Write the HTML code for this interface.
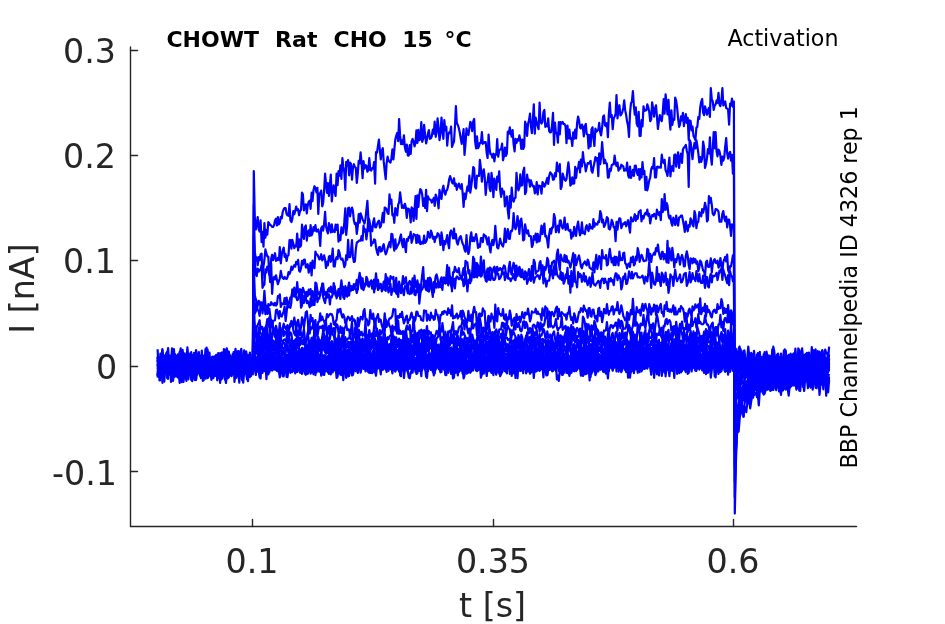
<!DOCTYPE html>
<html><head><meta charset="utf-8"><title>Activation</title>
<style>
html,body{margin:0;padding:0;background:#fff;}
svg{display:block;}
text{font-family:"DejaVu Sans","Liberation Sans",sans-serif;}
.tick{font-size:33.3px;fill:#262626;}
.lab{font-size:33.3px;fill:#262626;}
</style></head>
<body>
<svg width="945" height="624" viewBox="0 0 945 624">
<rect width="945" height="624" fill="#fff"/>
<g fill="none" stroke="#0000ff" stroke-width="2.2" stroke-linejoin="round" stroke-linecap="butt">
<path d="M157.6 360.2L158.5 365.0L159.5 362.6L160.4 366.4L161.4 369.7L162.4 352.4L163.3 363.2L164.3 366.5L165.3 362.5L166.2 356.6L167.2 361.9L168.1 365.7L169.1 365.0L170.1 359.1L171.0 358.4L172.0 362.5L173.0 359.3L173.9 364.6L174.9 368.4L175.8 366.4L176.8 358.7L177.8 368.4L178.7 361.8L179.7 363.0L180.7 369.1L181.6 364.7L182.6 363.8L183.5 363.9L184.5 363.5L185.5 365.6L186.4 370.4L187.4 358.3L188.3 353.1L189.3 364.4L190.3 361.6L191.2 363.8L192.2 368.1L193.2 364.8L194.1 360.8L195.1 363.6L196.0 350.0L197.0 354.2L198.0 368.7L198.9 366.6L199.9 372.4L200.9 364.0L201.8 361.4L202.8 360.0L203.7 363.5L204.7 360.9L205.7 363.9L206.6 355.8L207.6 359.5L208.5 361.5L209.5 363.8L210.5 368.6L211.4 361.6L212.4 364.3L213.4 372.7L214.3 365.5L215.3 368.3L216.2 365.2L217.2 367.2L218.2 369.1L219.1 367.7L220.1 369.7L221.1 359.6L222.0 366.6L223.0 355.3L223.9 357.3L224.9 349.5L225.9 363.3L226.8 357.8L227.8 356.8L228.8 363.8L229.7 360.9L230.7 366.3L231.6 367.2L232.6 369.8L233.6 357.5L234.5 365.1L235.5 371.5L236.4 360.1L237.4 361.4L238.4 366.4L239.3 371.7L240.3 366.2L241.3 368.8L242.2 368.5L243.2 358.4L244.1 359.5L245.1 361.6L246.1 351.6L247.0 364.2L248.0 363.9L249.0 364.2L249.9 362.8L250.9 367.3L251.8 363.4L252.8 370.6L253.8 171.0L254.8 218.2L255.8 229.5L256.7 224.3L257.7 217.0L258.7 229.4L259.6 231.6L260.6 220.3L261.6 242.1L262.5 231.8L263.5 246.6L264.4 223.2L265.4 237.7L266.4 230.1L267.3 234.6L268.3 222.1L269.3 223.5L270.2 225.1L271.2 225.5L272.1 226.9L273.1 227.0L274.1 225.2L275.0 220.5L276.0 218.7L277.0 225.5L277.9 217.1L278.9 224.3L279.8 222.8L280.8 216.9L281.8 218.4L282.7 212.0L283.7 209.2L284.6 208.0L285.6 208.0L286.6 214.1L287.5 215.3L288.5 215.8L289.5 204.1L290.4 220.2L291.4 222.1L292.3 219.2L293.3 211.2L294.3 214.2L295.2 211.1L296.2 206.5L297.2 210.2L298.1 209.2L299.1 215.2L300.0 211.1L301.0 210.0L302.0 192.6L302.9 194.4L303.9 210.3L304.8 205.1L305.8 204.3L306.8 213.5L307.7 205.6L308.7 201.8L309.7 200.6L310.6 208.8L311.6 192.7L312.5 201.1L313.5 190.0L314.5 186.2L315.4 188.0L316.4 192.3L317.4 187.8L318.3 214.0L319.3 193.5L320.2 193.3L321.2 190.6L322.2 206.3L323.1 203.5L324.1 191.0L325.1 173.5L326.0 183.3L327.0 193.0L327.9 183.1L328.9 195.9L329.9 185.0L330.8 174.5L331.8 201.4L332.7 191.5L333.7 185.3L334.7 192.2L335.6 195.9L336.6 173.5L337.6 185.1L338.5 171.2L339.5 175.6L340.4 165.3L341.4 178.9L342.4 158.0L343.3 166.7L344.3 172.0L345.3 190.0L346.2 161.9L347.2 165.8L348.1 160.0L349.1 175.3L350.1 162.7L351.0 163.9L352.0 179.7L352.9 168.1L353.9 164.2L354.9 167.3L355.8 167.8L356.8 183.0L357.8 173.3L358.7 160.8L359.7 163.4L360.6 152.3L361.6 163.5L362.6 178.2L363.5 161.2L364.5 168.7L365.5 165.2L366.4 165.9L367.4 171.7L368.3 170.0L369.3 158.0L370.3 170.2L371.2 170.5L372.2 168.2L373.2 168.5L374.1 162.1L375.1 183.7L376.0 152.0L377.0 152.6L378.0 145.6L378.9 139.6L379.9 150.5L380.8 159.3L381.8 150.7L382.8 148.2L383.7 161.2L384.7 170.8L385.7 179.2L386.6 163.5L387.6 156.7L388.5 160.5L389.5 161.7L390.5 162.6L391.4 158.4L392.4 149.4L393.4 159.4L394.3 150.1L395.3 139.4L396.2 135.9L397.2 133.0L398.2 141.1L399.1 119.0L400.1 135.9L401.0 144.1L402.0 140.4L403.0 144.2L403.9 135.4L404.9 147.4L405.9 151.7L406.8 144.5L407.8 155.4L408.7 155.6L409.7 145.2L410.7 154.0L411.6 141.5L412.6 139.0L413.6 141.4L414.5 146.3L415.5 143.1L416.4 130.4L417.4 143.0L418.4 129.8L419.3 140.1L420.3 139.1L421.3 122.1L422.2 141.8L423.2 138.6L424.1 124.9L425.1 134.9L426.1 143.4L427.0 139.3L428.0 133.4L428.9 130.1L429.9 138.8L430.9 138.3L431.8 136.3L432.8 129.6L433.8 133.7L434.7 121.7L435.7 136.8L436.6 132.4L437.6 118.4L438.6 128.8L439.5 140.2L440.5 133.3L441.5 117.5L442.4 129.6L443.4 138.8L444.3 120.1L445.3 130.3L446.3 126.7L447.2 145.6L448.2 134.7L449.1 132.5L450.1 133.0L451.1 126.5L452.0 147.0L453.0 144.0L454.0 141.6L454.9 127.5L455.9 106.0L456.8 123.2L457.8 124.8L458.8 128.1L459.7 132.3L460.7 138.0L461.7 143.8L462.6 137.1L463.6 129.2L464.5 155.0L465.5 143.7L466.5 128.4L467.4 132.8L468.4 135.0L469.4 128.3L470.3 121.8L471.3 123.4L472.2 131.1L473.2 121.4L474.2 119.0L475.1 141.1L476.1 148.4L477.0 136.4L478.0 148.2L479.0 146.2L479.9 142.8L480.9 142.8L481.9 132.0L482.8 143.8L483.8 142.9L484.7 142.2L485.7 142.1L486.7 153.1L487.6 158.0L488.6 134.5L489.6 149.2L490.5 154.2L491.5 154.4L492.4 157.6L493.4 153.7L494.4 161.3L495.3 154.4L496.3 154.6L497.2 139.0L498.2 156.7L499.2 150.7L500.1 149.5L501.1 149.3L502.1 143.7L503.0 160.3L504.0 155.9L504.9 147.5L505.9 155.8L506.9 153.4L507.8 131.6L508.8 133.9L509.8 127.4L510.7 132.9L511.7 136.6L512.6 130.1L513.6 144.1L514.6 151.4L515.5 138.9L516.5 142.9L517.5 139.2L518.4 140.5L519.4 135.4L520.3 139.5L521.3 148.8L522.3 139.5L523.2 149.0L524.2 146.4L525.1 121.7L526.1 124.8L527.1 135.8L528.0 124.0L529.0 120.3L530.0 113.6L530.9 126.2L531.9 133.2L532.8 120.6L533.8 104.4L534.8 133.7L535.7 117.7L536.7 122.8L537.7 125.9L538.6 129.2L539.6 102.5L540.5 121.5L541.5 123.6L542.5 121.7L543.4 112.2L544.4 110.0L545.3 126.9L546.3 123.8L547.3 126.4L548.2 118.3L549.2 131.3L550.2 132.4L551.1 132.2L552.1 124.8L553.0 112.8L554.0 144.9L555.0 122.5L555.9 133.1L556.9 133.0L557.9 142.7L558.8 122.0L559.8 134.5L560.7 122.1L561.7 123.3L562.7 122.0L563.6 124.0L564.6 124.2L565.6 126.6L566.5 143.2L567.5 125.7L568.4 138.5L569.4 129.7L570.4 138.9L571.3 138.1L572.3 146.0L573.2 132.4L574.2 138.6L575.2 129.6L576.1 138.4L577.1 123.0L578.1 116.5L579.0 120.4L580.0 127.5L580.9 128.5L581.9 124.5L582.9 127.1L583.8 136.4L584.8 126.1L585.8 123.9L586.7 134.2L587.7 134.5L588.6 148.4L589.6 135.0L590.6 146.5L591.5 129.4L592.5 127.3L593.4 138.2L594.4 146.0L595.4 128.5L596.3 131.8L597.3 130.7L598.3 129.8L599.2 122.9L600.2 132.2L601.1 135.4L602.1 127.6L603.1 116.7L604.0 115.5L605.0 125.2L606.0 126.4L606.9 123.2L607.9 137.2L608.8 114.9L609.8 102.6L610.8 117.0L611.7 115.1L612.7 129.2L613.7 118.5L614.6 116.6L615.6 114.0L616.5 95.0L617.5 118.5L618.5 108.1L619.4 105.2L620.4 115.4L621.3 114.4L622.3 112.1L623.3 107.9L624.2 100.3L625.2 110.4L626.2 115.3L627.1 121.6L628.1 126.1L629.0 137.0L630.0 113.4L631.0 103.0L631.9 101.6L632.9 91.0L633.9 106.2L634.8 114.7L635.8 107.3L636.7 123.6L637.7 126.3L638.7 111.9L639.6 136.0L640.6 136.0L641.5 120.2L642.5 126.5L643.5 106.3L644.4 111.0L645.4 110.3L646.4 110.2L647.3 104.4L648.3 107.4L649.2 111.4L650.2 121.2L651.2 119.5L652.1 102.3L653.1 108.2L654.1 116.7L655.0 108.6L656.0 105.4L656.9 116.2L657.9 129.0L658.9 121.3L659.8 115.0L660.8 119.6L661.8 121.0L662.7 112.8L663.7 99.0L664.6 113.6L665.6 94.4L666.6 104.2L667.5 114.4L668.5 99.8L669.4 117.8L670.4 129.7L671.4 110.4L672.3 124.9L673.3 119.1L674.3 119.9L675.2 97.5L676.2 101.0L677.1 107.4L678.1 118.3L679.1 126.9L680.0 124.7L681.0 116.4L682.0 120.5L682.9 112.9L683.9 126.1L684.8 120.2L685.8 114.0L686.8 123.0L687.7 117.8L688.7 140.0L689.6 120.4L690.6 121.0L691.6 130.3L692.5 126.5L693.5 136.0L694.5 137.9L695.4 140.0L696.4 127.6L697.3 126.9L698.3 117.0L699.3 118.8L700.2 107.5L701.2 101.8L702.2 99.0L703.1 112.6L704.1 115.2L705.0 106.4L706.0 110.0L707.0 114.7L707.9 110.2L708.9 107.9L709.9 116.9L710.8 88.0L711.8 99.7L712.7 101.1L713.7 110.0L714.7 105.3L715.6 104.6L716.6 100.3L717.5 102.8L718.5 92.9L719.5 104.6L720.4 106.1L721.4 100.5L722.4 88.0L723.3 105.5L724.3 103.0L725.2 101.5L726.2 108.2L727.2 108.5L728.1 109.6L729.1 124.7L730.1 103.6L731.0 105.7L732.0 98.5L732.9 106.7L733.9 101.7L734.8 513.6L735.8 467.4L736.7 435.6L737.7 424.6L738.6 431.7L739.6 419.8L740.6 403.6L741.5 407.3L742.5 409.8L743.5 416.7L744.4 409.7L745.4 407.2L746.3 412.1L747.3 402.4L748.3 396.0L749.2 403.5L750.2 400.2L751.2 391.7L752.1 394.0L753.1 390.1L754.0 389.2L755.0 389.6L756.0 389.9L756.9 389.4L757.9 398.5L758.8 390.7L759.8 390.3L760.8 384.6L761.7 387.6L762.7 392.6L763.7 394.6L764.6 393.5L765.6 390.2L766.5 389.6L767.5 383.3L768.5 386.9L769.4 380.3L770.4 390.5L771.4 389.8L772.3 383.1L773.3 390.0L774.2 383.6L775.2 383.2L776.2 376.1L777.1 382.8L778.1 376.1L779.0 391.5L780.0 388.8L781.0 394.9L781.9 385.7L782.9 390.5L783.9 388.5L784.8 384.5L785.8 389.6L786.7 385.2L787.7 388.7L788.7 395.7L789.6 386.8L790.6 375.1L791.6 378.3L792.5 384.9L793.5 377.4L794.4 374.2L795.4 373.8L796.4 383.0L797.3 386.1L798.3 376.0L799.3 377.5L800.2 368.8L801.2 379.2L802.1 374.9L803.1 376.8L804.1 390.5L805.0 376.0L806.0 373.4L806.9 375.3L807.9 380.7L808.9 374.4L809.8 377.6L810.8 374.5L811.8 374.3L812.7 379.0L813.7 382.4L814.6 370.8L815.6 379.0L816.6 380.6L817.5 368.0L818.5 375.3L819.5 373.8L820.4 376.0L821.4 374.2L822.3 377.2L823.3 386.8L824.3 379.3L825.2 378.7L826.2 375.9L827.1 386.9L828.1 382.6L829.1 381.5"/>
<path d="M157.6 356.4L158.5 361.3L159.5 364.9L160.4 365.0L161.4 367.6L162.4 368.0L163.3 364.2L164.3 359.9L165.3 369.0L166.2 360.4L167.2 356.3L168.1 348.1L169.1 365.1L170.1 366.2L171.0 362.8L172.0 361.0L173.0 355.3L173.9 356.0L174.9 367.5L175.8 371.0L176.8 362.1L177.8 367.7L178.7 364.6L179.7 357.1L180.7 362.0L181.6 362.5L182.6 367.1L183.5 363.8L184.5 358.1L185.5 366.3L186.4 361.8L187.4 359.9L188.3 358.8L189.3 358.1L190.3 366.6L191.2 367.0L192.2 381.2L193.2 369.8L194.1 377.6L195.1 368.7L196.0 367.8L197.0 366.3L198.0 370.6L198.9 367.0L199.9 360.3L200.9 369.9L201.8 365.5L202.8 368.0L203.7 364.1L204.7 360.4L205.7 371.9L206.6 363.5L207.6 359.8L208.5 366.9L209.5 365.2L210.5 370.6L211.4 362.5L212.4 362.2L213.4 365.3L214.3 361.1L215.3 362.7L216.2 361.2L217.2 380.3L218.2 370.7L219.1 360.5L220.1 364.6L221.1 367.3L222.0 368.4L223.0 368.1L223.9 362.1L224.9 374.4L225.9 372.4L226.8 365.7L227.8 369.0L228.8 377.3L229.7 365.6L230.7 366.4L231.6 369.1L232.6 365.8L233.6 366.4L234.5 370.7L235.5 369.6L236.4 368.0L237.4 365.3L238.4 372.9L239.3 373.4L240.3 371.9L241.3 369.5L242.2 369.9L243.2 371.5L244.1 374.7L245.1 362.1L246.1 366.5L247.0 366.2L248.0 361.8L249.0 357.9L249.9 367.1L250.9 367.7L251.8 361.7L252.8 366.9L253.8 205.0L254.8 252.0L255.8 258.9L256.7 257.5L257.7 265.1L258.7 257.0L259.6 260.3L260.6 254.4L261.6 253.6L262.5 278.4L263.5 266.0L264.4 260.0L265.4 249.4L266.4 253.4L267.3 256.4L268.3 256.5L269.3 274.8L270.2 271.9L271.2 258.8L272.1 254.8L273.1 260.2L274.1 257.0L275.0 253.2L276.0 260.8L277.0 260.3L277.9 257.8L278.9 260.0L279.8 247.2L280.8 263.3L281.8 254.3L282.7 250.4L283.7 247.7L284.6 256.8L285.6 254.0L286.6 261.0L287.5 256.0L288.5 255.1L289.5 240.0L290.4 240.0L291.4 248.6L292.3 239.8L293.3 243.5L294.3 248.2L295.2 245.6L296.2 246.3L297.2 233.5L298.1 250.5L299.1 239.3L300.0 246.8L301.0 245.6L302.0 224.7L302.9 232.8L303.9 238.9L304.8 227.0L305.8 225.5L306.8 240.6L307.7 233.0L308.7 230.5L309.7 236.0L310.6 225.2L311.6 235.3L312.5 233.0L313.5 227.2L314.5 230.6L315.4 225.2L316.4 231.4L317.4 231.4L318.3 229.4L319.3 234.1L320.2 246.0L321.2 228.2L322.2 226.5L323.1 230.6L324.1 224.3L325.1 211.9L326.0 226.1L327.0 230.7L327.9 233.4L328.9 223.0L329.9 226.5L330.8 232.4L331.8 224.3L332.7 231.9L333.7 230.4L334.7 232.0L335.6 224.6L336.6 229.8L337.6 224.5L338.5 241.7L339.5 235.4L340.4 240.2L341.4 227.3L342.4 233.5L343.3 232.3L344.3 222.2L345.3 208.4L346.2 235.0L347.2 224.9L348.1 208.2L349.1 207.6L350.1 216.3L351.0 210.4L352.0 207.6L352.9 210.8L353.9 220.8L354.9 224.1L355.8 222.8L356.8 233.8L357.8 226.2L358.7 214.2L359.7 222.7L360.6 213.4L361.6 216.2L362.6 219.4L363.5 221.2L364.5 223.6L365.5 219.1L366.4 210.1L367.4 200.8L368.3 217.6L369.3 220.0L370.3 225.6L371.2 227.5L372.2 231.3L373.2 222.2L374.1 218.3L375.1 227.2L376.0 227.3L377.0 224.1L378.0 221.9L378.9 220.6L379.9 227.6L380.8 226.3L381.8 220.4L382.8 212.8L383.7 222.4L384.7 207.6L385.7 208.1L386.6 209.2L387.6 213.1L388.5 213.9L389.5 194.4L390.5 203.9L391.4 199.7L392.4 215.3L393.4 214.3L394.3 222.8L395.3 208.1L396.2 209.6L397.2 215.4L398.2 204.7L399.1 202.5L400.1 192.4L401.0 199.4L402.0 207.8L403.0 205.6L403.9 208.0L404.9 203.8L405.9 207.5L406.8 217.8L407.8 208.5L408.7 208.7L409.7 210.8L410.7 222.4L411.6 207.4L412.6 208.6L413.6 220.8L414.5 210.7L415.5 196.0L416.4 218.9L417.4 195.3L418.4 206.8L419.3 195.3L420.3 189.2L421.3 190.2L422.2 194.7L423.2 205.9L424.1 198.4L425.1 208.0L426.1 189.9L427.0 211.1L428.0 196.4L428.9 198.9L429.9 199.5L430.9 200.0L431.8 202.6L432.8 200.4L433.8 197.8L434.7 205.8L435.7 194.6L436.6 197.2L437.6 201.0L438.6 208.3L439.5 189.9L440.5 194.9L441.5 199.0L442.4 190.0L443.4 185.7L444.3 191.7L445.3 194.6L446.3 190.8L447.2 189.7L448.2 185.8L449.1 179.5L450.1 176.0L451.1 179.2L452.0 182.4L453.0 183.5L454.0 178.3L454.9 185.8L455.9 183.7L456.8 189.8L457.8 185.9L458.8 183.6L459.7 187.0L460.7 188.6L461.7 184.0L462.6 192.5L463.6 207.0L464.5 193.7L465.5 199.2L466.5 192.5L467.4 186.7L468.4 190.6L469.4 175.7L470.3 192.7L471.3 185.8L472.2 178.5L473.2 167.1L474.2 168.2L475.1 187.2L476.1 188.5L477.0 175.7L478.0 176.0L479.0 175.9L479.9 159.8L480.9 168.3L481.9 181.6L482.8 172.7L483.8 169.4L484.7 177.2L485.7 195.0L486.7 183.1L487.6 181.1L488.6 173.5L489.6 188.4L490.5 191.2L491.5 172.9L492.4 180.2L493.4 197.2L494.4 178.7L495.3 185.0L496.3 189.9L497.2 176.5L498.2 181.6L499.2 171.4L500.1 189.4L501.1 196.8L502.1 188.6L503.0 193.4L504.0 191.4L504.9 206.4L505.9 199.8L506.9 196.5L507.8 210.4L508.8 218.5L509.8 196.2L510.7 207.6L511.7 187.5L512.6 198.2L513.6 201.7L514.6 198.2L515.5 197.7L516.5 172.8L517.5 185.4L518.4 190.4L519.4 187.6L520.3 174.3L521.3 185.6L522.3 185.2L523.2 171.2L524.2 167.7L525.1 194.2L526.1 191.6L527.1 174.7L528.0 181.3L529.0 179.7L530.0 186.7L530.9 180.4L531.9 183.9L532.8 186.3L533.8 185.9L534.8 193.4L535.7 191.0L536.7 182.1L537.7 194.5L538.6 185.7L539.6 185.8L540.5 186.2L541.5 193.7L542.5 182.1L543.4 183.4L544.4 186.6L545.3 185.0L546.3 181.3L547.3 177.9L548.2 183.9L549.2 176.0L550.2 172.4L551.1 173.5L552.1 174.7L553.0 179.7L554.0 179.4L555.0 173.0L555.9 176.5L556.9 162.5L557.9 170.6L558.8 171.4L559.8 164.1L560.7 189.0L561.7 186.5L562.7 173.5L563.6 177.0L564.6 179.7L565.6 180.8L566.5 179.1L567.5 169.4L568.4 162.3L569.4 171.8L570.4 185.6L571.3 184.4L572.3 177.3L573.2 183.7L574.2 183.5L575.2 166.9L576.1 178.0L577.1 168.6L578.1 168.5L579.0 161.8L580.0 172.3L580.9 159.7L581.9 166.5L582.9 152.1L583.8 161.2L584.8 163.8L585.8 171.4L586.7 167.0L587.7 163.1L588.6 163.7L589.6 162.5L590.6 160.9L591.5 170.8L592.5 172.6L593.4 167.3L594.4 163.1L595.4 157.0L596.3 160.5L597.3 158.1L598.3 176.1L599.2 153.3L600.2 164.1L601.1 157.6L602.1 142.0L603.1 154.1L604.0 163.4L605.0 159.8L606.0 163.5L606.9 163.5L607.9 177.6L608.8 177.4L609.8 168.9L610.8 170.8L611.7 165.1L612.7 164.4L613.7 164.5L614.6 155.5L615.6 162.9L616.5 166.2L617.5 162.5L618.5 170.7L619.4 168.0L620.4 168.5L621.3 164.7L622.3 165.7L623.3 166.4L624.2 170.7L625.2 169.5L626.2 170.5L627.1 162.7L628.1 175.1L629.0 177.7L630.0 166.5L631.0 178.0L631.9 174.7L632.9 169.9L633.9 175.8L634.8 165.9L635.8 165.7L636.7 171.8L637.7 174.9L638.7 169.1L639.6 179.6L640.6 169.2L641.5 177.4L642.5 162.1L643.5 173.9L644.4 171.0L645.4 190.0L646.4 176.8L647.3 190.4L648.3 185.5L649.2 180.6L650.2 177.5L651.2 169.4L652.1 166.8L653.1 168.4L654.1 158.0L655.0 177.4L656.0 177.4L656.9 166.9L657.9 166.5L658.9 167.7L659.8 167.1L660.8 167.7L661.8 154.6L662.7 161.1L663.7 163.0L664.6 159.9L665.6 170.3L666.6 172.5L667.5 176.0L668.5 166.2L669.4 157.6L670.4 176.3L671.4 166.7L672.3 166.2L673.3 171.1L674.3 155.0L675.2 154.5L676.2 166.7L677.1 157.5L678.1 152.3L679.1 167.9L680.0 158.2L681.0 153.7L682.0 163.0L682.9 149.6L683.9 147.6L684.8 146.8L685.8 145.0L686.8 150.7L687.7 154.2L688.7 187.0L689.6 140.0L690.6 142.2L691.6 150.4L692.5 159.1L693.5 149.2L694.5 142.9L695.4 148.4L696.4 140.3L697.3 145.7L698.3 152.8L699.3 162.4L700.2 157.1L701.2 161.9L702.2 158.4L703.1 141.5L704.1 147.4L705.0 168.0L706.0 164.1L707.0 158.1L707.9 149.0L708.9 153.5L709.9 137.4L710.8 155.7L711.8 164.6L712.7 149.6L713.7 132.1L714.7 148.3L715.6 132.0L716.6 151.4L717.5 156.4L718.5 149.5L719.5 151.2L720.4 156.0L721.4 164.9L722.4 156.5L723.3 160.7L724.3 157.2L725.2 146.7L726.2 138.0L727.2 153.4L728.1 158.6L729.1 153.6L730.1 151.9L731.0 160.7L732.0 154.8L732.9 173.6L733.9 160.7L734.8 497.3L735.8 452.0L736.7 437.2L737.7 428.7L738.6 413.2L739.6 416.4L740.6 414.5L741.5 407.9L742.5 406.0L743.5 416.7L744.4 406.0L745.4 394.7L746.3 396.7L747.3 396.7L748.3 393.8L749.2 401.6L750.2 408.4L751.2 401.3L752.1 379.4L753.1 383.4L754.0 395.2L755.0 393.5L756.0 392.6L756.9 397.0L757.9 394.3L758.8 405.4L759.8 391.2L760.8 387.1L761.7 380.6L762.7 383.6L763.7 381.5L764.6 392.4L765.6 380.7L766.5 385.3L767.5 386.5L768.5 387.6L769.4 374.3L770.4 390.9L771.4 378.0L772.3 376.8L773.3 385.5L774.2 377.7L775.2 378.2L776.2 380.7L777.1 384.5L778.1 387.6L779.0 377.5L780.0 377.5L781.0 392.5L781.9 381.7L782.9 386.2L783.9 382.0L784.8 377.7L785.8 385.5L786.7 378.3L787.7 379.5L788.7 379.5L789.6 380.8L790.6 379.9L791.6 382.6L792.5 377.8L793.5 372.2L794.4 382.9L795.4 383.5L796.4 384.5L797.3 383.5L798.3 379.6L799.3 377.8L800.2 380.6L801.2 381.4L802.1 380.1L803.1 381.3L804.1 376.0L805.0 380.0L806.0 378.6L806.9 377.7L807.9 388.2L808.9 378.7L809.8 385.8L810.8 387.6L811.8 384.9L812.7 384.3L813.7 377.0L814.6 378.0L815.6 372.3L816.6 373.6L817.5 370.8L818.5 378.4L819.5 378.7L820.4 382.3L821.4 379.1L822.3 373.4L823.3 371.2L824.3 375.2L825.2 378.4L826.2 381.3L827.1 378.9L828.1 376.4L829.1 379.7"/>
<path d="M157.6 362.0L158.5 360.2L159.5 368.4L160.4 361.3L161.4 363.9L162.4 366.4L163.3 364.6L164.3 368.8L165.3 364.9L166.2 366.0L167.2 355.6L168.1 362.7L169.1 366.7L170.1 365.1L171.0 357.7L172.0 368.3L173.0 365.1L173.9 365.6L174.9 368.0L175.8 356.2L176.8 372.4L177.8 371.0L178.7 365.5L179.7 365.9L180.7 363.8L181.6 357.1L182.6 349.8L183.5 360.4L184.5 362.5L185.5 371.9L186.4 367.0L187.4 347.4L188.3 364.4L189.3 365.9L190.3 362.0L191.2 361.0L192.2 363.3L193.2 360.0L194.1 359.5L195.1 364.5L196.0 379.8L197.0 366.3L198.0 363.5L198.9 361.5L199.9 368.7L200.9 367.8L201.8 370.4L202.8 363.4L203.7 366.0L204.7 355.1L205.7 359.0L206.6 366.6L207.6 364.7L208.5 370.1L209.5 368.2L210.5 368.7L211.4 369.3L212.4 370.6L213.4 362.7L214.3 360.2L215.3 365.2L216.2 369.6L217.2 365.5L218.2 353.0L219.1 373.0L220.1 371.5L221.1 363.9L222.0 362.2L223.0 361.2L223.9 367.5L224.9 373.3L225.9 383.0L226.8 376.4L227.8 361.8L228.8 364.2L229.7 366.1L230.7 361.7L231.6 360.1L232.6 354.2L233.6 360.3L234.5 366.3L235.5 363.8L236.4 360.2L237.4 369.1L238.4 366.8L239.3 367.1L240.3 352.5L241.3 348.8L242.2 360.2L243.2 372.6L244.1 373.6L245.1 360.2L246.1 365.4L247.0 371.1L248.0 375.2L249.0 364.3L249.9 365.4L250.9 361.8L251.8 357.8L252.8 364.1L253.8 235.0L254.8 258.9L255.8 274.6L256.7 276.0L257.7 268.5L258.7 271.7L259.6 269.9L260.6 269.6L261.6 265.1L262.5 287.8L263.5 285.6L264.4 284.5L265.4 269.3L266.4 272.5L267.3 266.5L268.3 267.6L269.3 272.6L270.2 282.1L271.2 263.5L272.1 293.8L273.1 279.5L274.1 276.8L275.0 279.4L276.0 275.3L277.0 280.3L277.9 284.2L278.9 281.0L279.8 278.3L280.8 270.9L281.8 276.3L282.7 278.0L283.7 278.9L284.6 276.9L285.6 278.5L286.6 278.9L287.5 277.2L288.5 272.2L289.5 274.1L290.4 271.9L291.4 266.7L292.3 269.8L293.3 267.0L294.3 265.1L295.2 266.7L296.2 261.8L297.2 264.0L298.1 259.9L299.1 270.7L300.0 271.6L301.0 268.3L302.0 260.8L302.9 264.6L303.9 259.7L304.8 259.5L305.8 267.4L306.8 267.1L307.7 264.2L308.7 272.7L309.7 267.8L310.6 262.8L311.6 275.5L312.5 260.5L313.5 266.4L314.5 268.2L315.4 251.5L316.4 254.7L317.4 254.6L318.3 256.7L319.3 259.4L320.2 258.6L321.2 254.2L322.2 260.4L323.1 259.2L324.1 255.4L325.1 259.4L326.0 268.0L327.0 261.8L327.9 265.5L328.9 256.7L329.9 255.9L330.8 261.8L331.8 258.4L332.7 248.5L333.7 266.4L334.7 266.5L335.6 259.8L336.6 257.2L337.6 259.1L338.5 250.0L339.5 252.7L340.4 258.0L341.4 259.6L342.4 258.6L343.3 261.7L344.3 267.1L345.3 264.8L346.2 255.1L347.2 259.6L348.1 239.8L349.1 257.2L350.1 257.1L351.0 250.9L352.0 240.2L352.9 256.9L353.9 262.0L354.9 261.5L355.8 249.1L356.8 242.6L357.8 242.1L358.7 240.8L359.7 240.4L360.6 240.7L361.6 236.0L362.6 240.4L363.5 225.7L364.5 231.7L365.5 229.4L366.4 239.3L367.4 231.2L368.3 218.0L369.3 230.8L370.3 228.9L371.2 245.6L372.2 242.5L373.2 242.8L374.1 239.3L375.1 240.1L376.0 247.2L377.0 251.9L378.0 254.9L378.9 247.5L379.9 246.9L380.8 251.6L381.8 251.1L382.8 246.5L383.7 244.2L384.7 250.5L385.7 254.3L386.6 252.2L387.6 248.5L388.5 245.3L389.5 242.1L390.5 247.3L391.4 233.9L392.4 234.3L393.4 244.8L394.3 250.6L395.3 239.4L396.2 248.7L397.2 246.3L398.2 244.5L399.1 242.5L400.1 237.4L401.0 234.5L402.0 243.5L403.0 247.2L403.9 238.9L404.9 245.4L405.9 252.1L406.8 239.0L407.8 241.0L408.7 236.9L409.7 237.7L410.7 231.9L411.6 242.8L412.6 239.2L413.6 234.1L414.5 234.8L415.5 235.2L416.4 243.0L417.4 234.9L418.4 242.3L419.3 235.8L420.3 244.1L421.3 243.7L422.2 241.6L423.2 243.6L424.1 235.6L425.1 242.9L426.1 241.7L427.0 239.4L428.0 231.9L428.9 235.6L429.9 237.7L430.9 230.7L431.8 232.9L432.8 238.6L433.8 236.7L434.7 242.1L435.7 236.8L436.6 237.5L437.6 233.2L438.6 234.2L439.5 236.8L440.5 245.0L441.5 232.4L442.4 238.9L443.4 250.2L444.3 241.0L445.3 244.1L446.3 240.1L447.2 235.1L448.2 243.6L449.1 248.2L450.1 232.6L451.1 230.5L452.0 233.6L453.0 238.4L454.0 228.6L454.9 238.5L455.9 234.0L456.8 242.3L457.8 244.5L458.8 240.1L459.7 237.4L460.7 236.1L461.7 240.3L462.6 243.6L463.6 245.5L464.5 249.5L465.5 251.7L466.5 235.0L467.4 248.5L468.4 254.0L469.4 249.7L470.3 237.3L471.3 232.3L472.2 241.2L473.2 237.5L474.2 241.1L475.1 237.7L476.1 234.0L477.0 239.5L478.0 247.9L479.0 244.5L479.9 247.0L480.9 238.1L481.9 238.1L482.8 242.1L483.8 234.4L484.7 235.8L485.7 235.9L486.7 240.2L487.6 244.4L488.6 237.3L489.6 247.5L490.5 252.4L491.5 243.6L492.4 239.8L493.4 245.1L494.4 239.4L495.3 225.9L496.3 238.5L497.2 247.4L498.2 248.4L499.2 244.0L500.1 238.7L501.1 243.1L502.1 245.1L503.0 246.5L504.0 241.5L504.9 228.5L505.9 242.1L506.9 233.7L507.8 229.2L508.8 238.6L509.8 238.8L510.7 231.2L511.7 231.3L512.6 228.5L513.6 213.0L514.6 226.1L515.5 229.3L516.5 225.9L517.5 216.2L518.4 221.9L519.4 234.0L520.3 221.2L521.3 218.6L522.3 227.4L523.2 240.4L524.2 239.4L525.1 224.4L526.1 229.7L527.1 233.5L528.0 230.4L529.0 236.0L530.0 236.2L530.9 236.4L531.9 247.0L532.8 244.9L533.8 236.1L534.8 239.7L535.7 233.7L536.7 242.3L537.7 233.9L538.6 241.4L539.6 241.1L540.5 233.3L541.5 225.7L542.5 234.0L543.4 228.6L544.4 223.5L545.3 236.3L546.3 235.8L547.3 241.0L548.2 247.5L549.2 234.1L550.2 228.8L551.1 233.6L552.1 227.4L553.0 227.5L554.0 214.0L555.0 218.0L555.9 232.2L556.9 227.6L557.9 225.7L558.8 232.3L559.8 220.6L560.7 220.3L561.7 226.3L562.7 228.6L563.6 226.7L564.6 217.5L565.6 229.8L566.5 228.2L567.5 223.8L568.4 230.2L569.4 231.0L570.4 229.9L571.3 238.6L572.3 232.7L573.2 236.3L574.2 226.8L575.2 232.6L576.1 235.9L577.1 226.4L578.1 221.7L579.0 229.0L580.0 235.3L580.9 232.8L581.9 222.4L582.9 233.1L583.8 232.4L584.8 234.2L585.8 227.5L586.7 225.2L587.7 228.8L588.6 231.1L589.6 224.0L590.6 228.3L591.5 227.1L592.5 228.7L593.4 219.0L594.4 226.6L595.4 223.3L596.3 224.5L597.3 224.7L598.3 221.3L599.2 222.0L600.2 211.1L601.1 213.7L602.1 222.4L603.1 219.7L604.0 226.8L605.0 225.2L606.0 221.7L606.9 217.1L607.9 218.5L608.8 228.7L609.8 229.5L610.8 225.7L611.7 219.9L612.7 222.2L613.7 227.2L614.6 227.2L615.6 241.1L616.5 221.9L617.5 229.6L618.5 221.7L619.4 218.3L620.4 218.8L621.3 228.1L622.3 225.5L623.3 223.5L624.2 223.9L625.2 222.1L626.2 226.3L627.1 223.0L628.1 220.2L629.0 225.7L630.0 232.7L631.0 217.4L631.9 219.9L632.9 221.3L633.9 218.3L634.8 214.2L635.8 220.9L636.7 216.2L637.7 218.8L638.7 212.1L639.6 211.2L640.6 210.2L641.5 221.4L642.5 216.1L643.5 218.6L644.4 214.8L645.4 212.9L646.4 214.4L647.3 209.7L648.3 215.8L649.2 213.8L650.2 223.3L651.2 217.5L652.1 215.1L653.1 216.4L654.1 213.8L655.0 214.6L656.0 218.8L656.9 209.5L657.9 212.9L658.9 215.1L659.8 212.1L660.8 220.2L661.8 199.0L662.7 212.1L663.7 209.9L664.6 194.0L665.6 209.8L666.6 203.0L667.5 205.4L668.5 215.4L669.4 218.5L670.4 215.7L671.4 223.0L672.3 225.6L673.3 217.7L674.3 220.0L675.2 225.0L676.2 215.7L677.1 222.2L678.1 225.6L679.1 217.5L680.0 217.3L681.0 215.5L682.0 215.7L682.9 220.2L683.9 225.5L684.8 231.8L685.8 221.7L686.8 227.4L687.7 231.3L688.7 225.0L689.6 226.7L690.6 218.4L691.6 220.5L692.5 224.7L693.5 226.3L694.5 211.1L695.4 214.6L696.4 228.1L697.3 222.6L698.3 221.7L699.3 212.0L700.2 215.1L701.2 216.3L702.2 209.0L703.1 212.7L704.1 208.6L705.0 202.8L706.0 207.2L707.0 221.5L707.9 220.0L708.9 196.0L709.9 202.7L710.8 197.8L711.8 204.9L712.7 213.6L713.7 215.0L714.7 213.6L715.6 209.1L716.6 209.4L717.5 210.0L718.5 211.6L719.5 221.7L720.4 221.7L721.4 221.6L722.4 213.7L723.3 211.1L724.3 218.2L725.2 221.1L726.2 216.6L727.2 227.3L728.1 219.5L729.1 219.5L730.1 225.8L731.0 236.0L732.0 224.4L732.9 225.1L733.9 225.5L734.8 481.7L735.8 454.8L736.7 437.2L737.7 427.0L738.6 423.1L739.6 406.3L740.6 409.1L741.5 400.9L742.5 400.6L743.5 399.7L744.4 395.2L745.4 397.9L746.3 401.8L747.3 389.0L748.3 396.4L749.2 397.2L750.2 383.3L751.2 400.2L752.1 395.3L753.1 397.7L754.0 380.0L755.0 387.5L756.0 385.9L756.9 386.9L757.9 385.4L758.8 391.1L759.8 390.6L760.8 389.4L761.7 390.4L762.7 390.4L763.7 380.8L764.6 378.2L765.6 376.1L766.5 377.6L767.5 383.1L768.5 389.1L769.4 386.0L770.4 380.8L771.4 380.2L772.3 382.6L773.3 388.7L774.2 384.7L775.2 379.7L776.2 369.5L777.1 376.3L778.1 382.0L779.0 379.4L780.0 378.8L781.0 379.6L781.9 377.2L782.9 378.1L783.9 377.5L784.8 383.8L785.8 387.6L786.7 371.1L787.7 383.1L788.7 382.3L789.6 379.0L790.6 376.6L791.6 385.9L792.5 383.3L793.5 381.7L794.4 379.7L795.4 366.6L796.4 381.7L797.3 386.2L798.3 377.5L799.3 390.6L800.2 386.6L801.2 378.9L802.1 381.0L803.1 382.3L804.1 378.7L805.0 375.0L806.0 375.5L806.9 373.0L807.9 376.7L808.9 370.6L809.8 380.1L810.8 380.0L811.8 378.1L812.7 376.2L813.7 378.8L814.6 373.1L815.6 372.4L816.6 388.2L817.5 382.8L818.5 378.8L819.5 394.9L820.4 385.2L821.4 384.6L822.3 369.1L823.3 379.7L824.3 384.2L825.2 375.6L826.2 375.5L827.1 378.4L828.1 382.7L829.1 381.0"/>
<path d="M157.6 362.1L158.5 371.6L159.5 368.8L160.4 366.3L161.4 364.1L162.4 360.9L163.3 364.2L164.3 371.5L165.3 360.0L166.2 364.9L167.2 368.4L168.1 365.4L169.1 355.4L170.1 373.6L171.0 367.2L172.0 365.1L173.0 355.8L173.9 372.8L174.9 367.8L175.8 369.1L176.8 370.8L177.8 369.0L178.7 364.9L179.7 369.1L180.7 371.0L181.6 365.9L182.6 363.1L183.5 355.3L184.5 357.4L185.5 370.3L186.4 365.8L187.4 367.8L188.3 363.8L189.3 360.7L190.3 366.7L191.2 364.6L192.2 371.2L193.2 362.7L194.1 358.3L195.1 368.7L196.0 362.3L197.0 367.4L198.0 370.1L198.9 367.1L199.9 366.9L200.9 378.2L201.8 368.0L202.8 372.8L203.7 376.6L204.7 375.6L205.7 361.8L206.6 375.9L207.6 377.7L208.5 369.3L209.5 368.9L210.5 366.2L211.4 367.1L212.4 365.5L213.4 362.9L214.3 365.0L215.3 366.0L216.2 355.2L217.2 368.6L218.2 366.7L219.1 364.7L220.1 362.9L221.1 362.7L222.0 358.5L223.0 356.9L223.9 363.6L224.9 361.4L225.9 364.9L226.8 358.3L227.8 368.5L228.8 365.4L229.7 360.7L230.7 366.1L231.6 365.3L232.6 371.8L233.6 359.8L234.5 382.0L235.5 371.3L236.4 367.7L237.4 370.0L238.4 365.4L239.3 379.4L240.3 371.7L241.3 365.2L242.2 367.6L243.2 376.2L244.1 365.5L245.1 372.1L246.1 364.2L247.0 354.7L248.0 356.5L249.0 362.2L249.9 359.9L250.9 370.8L251.8 370.9L252.8 368.7L253.8 265.0L254.8 295.6L255.8 299.1L256.7 302.8L257.7 305.8L258.7 300.8L259.6 301.8L260.6 306.3L261.6 302.3L262.5 313.3L263.5 304.9L264.4 290.8L265.4 304.7L266.4 305.9L267.3 314.0L268.3 304.2L269.3 305.6L270.2 305.2L271.2 302.2L272.1 304.5L273.1 303.6L274.1 305.4L275.0 302.8L276.0 305.7L277.0 304.2L277.9 296.1L278.9 297.2L279.8 294.3L280.8 307.0L281.8 303.4L282.7 304.0L283.7 304.2L284.6 298.0L285.6 304.1L286.6 297.5L287.5 303.5L288.5 305.3L289.5 301.1L290.4 297.4L291.4 297.4L292.3 291.4L293.3 296.0L294.3 287.7L295.2 293.4L296.2 294.0L297.2 282.0L298.1 292.1L299.1 290.5L300.0 292.9L301.0 289.8L302.0 298.4L302.9 287.9L303.9 291.1L304.8 292.2L305.8 297.9L306.8 291.8L307.7 296.1L308.7 289.7L309.7 294.3L310.6 289.1L311.6 298.5L312.5 291.2L313.5 295.4L314.5 300.2L315.4 282.5L316.4 283.5L317.4 290.9L318.3 294.1L319.3 292.7L320.2 295.5L321.2 288.2L322.2 291.1L323.1 283.6L324.1 293.1L325.1 294.9L326.0 292.0L327.0 296.9L327.9 289.9L328.9 288.2L329.9 291.8L330.8 286.5L331.8 292.2L332.7 293.3L333.7 283.0L334.7 288.6L335.6 290.8L336.6 298.3L337.6 293.8L338.5 291.0L339.5 288.5L340.4 288.6L341.4 280.3L342.4 289.9L343.3 286.8L344.3 298.9L345.3 289.2L346.2 293.9L347.2 296.7L348.1 288.7L349.1 295.4L350.1 285.8L351.0 287.1L352.0 286.1L352.9 289.9L353.9 289.1L354.9 286.5L355.8 285.0L356.8 279.9L357.8 289.3L358.7 280.5L359.7 281.3L360.6 276.9L361.6 288.0L362.6 278.3L363.5 289.1L364.5 287.0L365.5 284.4L366.4 276.8L367.4 279.1L368.3 286.3L369.3 282.4L370.3 282.4L371.2 280.3L372.2 288.6L373.2 282.8L374.1 279.6L375.1 288.6L376.0 285.3L377.0 280.4L378.0 280.0L378.9 286.9L379.9 287.0L380.8 287.8L381.8 287.9L382.8 286.6L383.7 281.6L384.7 287.3L385.7 274.2L386.6 283.8L387.6 277.6L388.5 284.0L389.5 284.4L390.5 276.1L391.4 277.8L392.4 278.7L393.4 276.8L394.3 291.5L395.3 286.6L396.2 277.8L397.2 294.2L398.2 287.4L399.1 281.7L400.1 286.5L401.0 293.2L402.0 285.1L403.0 276.0L403.9 284.0L404.9 279.9L405.9 277.3L406.8 287.6L407.8 291.3L408.7 282.8L409.7 281.0L410.7 283.6L411.6 287.0L412.6 278.3L413.6 288.1L414.5 275.5L415.5 286.0L416.4 287.8L417.4 280.4L418.4 288.1L419.3 284.8L420.3 292.1L421.3 283.1L422.2 274.8L423.2 267.1L424.1 284.1L425.1 284.3L426.1 280.7L427.0 290.5L428.0 278.0L428.9 286.7L429.9 277.5L430.9 279.3L431.8 290.4L432.8 296.8L433.8 282.2L434.7 283.5L435.7 276.3L436.6 274.4L437.6 278.5L438.6 287.5L439.5 285.5L440.5 280.2L441.5 277.4L442.4 283.8L443.4 283.1L444.3 281.7L445.3 283.5L446.3 276.2L447.2 265.2L448.2 285.3L449.1 279.0L450.1 276.4L451.1 279.1L452.0 291.3L453.0 272.3L454.0 272.4L454.9 266.8L455.9 269.7L456.8 271.8L457.8 272.1L458.8 268.2L459.7 274.8L460.7 276.3L461.7 279.6L462.6 272.6L463.6 268.1L464.5 275.5L465.5 260.9L466.5 262.6L467.4 262.4L468.4 273.3L469.4 270.2L470.3 279.3L471.3 280.6L472.2 272.1L473.2 256.9L474.2 277.3L475.1 276.8L476.1 275.0L477.0 263.1L478.0 265.2L479.0 274.2L479.9 273.0L480.9 256.6L481.9 270.4L482.8 272.0L483.8 260.4L484.7 277.4L485.7 273.9L486.7 272.2L487.6 268.6L488.6 279.7L489.6 267.6L490.5 267.8L491.5 270.4L492.4 272.8L493.4 268.4L494.4 266.7L495.3 273.3L496.3 271.3L497.2 266.8L498.2 270.6L499.2 269.9L500.1 268.1L501.1 269.0L502.1 271.9L503.0 268.1L504.0 265.5L504.9 266.4L505.9 273.4L506.9 276.2L507.8 278.4L508.8 267.4L509.8 261.9L510.7 271.4L511.7 274.6L512.6 268.0L513.6 262.8L514.6 266.1L515.5 276.4L516.5 265.6L517.5 274.9L518.4 269.2L519.4 266.8L520.3 269.8L521.3 273.3L522.3 273.2L523.2 277.3L524.2 274.1L525.1 271.4L526.1 273.7L527.1 276.7L528.0 273.5L529.0 269.0L530.0 277.4L530.9 280.8L531.9 266.1L532.8 273.5L533.8 259.9L534.8 262.3L535.7 273.7L536.7 271.4L537.7 271.3L538.6 270.5L539.6 262.7L540.5 261.1L541.5 273.9L542.5 265.3L543.4 283.3L544.4 267.1L545.3 270.1L546.3 266.7L547.3 257.9L548.2 260.1L549.2 272.9L550.2 266.1L551.1 269.4L552.1 262.4L553.0 261.9L554.0 260.7L555.0 267.2L555.9 266.0L556.9 253.9L557.9 249.6L558.8 262.3L559.8 269.9L560.7 254.5L561.7 258.5L562.7 260.5L563.6 261.4L564.6 254.8L565.6 261.8L566.5 256.0L567.5 262.4L568.4 260.7L569.4 263.5L570.4 267.6L571.3 263.8L572.3 258.3L573.2 253.1L574.2 265.5L575.2 255.0L576.1 265.2L577.1 261.4L578.1 257.9L579.0 255.5L580.0 260.2L580.9 266.5L581.9 268.3L582.9 264.2L583.8 263.3L584.8 261.4L585.8 264.1L586.7 265.3L587.7 259.7L588.6 261.7L589.6 267.6L590.6 268.3L591.5 269.2L592.5 269.9L593.4 262.3L594.4 272.4L595.4 262.0L596.3 254.9L597.3 269.0L598.3 262.8L599.2 256.1L600.2 259.8L601.1 269.2L602.1 250.1L603.1 258.2L604.0 257.4L605.0 258.6L606.0 255.0L606.9 265.5L607.9 264.5L608.8 256.1L609.8 248.9L610.8 256.5L611.7 262.4L612.7 258.1L613.7 265.2L614.6 256.7L615.6 265.2L616.5 256.8L617.5 259.5L618.5 265.4L619.4 251.7L620.4 260.2L621.3 258.4L622.3 260.1L623.3 253.2L624.2 252.6L625.2 263.2L626.2 264.3L627.1 268.3L628.1 264.5L629.0 263.3L630.0 267.0L631.0 257.6L631.9 262.0L632.9 256.7L633.9 265.3L634.8 264.0L635.8 256.5L636.7 260.2L637.7 248.1L638.7 252.5L639.6 261.8L640.6 257.7L641.5 254.8L642.5 257.1L643.5 261.0L644.4 261.1L645.4 260.5L646.4 260.3L647.3 248.8L648.3 250.0L649.2 260.3L650.2 253.8L651.2 262.0L652.1 255.7L653.1 254.8L654.1 252.6L655.0 254.7L656.0 248.0L656.9 251.1L657.9 244.5L658.9 252.6L659.8 256.4L660.8 259.2L661.8 252.3L662.7 251.8L663.7 259.4L664.6 254.0L665.6 255.8L666.6 262.3L667.5 240.8L668.5 262.9L669.4 248.3L670.4 256.0L671.4 260.5L672.3 247.9L673.3 255.1L674.3 267.4L675.2 259.2L676.2 262.2L677.1 258.2L678.1 254.0L679.1 257.8L680.0 264.7L681.0 258.0L682.0 255.0L682.9 258.3L683.9 266.4L684.8 266.2L685.8 255.9L686.8 251.3L687.7 255.7L688.7 265.1L689.6 269.2L690.6 258.4L691.6 259.4L692.5 263.3L693.5 258.3L694.5 262.2L695.4 259.2L696.4 263.7L697.3 261.5L698.3 271.2L699.3 267.7L700.2 260.5L701.2 262.1L702.2 266.6L703.1 270.5L704.1 271.4L705.0 276.3L706.0 262.2L707.0 260.7L707.9 266.7L708.9 267.1L709.9 264.3L710.8 258.4L711.8 272.5L712.7 264.2L713.7 260.4L714.7 259.2L715.6 262.8L716.6 263.1L717.5 260.6L718.5 267.7L719.5 265.4L720.4 258.0L721.4 265.8L722.4 271.0L723.3 261.9L724.3 259.5L725.2 256.8L726.2 261.5L727.2 254.7L728.1 270.0L729.1 272.9L730.1 266.2L731.0 266.3L732.0 260.9L732.9 255.3L733.9 262.4L734.8 466.8L735.8 442.0L736.7 413.6L737.7 415.6L738.6 418.8L739.6 406.6L740.6 399.0L741.5 409.8L742.5 398.4L743.5 399.5L744.4 394.5L745.4 397.5L746.3 398.0L747.3 391.9L748.3 401.8L749.2 399.1L750.2 387.4L751.2 386.6L752.1 395.1L753.1 385.0L754.0 391.0L755.0 390.6L756.0 374.8L756.9 387.9L757.9 387.5L758.8 380.7L759.8 381.4L760.8 384.2L761.7 386.7L762.7 383.9L763.7 385.6L764.6 384.5L765.6 385.9L766.5 385.7L767.5 389.6L768.5 378.3L769.4 384.0L770.4 376.8L771.4 375.2L772.3 387.3L773.3 381.6L774.2 382.9L775.2 376.8L776.2 378.9L777.1 378.6L778.1 378.8L779.0 383.4L780.0 378.0L781.0 376.4L781.9 380.8L782.9 386.9L783.9 365.8L784.8 382.5L785.8 379.5L786.7 379.4L787.7 371.7L788.7 373.5L789.6 378.2L790.6 381.6L791.6 383.3L792.5 374.8L793.5 375.0L794.4 380.0L795.4 377.4L796.4 375.2L797.3 377.3L798.3 368.7L799.3 366.7L800.2 368.0L801.2 374.8L802.1 374.6L803.1 376.5L804.1 370.5L805.0 381.6L806.0 381.4L806.9 381.2L807.9 378.1L808.9 378.1L809.8 376.1L810.8 367.5L811.8 367.6L812.7 374.6L813.7 382.8L814.6 379.7L815.6 384.6L816.6 372.2L817.5 362.6L818.5 379.1L819.5 388.5L820.4 379.3L821.4 381.3L822.3 379.8L823.3 379.3L824.3 383.9L825.2 379.2L826.2 395.8L827.1 379.1L828.1 377.3L829.1 374.0"/>
<path d="M157.6 365.2L158.5 365.8L159.5 380.4L160.4 362.9L161.4 357.6L162.4 358.9L163.3 361.5L164.3 355.3L165.3 365.6L166.2 370.6L167.2 367.2L168.1 360.5L169.1 356.2L170.1 363.0L171.0 360.7L172.0 357.2L173.0 362.4L173.9 366.0L174.9 363.7L175.8 361.5L176.8 363.0L177.8 363.6L178.7 363.8L179.7 362.3L180.7 369.7L181.6 373.3L182.6 366.2L183.5 367.1L184.5 372.5L185.5 357.4L186.4 360.8L187.4 366.6L188.3 370.0L189.3 356.0L190.3 357.8L191.2 367.8L192.2 380.4L193.2 377.4L194.1 360.2L195.1 368.5L196.0 379.8L197.0 368.7L198.0 359.3L198.9 372.1L199.9 356.0L200.9 365.1L201.8 365.0L202.8 357.1L203.7 357.1L204.7 362.2L205.7 366.1L206.6 369.2L207.6 349.6L208.5 360.3L209.5 357.7L210.5 363.0L211.4 375.9L212.4 360.2L213.4 364.5L214.3 356.3L215.3 360.1L216.2 366.6L217.2 368.7L218.2 376.7L219.1 364.0L220.1 371.4L221.1 376.2L222.0 363.2L223.0 368.2L223.9 373.9L224.9 353.1L225.9 362.6L226.8 362.5L227.8 373.7L228.8 352.7L229.7 361.7L230.7 366.1L231.6 358.8L232.6 363.1L233.6 364.9L234.5 361.3L235.5 378.2L236.4 370.4L237.4 355.4L238.4 363.6L239.3 365.3L240.3 360.1L241.3 369.3L242.2 364.6L243.2 367.8L244.1 367.1L245.1 372.0L246.1 365.7L247.0 364.3L248.0 365.2L249.0 372.7L249.9 371.6L250.9 366.2L251.8 369.6L252.8 366.5L253.8 280.0L254.8 313.5L255.8 311.6L256.7 303.1L257.7 310.1L258.7 311.3L259.6 315.9L260.6 304.8L261.6 308.6L262.5 310.3L263.5 308.6L264.4 302.5L265.4 314.2L266.4 309.3L267.3 312.4L268.3 313.3L269.3 308.5L270.2 315.2L271.2 326.6L272.1 327.0L273.1 320.8L274.1 320.6L275.0 320.2L276.0 310.2L277.0 309.6L277.9 313.2L278.9 318.3L279.8 311.2L280.8 316.1L281.8 316.5L282.7 313.8L283.7 311.4L284.6 306.7L285.6 321.0L286.6 312.4L287.5 304.0L288.5 307.3L289.5 306.3L290.4 307.8L291.4 302.0L292.3 289.3L293.3 293.7L294.3 296.6L295.2 293.0L296.2 297.4L297.2 300.2L298.1 299.4L299.1 292.1L300.0 289.2L301.0 307.7L302.0 305.6L302.9 295.9L303.9 302.8L304.8 296.2L305.8 297.9L306.8 303.1L307.7 301.0L308.7 303.8L309.7 307.3L310.6 298.3L311.6 305.6L312.5 299.6L313.5 304.8L314.5 304.9L315.4 293.9L316.4 291.6L317.4 302.1L318.3 298.4L319.3 298.7L320.2 292.1L321.2 290.9L322.2 283.6L323.1 296.8L324.1 300.3L325.1 303.0L326.0 296.9L327.0 297.7L327.9 295.5L328.9 294.3L329.9 304.3L330.8 296.6L331.8 297.3L332.7 294.1L333.7 293.5L334.7 286.3L335.6 295.7L336.6 293.6L337.6 295.8L338.5 289.2L339.5 295.5L340.4 299.0L341.4 287.8L342.4 287.6L343.3 297.3L344.3 296.7L345.3 286.2L346.2 295.4L347.2 287.8L348.1 287.5L349.1 282.5L350.1 290.2L351.0 290.7L352.0 287.0L352.9 289.6L353.9 284.0L354.9 287.4L355.8 288.7L356.8 293.0L357.8 288.4L358.7 278.4L359.7 272.8L360.6 282.1L361.6 288.7L362.6 284.7L363.5 290.1L364.5 284.1L365.5 283.7L366.4 284.4L367.4 284.5L368.3 284.6L369.3 286.6L370.3 281.9L371.2 282.7L372.2 285.1L373.2 281.4L374.1 292.3L375.1 284.4L376.0 273.4L377.0 282.4L378.0 290.0L378.9 288.7L379.9 284.2L380.8 283.9L381.8 291.4L382.8 287.3L383.7 289.5L384.7 289.6L385.7 290.8L386.6 280.2L387.6 287.0L388.5 292.4L389.5 288.8L390.5 283.9L391.4 294.8L392.4 289.4L393.4 288.1L394.3 280.8L395.3 283.4L396.2 293.3L397.2 291.8L398.2 296.8L399.1 285.7L400.1 291.4L401.0 291.6L402.0 287.2L403.0 291.8L403.9 295.1L404.9 286.1L405.9 288.0L406.8 288.3L407.8 293.2L408.7 292.4L409.7 294.1L410.7 288.0L411.6 293.5L412.6 289.1L413.6 285.0L414.5 294.5L415.5 295.2L416.4 289.7L417.4 292.1L418.4 283.9L419.3 303.6L420.3 293.9L421.3 288.8L422.2 289.5L423.2 286.6L424.1 282.9L425.1 287.0L426.1 290.0L427.0 285.1L428.0 290.9L428.9 291.6L429.9 288.0L430.9 281.5L431.8 283.8L432.8 287.7L433.8 292.5L434.7 286.0L435.7 283.0L436.6 287.6L437.6 283.8L438.6 283.9L439.5 283.9L440.5 287.2L441.5 285.1L442.4 289.9L443.4 277.6L444.3 277.7L445.3 282.6L446.3 283.0L447.2 279.8L448.2 281.9L449.1 267.7L450.1 282.8L451.1 285.1L452.0 288.1L453.0 282.3L454.0 278.8L454.9 288.3L455.9 278.4L456.8 276.4L457.8 277.2L458.8 279.2L459.7 278.2L460.7 278.1L461.7 278.6L462.6 278.7L463.6 286.2L464.5 284.3L465.5 271.0L466.5 279.9L467.4 291.4L468.4 280.7L469.4 279.2L470.3 283.2L471.3 276.1L472.2 273.0L473.2 277.1L474.2 258.9L475.1 272.2L476.1 263.0L477.0 277.3L478.0 270.2L479.0 275.5L479.9 268.9L480.9 276.6L481.9 275.5L482.8 265.2L483.8 268.8L484.7 271.9L485.7 280.7L486.7 281.7L487.6 271.5L488.6 279.0L489.6 279.4L490.5 280.0L491.5 272.0L492.4 276.8L493.4 279.9L494.4 279.9L495.3 278.4L496.3 267.8L497.2 274.4L498.2 273.7L499.2 279.2L500.1 278.3L501.1 276.0L502.1 271.7L503.0 274.0L504.0 272.3L504.9 280.1L505.9 275.8L506.9 274.9L507.8 276.5L508.8 278.7L509.8 278.4L510.7 281.1L511.7 278.8L512.6 277.8L513.6 274.0L514.6 279.4L515.5 280.2L516.5 272.4L517.5 276.2L518.4 268.9L519.4 271.9L520.3 276.4L521.3 277.2L522.3 269.6L523.2 276.4L524.2 279.4L525.1 277.8L526.1 272.7L527.1 283.8L528.0 280.8L529.0 278.5L530.0 276.2L530.9 280.4L531.9 277.5L532.8 271.3L533.8 282.7L534.8 278.5L535.7 277.0L536.7 276.2L537.7 275.1L538.6 276.6L539.6 279.0L540.5 275.1L541.5 274.1L542.5 270.3L543.4 278.6L544.4 280.9L545.3 278.5L546.3 286.6L547.3 281.2L548.2 280.6L549.2 280.6L550.2 273.3L551.1 268.2L552.1 274.3L553.0 278.3L554.0 266.4L555.0 274.6L555.9 263.6L556.9 273.6L557.9 276.3L558.8 277.1L559.8 278.7L560.7 271.6L561.7 279.8L562.7 273.0L563.6 283.7L564.6 281.6L565.6 274.7L566.5 278.2L567.5 267.8L568.4 283.7L569.4 276.1L570.4 292.7L571.3 271.2L572.3 286.4L573.2 279.2L574.2 264.5L575.2 281.9L576.1 282.1L577.1 287.3L578.1 272.1L579.0 277.4L580.0 273.9L580.9 274.9L581.9 281.8L582.9 278.4L583.8 273.1L584.8 281.5L585.8 276.3L586.7 281.5L587.7 285.1L588.6 281.0L589.6 277.3L590.6 286.8L591.5 282.6L592.5 272.3L593.4 282.9L594.4 284.9L595.4 285.6L596.3 283.8L597.3 282.5L598.3 280.8L599.2 281.5L600.2 287.9L601.1 280.5L602.1 278.7L603.1 278.8L604.0 283.2L605.0 278.5L606.0 282.3L606.9 282.2L607.9 288.9L608.8 278.8L609.8 281.5L610.8 278.2L611.7 281.4L612.7 280.2L613.7 285.1L614.6 277.7L615.6 273.3L616.5 273.5L617.5 280.2L618.5 275.3L619.4 277.9L620.4 278.4L621.3 289.5L622.3 285.6L623.3 276.7L624.2 278.7L625.2 273.7L626.2 283.9L627.1 283.5L628.1 278.4L629.0 271.3L630.0 276.7L631.0 278.4L631.9 271.9L632.9 278.5L633.9 275.6L634.8 273.6L635.8 273.2L636.7 273.4L637.7 277.3L638.7 276.9L639.6 277.7L640.6 277.5L641.5 276.7L642.5 275.6L643.5 279.2L644.4 283.6L645.4 276.7L646.4 277.6L647.3 281.4L648.3 272.9L649.2 262.2L650.2 274.3L651.2 288.0L652.1 272.7L653.1 278.0L654.1 284.0L655.0 284.8L656.0 280.9L656.9 267.1L657.9 280.9L658.9 274.0L659.8 280.5L660.8 286.0L661.8 272.7L662.7 274.2L663.7 282.3L664.6 279.7L665.6 272.6L666.6 284.9L667.5 279.2L668.5 292.8L669.4 287.9L670.4 274.4L671.4 276.9L672.3 276.8L673.3 285.8L674.3 276.4L675.2 269.9L676.2 277.7L677.1 281.1L678.1 278.5L679.1 277.4L680.0 274.5L681.0 282.4L682.0 282.0L682.9 279.4L683.9 274.5L684.8 273.5L685.8 272.8L686.8 285.9L687.7 283.3L688.7 279.0L689.6 271.8L690.6 282.3L691.6 279.3L692.5 273.2L693.5 278.7L694.5 278.0L695.4 281.1L696.4 271.0L697.3 276.7L698.3 281.5L699.3 273.8L700.2 280.9L701.2 282.9L702.2 282.8L703.1 275.7L704.1 281.4L705.0 287.9L706.0 276.8L707.0 277.1L707.9 286.3L708.9 287.4L709.9 277.1L710.8 273.9L711.8 282.4L712.7 275.6L713.7 276.4L714.7 275.9L715.6 275.1L716.6 272.8L717.5 280.1L718.5 275.3L719.5 270.7L720.4 272.0L721.4 268.5L722.4 279.8L723.3 269.4L724.3 273.5L725.2 275.7L726.2 279.8L727.2 283.3L728.1 275.1L729.1 285.1L730.1 271.3L731.0 275.3L732.0 276.3L732.9 281.2L733.9 280.5L734.8 452.6L735.8 439.9L736.7 419.0L737.7 409.6L738.6 410.9L739.6 391.5L740.6 405.5L741.5 401.2L742.5 392.4L743.5 397.7L744.4 386.9L745.4 395.3L746.3 400.6L747.3 382.9L748.3 383.0L749.2 396.4L750.2 389.1L751.2 386.0L752.1 395.2L753.1 391.7L754.0 387.7L755.0 371.6L756.0 386.2L756.9 385.1L757.9 388.3L758.8 385.8L759.8 377.8L760.8 391.5L761.7 379.0L762.7 391.6L763.7 381.9L764.6 381.2L765.6 380.6L766.5 382.6L767.5 380.6L768.5 381.2L769.4 375.2L770.4 382.7L771.4 375.5L772.3 380.8L773.3 380.3L774.2 380.6L775.2 380.6L776.2 390.2L777.1 382.7L778.1 385.7L779.0 381.1L780.0 387.8L781.0 379.5L781.9 383.6L782.9 380.7L783.9 380.6L784.8 377.3L785.8 379.0L786.7 379.9L787.7 370.2L788.7 374.2L789.6 378.8L790.6 386.9L791.6 379.3L792.5 369.7L793.5 384.2L794.4 384.4L795.4 382.1L796.4 379.4L797.3 384.4L798.3 376.1L799.3 383.3L800.2 390.9L801.2 376.1L802.1 375.7L803.1 378.3L804.1 382.8L805.0 371.8L806.0 379.8L806.9 375.6L807.9 375.7L808.9 372.6L809.8 369.2L810.8 376.0L811.8 377.5L812.7 369.7L813.7 377.2L814.6 378.4L815.6 387.7L816.6 380.9L817.5 382.4L818.5 368.4L819.5 379.5L820.4 379.5L821.4 378.4L822.3 376.5L823.3 371.0L824.3 381.0L825.2 362.2L826.2 377.0L827.1 378.6L828.1 392.3L829.1 380.0"/>
<path d="M157.6 357.6L158.5 366.7L159.5 362.1L160.4 364.7L161.4 366.2L162.4 364.1L163.3 368.9L164.3 381.6L165.3 364.1L166.2 372.4L167.2 370.6L168.1 378.8L169.1 359.4L170.1 360.1L171.0 366.3L172.0 367.2L173.0 370.4L173.9 373.1L174.9 364.2L175.8 361.3L176.8 361.1L177.8 365.0L178.7 374.8L179.7 371.0L180.7 360.4L181.6 354.6L182.6 365.1L183.5 360.8L184.5 367.1L185.5 369.3L186.4 360.3L187.4 359.1L188.3 371.4L189.3 357.1L190.3 365.6L191.2 366.6L192.2 361.8L193.2 372.9L194.1 369.6L195.1 360.4L196.0 360.8L197.0 363.5L198.0 357.9L198.9 369.9L199.9 366.5L200.9 359.7L201.8 363.7L202.8 363.6L203.7 362.0L204.7 376.1L205.7 365.0L206.6 364.4L207.6 371.1L208.5 365.6L209.5 365.3L210.5 372.9L211.4 370.5L212.4 363.9L213.4 363.8L214.3 371.7L215.3 365.1L216.2 370.9L217.2 360.5L218.2 372.2L219.1 362.0L220.1 360.8L221.1 365.0L222.0 365.5L223.0 369.7L223.9 357.6L224.9 367.8L225.9 367.8L226.8 360.3L227.8 360.2L228.8 357.6L229.7 364.5L230.7 358.6L231.6 369.9L232.6 369.2L233.6 368.7L234.5 364.7L235.5 368.4L236.4 367.1L237.4 367.8L238.4 360.6L239.3 361.1L240.3 361.8L241.3 373.6L242.2 366.5L243.2 363.9L244.1 365.9L245.1 362.2L246.1 360.3L247.0 371.8L248.0 377.9L249.0 365.4L249.9 361.1L250.9 361.5L251.8 367.2L252.8 374.4L253.8 300.0L254.8 329.1L255.8 332.3L256.7 326.7L257.7 325.1L258.7 323.1L259.6 320.2L260.6 329.4L261.6 326.8L262.5 327.3L263.5 335.2L264.4 329.0L265.4 327.2L266.4 325.1L267.3 319.2L268.3 326.7L269.3 317.4L270.2 333.8L271.2 319.7L272.1 321.8L273.1 326.7L274.1 329.1L275.0 336.2L276.0 325.8L277.0 330.2L277.9 337.7L278.9 332.3L279.8 323.2L280.8 340.9L281.8 333.1L282.7 328.0L283.7 323.7L284.6 326.8L285.6 328.9L286.6 326.5L287.5 332.9L288.5 326.3L289.5 327.2L290.4 323.5L291.4 325.3L292.3 326.0L293.3 324.8L294.3 317.7L295.2 323.3L296.2 330.4L297.2 322.4L298.1 319.8L299.1 326.0L300.0 335.1L301.0 326.3L302.0 317.3L302.9 319.9L303.9 327.6L304.8 320.8L305.8 312.2L306.8 311.2L307.7 318.6L308.7 332.7L309.7 325.1L310.6 314.9L311.6 321.4L312.5 318.0L313.5 325.6L314.5 322.5L315.4 320.1L316.4 333.1L317.4 327.6L318.3 321.8L319.3 321.7L320.2 313.3L321.2 320.3L322.2 316.6L323.1 319.7L324.1 321.0L325.1 324.9L326.0 320.4L327.0 314.0L327.9 317.1L328.9 315.5L329.9 314.1L330.8 313.9L331.8 314.3L332.7 316.7L333.7 324.0L334.7 325.0L335.6 321.4L336.6 319.6L337.6 309.6L338.5 312.4L339.5 309.3L340.4 308.9L341.4 314.4L342.4 317.5L343.3 314.3L344.3 316.8L345.3 323.2L346.2 323.0L347.2 318.2L348.1 316.6L349.1 318.1L350.1 320.3L351.0 318.2L352.0 316.2L352.9 320.9L353.9 319.3L354.9 320.4L355.8 328.5L356.8 331.2L357.8 317.9L358.7 326.4L359.7 321.1L360.6 316.9L361.6 317.2L362.6 319.5L363.5 311.3L364.5 309.1L365.5 319.6L366.4 318.8L367.4 321.1L368.3 325.4L369.3 323.2L370.3 310.0L371.2 317.0L372.2 318.9L373.2 313.6L374.1 321.4L375.1 327.5L376.0 318.6L377.0 317.2L378.0 314.1L378.9 321.9L379.9 319.2L380.8 320.1L381.8 325.5L382.8 328.3L383.7 326.8L384.7 313.3L385.7 323.4L386.6 326.9L387.6 322.5L388.5 320.8L389.5 318.4L390.5 318.5L391.4 317.4L392.4 315.5L393.4 308.9L394.3 309.9L395.3 309.4L396.2 330.6L397.2 316.4L398.2 316.2L399.1 317.8L400.1 314.1L401.0 317.0L402.0 311.9L403.0 318.7L403.9 323.4L404.9 320.7L405.9 317.1L406.8 315.7L407.8 323.4L408.7 319.9L409.7 319.8L410.7 315.4L411.6 312.7L412.6 317.9L413.6 317.1L414.5 321.6L415.5 319.2L416.4 311.7L417.4 311.8L418.4 316.0L419.3 316.0L420.3 316.3L421.3 320.1L422.2 320.1L423.2 320.9L424.1 310.4L425.1 311.1L426.1 310.8L427.0 320.7L428.0 314.7L428.9 318.0L429.9 320.2L430.9 312.7L431.8 317.6L432.8 316.0L433.8 319.8L434.7 319.3L435.7 309.9L436.6 314.3L437.6 314.7L438.6 320.5L439.5 323.6L440.5 315.0L441.5 314.9L442.4 311.8L443.4 313.9L444.3 311.0L445.3 311.4L446.3 312.6L447.2 314.8L448.2 308.4L449.1 312.9L450.1 310.1L451.1 315.7L452.0 305.3L453.0 318.5L454.0 316.2L454.9 317.8L455.9 315.4L456.8 313.6L457.8 318.5L458.8 315.6L459.7 316.4L460.7 311.2L461.7 319.5L462.6 310.5L463.6 312.6L464.5 317.1L465.5 319.3L466.5 323.2L467.4 321.7L468.4 310.9L469.4 320.1L470.3 320.9L471.3 314.7L472.2 325.8L473.2 311.4L474.2 306.8L475.1 312.2L476.1 312.1L477.0 327.6L478.0 323.0L479.0 314.1L479.9 313.4L480.9 316.4L481.9 315.7L482.8 308.4L483.8 310.7L484.7 311.2L485.7 330.2L486.7 325.8L487.6 321.9L488.6 315.8L489.6 319.3L490.5 321.6L491.5 313.6L492.4 318.5L493.4 316.8L494.4 327.8L495.3 304.5L496.3 318.7L497.2 321.4L498.2 308.0L499.2 313.8L500.1 313.8L501.1 315.7L502.1 315.1L503.0 309.1L504.0 318.5L504.9 319.7L505.9 314.4L506.9 325.2L507.8 317.4L508.8 319.2L509.8 310.6L510.7 314.7L511.7 325.7L512.6 321.9L513.6 319.2L514.6 317.6L515.5 329.5L516.5 314.0L517.5 320.2L518.4 318.3L519.4 316.6L520.3 322.3L521.3 318.3L522.3 312.2L523.2 316.5L524.2 318.4L525.1 312.5L526.1 314.6L527.1 314.2L528.0 308.5L529.0 314.6L530.0 321.4L530.9 318.2L531.9 311.4L532.8 312.5L533.8 312.4L534.8 312.2L535.7 308.7L536.7 313.7L537.7 311.6L538.6 314.0L539.6 314.1L540.5 314.5L541.5 320.1L542.5 308.4L543.4 314.8L544.4 315.9L545.3 306.4L546.3 308.8L547.3 308.6L548.2 314.8L549.2 311.6L550.2 326.6L551.1 312.6L552.1 311.9L553.0 314.1L554.0 316.2L555.0 311.9L555.9 308.3L556.9 306.7L557.9 318.9L558.8 308.9L559.8 316.1L560.7 316.5L561.7 312.1L562.7 313.6L563.6 314.1L564.6 315.6L565.6 314.5L566.5 319.7L567.5 313.2L568.4 313.5L569.4 306.8L570.4 316.3L571.3 320.0L572.3 317.5L573.2 323.5L574.2 313.3L575.2 316.3L576.1 322.1L577.1 322.0L578.1 316.9L579.0 312.0L580.0 312.2L580.9 308.2L581.9 309.0L582.9 311.9L583.8 305.6L584.8 308.8L585.8 311.1L586.7 310.5L587.7 317.6L588.6 308.4L589.6 308.1L590.6 316.0L591.5 316.7L592.5 309.7L593.4 309.5L594.4 315.3L595.4 318.6L596.3 316.0L597.3 321.5L598.3 308.8L599.2 307.9L600.2 316.0L601.1 311.8L602.1 322.1L603.1 316.8L604.0 308.9L605.0 312.4L606.0 313.4L606.9 304.0L607.9 311.2L608.8 314.8L609.8 311.1L610.8 310.7L611.7 306.8L612.7 306.3L613.7 314.5L614.6 310.9L615.6 308.8L616.5 310.0L617.5 302.0L618.5 310.8L619.4 313.9L620.4 311.2L621.3 305.4L622.3 310.1L623.3 316.0L624.2 317.9L625.2 320.4L626.2 319.7L627.1 312.1L628.1 313.4L629.0 319.9L630.0 314.6L631.0 309.8L631.9 314.4L632.9 298.9L633.9 312.5L634.8 325.7L635.8 315.0L636.7 307.1L637.7 312.0L638.7 312.4L639.6 309.8L640.6 315.5L641.5 308.7L642.5 303.9L643.5 310.9L644.4 307.1L645.4 303.9L646.4 308.2L647.3 310.1L648.3 320.1L649.2 304.1L650.2 307.3L651.2 314.5L652.1 308.3L653.1 311.5L654.1 304.5L655.0 305.9L656.0 315.0L656.9 305.7L657.9 312.5L658.9 309.6L659.8 306.1L660.8 303.9L661.8 312.9L662.7 311.8L663.7 316.4L664.6 305.4L665.6 308.9L666.6 301.9L667.5 310.8L668.5 309.2L669.4 311.6L670.4 309.5L671.4 312.1L672.3 309.8L673.3 305.4L674.3 314.5L675.2 307.6L676.2 314.5L677.1 314.3L678.1 311.3L679.1 308.9L680.0 311.6L681.0 306.0L682.0 307.8L682.9 308.5L683.9 312.5L684.8 321.7L685.8 313.2L686.8 318.0L687.7 316.1L688.7 310.3L689.6 308.6L690.6 313.6L691.6 315.6L692.5 306.3L693.5 310.5L694.5 308.9L695.4 304.3L696.4 307.4L697.3 306.8L698.3 304.3L699.3 313.4L700.2 298.4L701.2 314.2L702.2 310.9L703.1 307.6L704.1 311.1L705.0 303.8L706.0 316.4L707.0 306.0L707.9 312.1L708.9 310.0L709.9 312.5L710.8 316.0L711.8 317.4L712.7 312.1L713.7 310.4L714.7 309.7L715.6 312.8L716.6 312.6L717.5 304.1L718.5 308.9L719.5 307.2L720.4 308.1L721.4 299.1L722.4 303.0L723.3 313.9L724.3 308.2L725.2 312.9L726.2 309.2L727.2 313.0L728.1 305.2L729.1 316.5L730.1 321.2L731.0 310.4L732.0 320.4L732.9 316.3L733.9 309.6L734.8 439.1L735.8 423.1L736.7 420.2L737.7 407.1L738.6 414.4L739.6 403.7L740.6 393.0L741.5 392.2L742.5 386.1L743.5 396.5L744.4 399.6L745.4 389.0L746.3 396.2L747.3 393.6L748.3 390.7L749.2 387.2L750.2 398.8L751.2 387.9L752.1 393.3L753.1 383.2L754.0 382.8L755.0 385.7L756.0 371.0L756.9 380.5L757.9 376.7L758.8 387.3L759.8 381.8L760.8 388.0L761.7 376.0L762.7 377.1L763.7 372.7L764.6 381.8L765.6 374.4L766.5 377.0L767.5 382.4L768.5 382.2L769.4 381.2L770.4 376.9L771.4 376.2L772.3 386.9L773.3 380.7L774.2 382.2L775.2 375.8L776.2 372.7L777.1 372.6L778.1 380.7L779.0 380.2L780.0 378.5L781.0 378.0L781.9 380.5L782.9 375.1L783.9 386.4L784.8 381.8L785.8 382.2L786.7 376.6L787.7 388.3L788.7 382.7L789.6 386.6L790.6 384.0L791.6 381.3L792.5 382.3L793.5 384.7L794.4 385.3L795.4 380.6L796.4 389.6L797.3 387.8L798.3 382.5L799.3 374.4L800.2 378.6L801.2 373.7L802.1 376.9L803.1 377.5L804.1 391.0L805.0 372.7L806.0 375.5L806.9 380.0L807.9 372.7L808.9 370.2L809.8 378.7L810.8 374.4L811.8 374.5L812.7 374.3L813.7 376.2L814.6 371.9L815.6 377.9L816.6 380.5L817.5 379.0L818.5 375.1L819.5 373.8L820.4 367.9L821.4 370.4L822.3 381.8L823.3 371.5L824.3 365.3L825.2 371.2L826.2 370.5L827.1 370.1L828.1 382.7L829.1 376.8"/>
<path d="M157.6 371.6L158.5 368.0L159.5 365.1L160.4 371.7L161.4 375.3L162.4 372.2L163.3 373.1L164.3 370.0L165.3 369.7L166.2 364.4L167.2 361.2L168.1 366.6L169.1 371.5L170.1 360.8L171.0 363.6L172.0 356.7L173.0 362.6L173.9 353.2L174.9 366.9L175.8 366.7L176.8 365.0L177.8 368.3L178.7 358.4L179.7 362.2L180.7 357.6L181.6 371.3L182.6 366.6L183.5 372.3L184.5 357.2L185.5 370.0L186.4 369.5L187.4 367.9L188.3 369.3L189.3 359.1L190.3 358.5L191.2 352.2L192.2 368.0L193.2 363.5L194.1 352.9L195.1 359.5L196.0 364.8L197.0 365.4L198.0 359.2L198.9 373.4L199.9 365.0L200.9 362.5L201.8 375.8L202.8 368.6L203.7 363.8L204.7 368.7L205.7 365.1L206.6 362.8L207.6 378.1L208.5 367.7L209.5 360.1L210.5 360.6L211.4 365.7L212.4 357.0L213.4 357.0L214.3 362.4L215.3 368.0L216.2 365.8L217.2 364.9L218.2 373.5L219.1 363.3L220.1 371.8L221.1 363.0L222.0 366.4L223.0 364.1L223.9 364.1L224.9 363.1L225.9 365.4L226.8 369.2L227.8 363.5L228.8 368.8L229.7 363.2L230.7 375.4L231.6 365.7L232.6 359.3L233.6 360.0L234.5 359.4L235.5 365.5L236.4 360.1L237.4 368.5L238.4 356.8L239.3 362.0L240.3 368.4L241.3 364.6L242.2 380.5L243.2 360.3L244.1 367.9L245.1 370.3L246.1 369.4L247.0 363.9L248.0 368.3L249.0 361.6L249.9 362.2L250.9 366.6L251.8 370.4L252.8 359.7L253.8 320.0L254.8 326.9L255.8 337.5L256.7 337.7L257.7 337.5L258.7 327.4L259.6 330.0L260.6 333.6L261.6 333.9L262.5 333.6L263.5 333.4L264.4 329.6L265.4 341.7L266.4 327.6L267.3 328.2L268.3 341.8L269.3 334.6L270.2 342.1L271.2 333.4L272.1 337.5L273.1 328.5L274.1 331.4L275.0 336.8L276.0 335.8L277.0 333.4L277.9 332.7L278.9 344.5L279.8 337.8L280.8 333.6L281.8 333.3L282.7 327.8L283.7 336.0L284.6 331.4L285.6 331.7L286.6 335.6L287.5 325.1L288.5 333.3L289.5 327.9L290.4 326.4L291.4 320.8L292.3 322.2L293.3 330.1L294.3 333.6L295.2 335.3L296.2 328.5L297.2 341.8L298.1 330.5L299.1 334.7L300.0 332.2L301.0 332.4L302.0 337.4L302.9 335.1L303.9 328.8L304.8 338.0L305.8 339.5L306.8 339.4L307.7 334.8L308.7 324.6L309.7 333.7L310.6 327.1L311.6 329.1L312.5 327.0L313.5 322.2L314.5 333.9L315.4 328.1L316.4 333.3L317.4 336.3L318.3 330.7L319.3 326.5L320.2 327.8L321.2 326.4L322.2 328.5L323.1 325.5L324.1 330.8L325.1 325.0L326.0 322.0L327.0 335.3L327.9 330.7L328.9 326.0L329.9 337.3L330.8 323.6L331.8 333.2L332.7 329.1L333.7 328.1L334.7 335.9L335.6 328.1L336.6 324.1L337.6 325.4L338.5 332.8L339.5 332.8L340.4 326.3L341.4 332.8L342.4 327.7L343.3 340.7L344.3 328.5L345.3 327.0L346.2 323.4L347.2 330.1L348.1 329.1L349.1 329.7L350.1 336.0L351.0 330.1L352.0 321.7L352.9 338.4L353.9 335.8L354.9 336.1L355.8 335.5L356.8 328.2L357.8 333.3L358.7 329.6L359.7 332.1L360.6 334.9L361.6 331.9L362.6 335.6L363.5 333.8L364.5 335.7L365.5 321.0L366.4 338.9L367.4 335.0L368.3 337.8L369.3 330.0L370.3 336.4L371.2 335.0L372.2 333.3L373.2 339.7L374.1 329.9L375.1 336.0L376.0 336.1L377.0 328.7L378.0 335.7L378.9 339.5L379.9 330.1L380.8 334.1L381.8 332.8L382.8 329.2L383.7 328.4L384.7 331.6L385.7 319.3L386.6 323.3L387.6 322.2L388.5 321.9L389.5 326.3L390.5 327.0L391.4 334.3L392.4 325.5L393.4 331.0L394.3 327.0L395.3 326.9L396.2 329.7L397.2 333.5L398.2 320.7L399.1 333.9L400.1 330.6L401.0 334.0L402.0 332.2L403.0 331.1L403.9 343.4L404.9 332.5L405.9 329.4L406.8 325.5L407.8 329.5L408.7 329.4L409.7 325.1L410.7 337.4L411.6 332.1L412.6 329.8L413.6 317.7L414.5 329.7L415.5 337.1L416.4 335.8L417.4 332.7L418.4 336.6L419.3 330.7L420.3 334.4L421.3 329.7L422.2 330.5L423.2 336.6L424.1 330.1L425.1 337.6L426.1 331.5L427.0 326.2L428.0 336.4L428.9 331.1L429.9 333.5L430.9 332.4L431.8 338.1L432.8 342.6L433.8 338.0L434.7 336.7L435.7 334.4L436.6 330.9L437.6 331.9L438.6 335.3L439.5 330.1L440.5 329.7L441.5 331.5L442.4 323.0L443.4 331.7L444.3 337.9L445.3 334.9L446.3 338.4L447.2 334.7L448.2 331.5L449.1 332.5L450.1 330.6L451.1 332.0L452.0 327.4L453.0 322.1L454.0 334.2L454.9 334.7L455.9 331.1L456.8 334.8L457.8 332.4L458.8 328.1L459.7 326.3L460.7 326.8L461.7 324.5L462.6 319.9L463.6 320.6L464.5 329.4L465.5 320.1L466.5 323.6L467.4 329.2L468.4 333.4L469.4 328.6L470.3 330.7L471.3 328.6L472.2 322.7L473.2 328.5L474.2 325.2L475.1 324.2L476.1 323.5L477.0 335.2L478.0 324.2L479.0 326.9L479.9 318.1L480.9 324.0L481.9 333.5L482.8 337.4L483.8 327.5L484.7 329.7L485.7 332.7L486.7 330.1L487.6 326.6L488.6 316.3L489.6 332.7L490.5 332.8L491.5 342.2L492.4 332.2L493.4 337.3L494.4 334.6L495.3 331.4L496.3 329.4L497.2 332.8L498.2 338.3L499.2 329.5L500.1 329.3L501.1 329.5L502.1 322.9L503.0 322.8L504.0 327.9L504.9 323.7L505.9 335.9L506.9 329.4L507.8 325.9L508.8 328.4L509.8 329.4L510.7 336.8L511.7 330.4L512.6 330.6L513.6 330.3L514.6 322.0L515.5 324.9L516.5 326.0L517.5 326.9L518.4 322.8L519.4 325.8L520.3 330.5L521.3 331.3L522.3 328.3L523.2 321.8L524.2 321.3L525.1 328.0L526.1 322.2L527.1 324.3L528.0 329.5L529.0 333.4L530.0 328.1L530.9 329.0L531.9 337.1L532.8 325.5L533.8 324.7L534.8 325.5L535.7 328.5L536.7 327.9L537.7 322.3L538.6 324.2L539.6 331.6L540.5 322.7L541.5 329.7L542.5 324.4L543.4 326.0L544.4 323.8L545.3 317.6L546.3 318.0L547.3 311.0L548.2 327.3L549.2 325.1L550.2 320.0L551.1 325.2L552.1 326.2L553.0 327.6L554.0 326.5L555.0 324.1L555.9 319.0L556.9 327.2L557.9 330.4L558.8 328.4L559.8 327.5L560.7 326.6L561.7 316.6L562.7 329.8L563.6 328.9L564.6 326.7L565.6 325.8L566.5 334.2L567.5 327.3L568.4 327.4L569.4 329.0L570.4 336.7L571.3 325.1L572.3 330.9L573.2 327.1L574.2 329.3L575.2 337.7L576.1 329.6L577.1 328.0L578.1 329.8L579.0 334.5L580.0 328.6L580.9 342.7L581.9 334.0L582.9 316.7L583.8 318.3L584.8 322.6L585.8 331.8L586.7 331.3L587.7 328.7L588.6 324.4L589.6 328.9L590.6 333.8L591.5 325.4L592.5 327.6L593.4 329.7L594.4 320.9L595.4 324.3L596.3 328.5L597.3 329.3L598.3 331.0L599.2 334.4L600.2 335.8L601.1 332.4L602.1 343.7L603.1 334.9L604.0 330.4L605.0 330.9L606.0 330.2L606.9 322.1L607.9 330.5L608.8 334.7L609.8 328.5L610.8 325.0L611.7 325.2L612.7 328.0L613.7 325.6L614.6 326.0L615.6 322.5L616.5 322.8L617.5 330.5L618.5 319.3L619.4 321.3L620.4 328.1L621.3 320.8L622.3 322.3L623.3 328.9L624.2 328.5L625.2 328.7L626.2 326.4L627.1 318.7L628.1 330.3L629.0 327.3L630.0 332.8L631.0 336.8L631.9 329.3L632.9 326.0L633.9 316.3L634.8 314.8L635.8 325.7L636.7 322.4L637.7 324.4L638.7 325.5L639.6 329.5L640.6 323.6L641.5 325.3L642.5 325.0L643.5 314.8L644.4 324.9L645.4 328.2L646.4 320.2L647.3 315.4L648.3 319.2L649.2 323.5L650.2 329.7L651.2 324.8L652.1 328.2L653.1 323.3L654.1 339.9L655.0 328.0L656.0 320.9L656.9 314.8L657.9 319.4L658.9 326.4L659.8 328.4L660.8 330.3L661.8 327.7L662.7 337.6L663.7 325.9L664.6 326.3L665.6 320.1L666.6 318.8L667.5 324.2L668.5 321.0L669.4 320.1L670.4 322.0L671.4 330.5L672.3 326.7L673.3 335.5L674.3 326.0L675.2 334.1L676.2 321.9L677.1 329.2L678.1 338.1L679.1 340.8L680.0 330.3L681.0 326.9L682.0 321.7L682.9 328.0L683.9 330.7L684.8 328.1L685.8 329.1L686.8 319.6L687.7 332.2L688.7 324.6L689.6 329.9L690.6 326.8L691.6 315.3L692.5 325.9L693.5 322.3L694.5 321.7L695.4 318.2L696.4 327.7L697.3 323.9L698.3 314.2L699.3 323.2L700.2 321.7L701.2 323.9L702.2 324.3L703.1 324.1L704.1 322.7L705.0 315.6L706.0 321.5L707.0 324.7L707.9 324.5L708.9 327.5L709.9 334.4L710.8 326.5L711.8 324.0L712.7 322.6L713.7 335.0L714.7 331.4L715.6 327.0L716.6 327.0L717.5 333.3L718.5 324.4L719.5 324.3L720.4 314.9L721.4 327.4L722.4 321.9L723.3 330.8L724.3 319.5L725.2 317.9L726.2 320.4L727.2 322.4L728.1 309.1L729.1 322.3L730.1 318.5L731.0 323.1L732.0 324.4L732.9 319.6L733.9 325.3L734.8 426.5L735.8 427.0L736.7 413.2L737.7 407.3L738.6 403.1L739.6 399.7L740.6 400.6L741.5 397.1L742.5 390.3L743.5 392.5L744.4 396.1L745.4 397.0L746.3 388.0L747.3 396.0L748.3 390.3L749.2 388.8L750.2 387.0L751.2 384.4L752.1 391.4L753.1 376.0L754.0 383.8L755.0 380.0L756.0 381.2L756.9 376.6L757.9 379.2L758.8 383.3L759.8 376.7L760.8 367.1L761.7 379.5L762.7 377.9L763.7 371.1L764.6 383.3L765.6 374.2L766.5 381.8L767.5 378.3L768.5 385.7L769.4 367.6L770.4 372.1L771.4 378.5L772.3 380.1L773.3 375.0L774.2 378.6L775.2 379.4L776.2 377.2L777.1 379.1L778.1 364.2L779.0 376.2L780.0 383.6L781.0 374.4L781.9 378.5L782.9 388.5L783.9 382.4L784.8 379.8L785.8 382.4L786.7 378.1L787.7 373.8L788.7 382.4L789.6 387.7L790.6 385.6L791.6 383.0L792.5 380.2L793.5 374.6L794.4 370.3L795.4 384.4L796.4 372.6L797.3 364.8L798.3 380.6L799.3 381.1L800.2 383.6L801.2 372.0L802.1 380.0L803.1 386.8L804.1 374.7L805.0 373.5L806.0 377.5L806.9 373.1L807.9 365.6L808.9 373.3L809.8 378.6L810.8 386.7L811.8 378.4L812.7 389.6L813.7 380.9L814.6 373.0L815.6 378.1L816.6 372.2L817.5 370.7L818.5 366.7L819.5 365.8L820.4 366.5L821.4 367.8L822.3 368.1L823.3 389.3L824.3 377.3L825.2 370.1L826.2 372.3L827.1 365.7L828.1 368.7L829.1 371.1"/>
<path d="M157.6 361.3L158.5 356.1L159.5 361.6L160.4 380.2L161.4 370.5L162.4 366.3L163.3 376.0L164.3 366.6L165.3 372.6L166.2 370.6L167.2 357.3L168.1 364.2L169.1 357.4L170.1 370.9L171.0 366.7L172.0 365.6L173.0 362.3L173.9 359.4L174.9 365.6L175.8 373.0L176.8 369.3L177.8 377.5L178.7 365.6L179.7 366.7L180.7 374.7L181.6 371.1L182.6 373.1L183.5 371.3L184.5 364.9L185.5 359.2L186.4 364.9L187.4 365.5L188.3 370.4L189.3 356.2L190.3 363.6L191.2 365.8L192.2 375.3L193.2 376.4L194.1 361.0L195.1 361.4L196.0 359.5L197.0 365.5L198.0 364.7L198.9 359.5L199.9 362.7L200.9 366.1L201.8 362.4L202.8 366.4L203.7 380.2L204.7 360.5L205.7 365.7L206.6 369.7L207.6 370.6L208.5 374.2L209.5 368.3L210.5 360.9L211.4 361.9L212.4 358.5L213.4 360.7L214.3 372.7L215.3 375.9L216.2 367.0L217.2 361.7L218.2 361.3L219.1 364.2L220.1 377.8L221.1 361.6L222.0 364.9L223.0 358.5L223.9 366.3L224.9 375.4L225.9 357.0L226.8 362.2L227.8 365.5L228.8 363.9L229.7 362.7L230.7 364.5L231.6 357.4L232.6 359.9L233.6 355.2L234.5 360.5L235.5 364.7L236.4 369.4L237.4 364.4L238.4 370.9L239.3 365.1L240.3 372.1L241.3 359.4L242.2 364.7L243.2 364.6L244.1 359.6L245.1 360.7L246.1 360.1L247.0 364.7L248.0 368.3L249.0 361.3L249.9 368.4L250.9 367.8L251.8 366.6L252.8 363.0L253.8 330.0L254.8 330.2L255.8 329.0L256.7 340.2L257.7 344.6L258.7 332.8L259.6 340.7L260.6 342.0L261.6 335.8L262.5 338.8L263.5 338.5L264.4 347.2L265.4 338.1L266.4 338.7L267.3 335.8L268.3 346.2L269.3 354.9L270.2 338.1L271.2 347.3L272.1 339.2L273.1 341.3L274.1 341.6L275.0 344.9L276.0 350.9L277.0 353.3L277.9 345.0L278.9 347.2L279.8 344.7L280.8 339.3L281.8 341.0L282.7 341.3L283.7 340.1L284.6 339.3L285.6 340.9L286.6 338.4L287.5 332.1L288.5 341.4L289.5 333.6L290.4 332.4L291.4 333.9L292.3 341.8L293.3 340.8L294.3 347.1L295.2 339.8L296.2 338.8L297.2 348.2L298.1 336.5L299.1 342.8L300.0 337.6L301.0 341.6L302.0 342.2L302.9 340.3L303.9 338.2L304.8 342.2L305.8 343.0L306.8 339.3L307.7 332.8L308.7 339.6L309.7 344.9L310.6 342.8L311.6 337.8L312.5 342.6L313.5 344.1L314.5 326.8L315.4 346.4L316.4 346.0L317.4 345.3L318.3 338.7L319.3 346.4L320.2 340.3L321.2 341.8L322.2 339.7L323.1 330.0L324.1 335.9L325.1 336.2L326.0 341.5L327.0 343.0L327.9 341.7L328.9 337.5L329.9 338.8L330.8 333.0L331.8 332.8L332.7 334.6L333.7 335.7L334.7 338.6L335.6 344.0L336.6 341.3L337.6 345.8L338.5 334.3L339.5 338.0L340.4 339.4L341.4 341.5L342.4 335.0L343.3 338.5L344.3 342.1L345.3 337.2L346.2 340.7L347.2 339.5L348.1 338.3L349.1 338.5L350.1 334.1L351.0 339.3L352.0 339.6L352.9 340.3L353.9 336.6L354.9 328.0L355.8 337.7L356.8 346.0L357.8 333.3L358.7 331.0L359.7 340.1L360.6 350.9L361.6 339.6L362.6 338.4L363.5 351.7L364.5 344.3L365.5 335.9L366.4 336.8L367.4 344.8L368.3 349.8L369.3 333.7L370.3 335.1L371.2 336.8L372.2 339.4L373.2 336.2L374.1 326.6L375.1 321.6L376.0 327.7L377.0 331.3L378.0 336.7L378.9 351.7L379.9 339.6L380.8 336.5L381.8 346.0L382.8 340.8L383.7 332.9L384.7 336.4L385.7 344.2L386.6 338.7L387.6 337.1L388.5 339.4L389.5 336.5L390.5 335.3L391.4 336.3L392.4 331.1L393.4 341.9L394.3 336.6L395.3 342.0L396.2 337.3L397.2 346.3L398.2 339.6L399.1 342.3L400.1 340.2L401.0 342.3L402.0 343.3L403.0 340.9L403.9 332.6L404.9 339.9L405.9 330.2L406.8 336.7L407.8 353.5L408.7 340.7L409.7 345.6L410.7 343.1L411.6 340.0L412.6 335.0L413.6 342.6L414.5 330.9L415.5 335.0L416.4 340.7L417.4 339.4L418.4 343.2L419.3 338.3L420.3 336.8L421.3 334.5L422.2 342.8L423.2 342.5L424.1 336.2L425.1 338.3L426.1 350.3L427.0 339.2L428.0 338.9L428.9 340.8L429.9 339.8L430.9 337.6L431.8 335.1L432.8 335.0L433.8 351.7L434.7 338.7L435.7 345.7L436.6 338.0L437.6 337.5L438.6 335.0L439.5 322.9L440.5 339.9L441.5 337.2L442.4 338.6L443.4 336.3L444.3 341.7L445.3 331.5L446.3 341.2L447.2 336.5L448.2 333.6L449.1 343.0L450.1 338.0L451.1 339.4L452.0 334.5L453.0 341.0L454.0 336.2L454.9 343.8L455.9 340.1L456.8 336.7L457.8 337.7L458.8 339.6L459.7 342.3L460.7 335.8L461.7 326.8L462.6 334.6L463.6 332.3L464.5 334.7L465.5 337.2L466.5 339.5L467.4 338.1L468.4 345.1L469.4 337.8L470.3 330.7L471.3 341.8L472.2 334.5L473.2 338.7L474.2 349.4L475.1 340.7L476.1 344.2L477.0 339.8L478.0 331.4L479.0 322.1L479.9 332.7L480.9 338.1L481.9 334.5L482.8 327.9L483.8 340.8L484.7 340.6L485.7 334.4L486.7 332.8L487.6 339.1L488.6 332.0L489.6 329.4L490.5 333.2L491.5 342.9L492.4 342.3L493.4 351.7L494.4 334.7L495.3 336.2L496.3 336.1L497.2 339.0L498.2 336.9L499.2 337.0L500.1 338.1L501.1 333.9L502.1 336.2L503.0 330.0L504.0 336.7L504.9 338.4L505.9 338.1L506.9 337.6L507.8 339.9L508.8 339.4L509.8 338.6L510.7 341.4L511.7 336.0L512.6 333.3L513.6 332.0L514.6 334.7L515.5 336.6L516.5 340.5L517.5 344.7L518.4 343.9L519.4 344.7L520.3 346.4L521.3 334.7L522.3 337.5L523.2 344.8L524.2 344.4L525.1 348.9L526.1 346.6L527.1 332.3L528.0 338.8L529.0 340.8L530.0 336.8L530.9 338.2L531.9 335.8L532.8 330.0L533.8 347.3L534.8 332.4L535.7 335.3L536.7 329.8L537.7 338.2L538.6 338.4L539.6 337.3L540.5 335.9L541.5 335.7L542.5 332.3L543.4 328.7L544.4 331.2L545.3 337.9L546.3 338.1L547.3 331.3L548.2 337.0L549.2 337.7L550.2 334.5L551.1 341.6L552.1 336.1L553.0 333.6L554.0 331.4L555.0 337.7L555.9 344.6L556.9 338.1L557.9 332.6L558.8 336.5L559.8 338.9L560.7 335.3L561.7 337.4L562.7 337.5L563.6 341.1L564.6 335.1L565.6 333.6L566.5 329.7L567.5 335.5L568.4 338.3L569.4 336.5L570.4 346.7L571.3 342.3L572.3 331.6L573.2 332.2L574.2 340.8L575.2 342.2L576.1 341.5L577.1 336.1L578.1 336.9L579.0 334.9L580.0 334.3L580.9 338.8L581.9 333.4L582.9 342.8L583.8 331.1L584.8 339.0L585.8 339.7L586.7 323.9L587.7 342.4L588.6 342.5L589.6 339.2L590.6 339.0L591.5 341.4L592.5 341.0L593.4 342.2L594.4 335.4L595.4 344.3L596.3 344.7L597.3 337.5L598.3 337.9L599.2 338.5L600.2 337.3L601.1 336.2L602.1 341.5L603.1 332.9L604.0 344.9L605.0 336.7L606.0 342.9L606.9 345.1L607.9 333.5L608.8 334.3L609.8 347.8L610.8 339.7L611.7 334.6L612.7 333.0L613.7 343.3L614.6 341.6L615.6 332.9L616.5 331.6L617.5 337.7L618.5 341.7L619.4 332.8L620.4 339.8L621.3 338.4L622.3 329.2L623.3 338.6L624.2 336.5L625.2 332.5L626.2 340.0L627.1 332.9L628.1 330.0L629.0 325.1L630.0 327.8L631.0 332.2L631.9 336.0L632.9 331.6L633.9 337.7L634.8 334.5L635.8 340.9L636.7 339.4L637.7 325.3L638.7 327.0L639.6 333.8L640.6 340.4L641.5 332.6L642.5 343.5L643.5 340.0L644.4 332.7L645.4 335.3L646.4 339.8L647.3 333.7L648.3 342.5L649.2 330.7L650.2 327.4L651.2 331.1L652.1 333.9L653.1 335.2L654.1 332.0L655.0 333.1L656.0 342.4L656.9 333.5L657.9 334.7L658.9 335.1L659.8 328.5L660.8 335.2L661.8 338.0L662.7 337.3L663.7 344.3L664.6 338.1L665.6 332.0L666.6 337.7L667.5 331.8L668.5 329.9L669.4 340.0L670.4 338.5L671.4 332.6L672.3 340.7L673.3 329.6L674.3 326.4L675.2 330.5L676.2 339.1L677.1 335.7L678.1 330.6L679.1 328.8L680.0 323.9L681.0 330.8L682.0 333.3L682.9 338.6L683.9 331.5L684.8 339.2L685.8 338.3L686.8 331.9L687.7 339.5L688.7 342.0L689.6 338.2L690.6 330.6L691.6 338.0L692.5 338.3L693.5 333.6L694.5 333.4L695.4 333.0L696.4 341.5L697.3 326.9L698.3 330.6L699.3 334.0L700.2 345.7L701.2 336.1L702.2 337.6L703.1 336.4L704.1 331.7L705.0 335.4L706.0 329.2L707.0 337.7L707.9 331.5L708.9 337.0L709.9 337.2L710.8 336.2L711.8 332.1L712.7 343.8L713.7 337.6L714.7 328.7L715.6 333.1L716.6 335.5L717.5 330.8L718.5 336.4L719.5 341.3L720.4 337.3L721.4 332.1L722.4 335.6L723.3 339.8L724.3 343.7L725.2 339.2L726.2 348.6L727.2 336.6L728.1 330.5L729.1 340.0L730.1 340.8L731.0 324.4L732.0 337.9L732.9 337.0L733.9 333.9L734.8 414.8L735.8 407.5L736.7 396.5L737.7 398.2L738.6 397.5L739.6 381.8L740.6 393.6L741.5 387.9L742.5 393.7L743.5 388.2L744.4 380.8L745.4 397.5L746.3 388.6L747.3 380.3L748.3 379.0L749.2 378.2L750.2 386.0L751.2 386.7L752.1 374.2L753.1 381.2L754.0 383.5L755.0 381.3L756.0 377.4L756.9 372.2L757.9 380.3L758.8 381.1L759.8 376.4L760.8 371.9L761.7 379.1L762.7 379.6L763.7 383.5L764.6 379.9L765.6 373.5L766.5 377.1L767.5 376.1L768.5 383.6L769.4 378.8L770.4 382.4L771.4 381.2L772.3 375.2L773.3 374.8L774.2 372.5L775.2 373.1L776.2 377.5L777.1 376.6L778.1 382.9L779.0 384.2L780.0 376.7L781.0 377.4L781.9 378.1L782.9 379.5L783.9 377.2L784.8 377.5L785.8 382.0L786.7 372.3L787.7 369.6L788.7 386.4L789.6 385.4L790.6 377.2L791.6 374.4L792.5 378.7L793.5 385.5L794.4 376.9L795.4 375.6L796.4 373.3L797.3 369.3L798.3 379.9L799.3 376.5L800.2 382.9L801.2 371.5L802.1 362.2L803.1 368.4L804.1 366.6L805.0 376.1L806.0 372.6L806.9 370.2L807.9 365.4L808.9 374.2L809.8 371.1L810.8 378.1L811.8 378.4L812.7 374.5L813.7 373.2L814.6 366.0L815.6 369.6L816.6 373.7L817.5 377.9L818.5 384.8L819.5 380.6L820.4 379.3L821.4 376.0L822.3 380.3L823.3 377.2L824.3 373.6L825.2 371.2L826.2 380.4L827.1 375.3L828.1 376.8L829.1 381.8"/>
<path d="M157.6 373.7L158.5 371.7L159.5 370.9L160.4 371.8L161.4 358.4L162.4 349.1L163.3 364.9L164.3 360.0L165.3 357.0L166.2 369.1L167.2 367.2L168.1 363.1L169.1 360.7L170.1 362.1L171.0 369.1L172.0 354.8L173.0 353.3L173.9 358.8L174.9 365.1L175.8 374.8L176.8 357.2L177.8 360.9L178.7 364.4L179.7 352.8L180.7 374.1L181.6 382.1L182.6 361.2L183.5 382.0L184.5 369.9L185.5 367.7L186.4 381.0L187.4 366.9L188.3 360.0L189.3 360.4L190.3 357.5L191.2 360.4L192.2 370.5L193.2 373.1L194.1 373.3L195.1 371.5L196.0 372.6L197.0 364.9L198.0 370.9L198.9 370.5L199.9 364.7L200.9 371.1L201.8 366.6L202.8 367.7L203.7 368.7L204.7 372.6L205.7 363.4L206.6 365.2L207.6 365.7L208.5 377.0L209.5 368.0L210.5 371.2L211.4 379.9L212.4 373.8L213.4 378.2L214.3 371.2L215.3 370.6L216.2 368.1L217.2 362.2L218.2 358.1L219.1 378.5L220.1 370.8L221.1 363.8L222.0 360.4L223.0 353.7L223.9 365.2L224.9 359.7L225.9 365.9L226.8 372.4L227.8 354.0L228.8 373.4L229.7 364.1L230.7 360.4L231.6 368.6L232.6 374.3L233.6 366.9L234.5 362.8L235.5 361.0L236.4 367.8L237.4 368.0L238.4 368.9L239.3 364.9L240.3 367.8L241.3 368.1L242.2 365.9L243.2 361.7L244.1 366.9L245.1 366.0L246.1 365.7L247.0 369.7L248.0 367.7L249.0 354.9L249.9 358.6L250.9 361.8L251.8 371.2L252.8 369.0L253.8 340.0L254.8 347.8L255.8 345.6L256.7 348.1L257.7 348.6L258.7 347.8L259.6 350.8L260.6 340.1L261.6 346.6L262.5 334.8L263.5 340.2L264.4 340.0L265.4 346.4L266.4 341.6L267.3 347.6L268.3 341.3L269.3 343.6L270.2 339.7L271.2 342.1L272.1 340.0L273.1 343.5L274.1 341.6L275.0 345.6L276.0 348.8L277.0 340.3L277.9 338.9L278.9 337.3L279.8 342.3L280.8 348.9L281.8 347.8L282.7 341.6L283.7 343.1L284.6 343.0L285.6 353.0L286.6 345.7L287.5 340.4L288.5 334.6L289.5 346.5L290.4 345.4L291.4 338.5L292.3 346.3L293.3 352.0L294.3 349.7L295.2 349.2L296.2 342.5L297.2 347.5L298.1 344.9L299.1 339.2L300.0 345.0L301.0 343.7L302.0 342.6L302.9 344.1L303.9 340.5L304.8 344.2L305.8 344.1L306.8 351.3L307.7 347.4L308.7 341.5L309.7 347.7L310.6 341.8L311.6 344.5L312.5 345.7L313.5 336.7L314.5 347.9L315.4 348.6L316.4 343.1L317.4 340.9L318.3 346.4L319.3 339.8L320.2 345.5L321.2 344.1L322.2 337.4L323.1 337.0L324.1 346.5L325.1 347.5L326.0 344.0L327.0 336.6L327.9 352.7L328.9 345.3L329.9 348.0L330.8 343.7L331.8 344.9L332.7 344.3L333.7 347.9L334.7 344.6L335.6 348.1L336.6 344.2L337.6 343.4L338.5 339.1L339.5 339.3L340.4 349.1L341.4 348.4L342.4 341.6L343.3 339.0L344.3 350.5L345.3 348.9L346.2 347.6L347.2 344.4L348.1 341.7L349.1 342.7L350.1 344.9L351.0 342.4L352.0 349.6L352.9 345.5L353.9 344.4L354.9 349.5L355.8 341.5L356.8 336.5L357.8 341.4L358.7 345.8L359.7 346.8L360.6 341.6L361.6 340.1L362.6 347.5L363.5 345.5L364.5 343.4L365.5 341.0L366.4 346.7L367.4 346.1L368.3 346.6L369.3 343.0L370.3 341.0L371.2 349.5L372.2 341.5L373.2 344.2L374.1 336.9L375.1 343.0L376.0 341.4L377.0 346.9L378.0 348.9L378.9 357.6L379.9 356.1L380.8 342.3L381.8 341.4L382.8 344.8L383.7 345.7L384.7 349.0L385.7 349.7L386.6 339.4L387.6 346.2L388.5 347.4L389.5 344.3L390.5 351.7L391.4 340.0L392.4 344.0L393.4 337.8L394.3 343.4L395.3 344.8L396.2 345.2L397.2 345.8L398.2 346.5L399.1 338.6L400.1 342.3L401.0 348.2L402.0 342.6L403.0 350.5L403.9 341.1L404.9 341.7L405.9 336.7L406.8 353.4L407.8 340.6L408.7 347.7L409.7 345.7L410.7 337.1L411.6 342.7L412.6 339.3L413.6 339.3L414.5 346.3L415.5 351.2L416.4 342.9L417.4 344.8L418.4 341.5L419.3 348.5L420.3 344.7L421.3 343.3L422.2 344.8L423.2 350.8L424.1 344.9L425.1 349.3L426.1 347.5L427.0 336.9L428.0 341.5L428.9 347.0L429.9 337.6L430.9 346.9L431.8 345.6L432.8 354.1L433.8 339.4L434.7 340.0L435.7 347.8L436.6 344.5L437.6 345.6L438.6 346.5L439.5 347.4L440.5 348.7L441.5 345.7L442.4 349.2L443.4 345.0L444.3 345.0L445.3 344.1L446.3 339.1L447.2 347.4L448.2 342.8L449.1 345.2L450.1 344.7L451.1 338.3L452.0 342.8L453.0 339.6L454.0 344.0L454.9 343.6L455.9 353.3L456.8 343.7L457.8 335.6L458.8 343.8L459.7 342.7L460.7 339.5L461.7 339.1L462.6 344.9L463.6 345.1L464.5 337.5L465.5 348.0L466.5 344.9L467.4 340.0L468.4 345.9L469.4 348.8L470.3 346.6L471.3 343.9L472.2 345.9L473.2 348.4L474.2 340.7L475.1 349.8L476.1 342.3L477.0 340.0L478.0 339.9L479.0 335.5L479.9 344.6L480.9 339.7L481.9 342.2L482.8 346.8L483.8 345.9L484.7 349.0L485.7 338.5L486.7 343.2L487.6 347.7L488.6 341.6L489.6 340.4L490.5 338.4L491.5 343.1L492.4 339.8L493.4 340.5L494.4 331.8L495.3 343.5L496.3 343.8L497.2 344.1L498.2 347.1L499.2 346.9L500.1 342.5L501.1 347.7L502.1 337.1L503.0 349.9L504.0 334.1L504.9 341.0L505.9 345.1L506.9 344.8L507.8 347.1L508.8 350.6L509.8 341.6L510.7 337.9L511.7 343.6L512.6 341.2L513.6 340.4L514.6 347.3L515.5 340.1L516.5 345.2L517.5 342.5L518.4 342.2L519.4 336.7L520.3 342.2L521.3 340.6L522.3 343.2L523.2 343.0L524.2 346.2L525.1 341.1L526.1 335.6L527.1 341.2L528.0 341.7L529.0 342.6L530.0 347.5L530.9 336.8L531.9 339.3L532.8 333.4L533.8 338.1L534.8 341.1L535.7 338.0L536.7 342.9L537.7 336.5L538.6 340.7L539.6 334.0L540.5 343.1L541.5 343.0L542.5 352.1L543.4 339.3L544.4 341.9L545.3 339.8L546.3 350.1L547.3 340.8L548.2 339.1L549.2 349.9L550.2 350.2L551.1 347.2L552.1 343.7L553.0 342.0L554.0 343.9L555.0 343.6L555.9 346.2L556.9 343.0L557.9 337.5L558.8 345.7L559.8 343.1L560.7 339.9L561.7 338.9L562.7 336.7L563.6 342.6L564.6 342.3L565.6 341.8L566.5 334.7L567.5 345.5L568.4 330.8L569.4 341.2L570.4 339.9L571.3 345.1L572.3 333.7L573.2 336.9L574.2 338.1L575.2 338.6L576.1 336.2L577.1 339.3L578.1 339.7L579.0 349.2L580.0 342.9L580.9 337.7L581.9 340.4L582.9 339.2L583.8 345.3L584.8 348.4L585.8 347.6L586.7 337.4L587.7 336.1L588.6 339.6L589.6 341.5L590.6 331.2L591.5 326.3L592.5 339.1L593.4 342.4L594.4 341.2L595.4 327.1L596.3 334.6L597.3 330.2L598.3 337.3L599.2 344.3L600.2 336.8L601.1 340.7L602.1 342.4L603.1 339.1L604.0 339.9L605.0 342.1L606.0 346.0L606.9 340.2L607.9 344.7L608.8 339.8L609.8 341.2L610.8 344.5L611.7 344.2L612.7 348.1L613.7 341.2L614.6 341.4L615.6 344.3L616.5 342.3L617.5 352.8L618.5 355.5L619.4 345.3L620.4 342.9L621.3 342.7L622.3 349.0L623.3 345.7L624.2 342.1L625.2 335.0L626.2 341.4L627.1 339.6L628.1 349.2L629.0 342.0L630.0 350.9L631.0 335.4L631.9 338.0L632.9 340.8L633.9 337.1L634.8 342.6L635.8 344.6L636.7 340.3L637.7 344.6L638.7 343.0L639.6 340.6L640.6 336.7L641.5 347.2L642.5 339.1L643.5 349.9L644.4 338.0L645.4 329.6L646.4 349.5L647.3 340.4L648.3 341.8L649.2 337.0L650.2 337.7L651.2 337.9L652.1 334.1L653.1 335.1L654.1 341.0L655.0 345.4L656.0 345.7L656.9 345.1L657.9 342.6L658.9 346.8L659.8 343.3L660.8 342.8L661.8 343.2L662.7 348.3L663.7 339.8L664.6 337.2L665.6 345.2L666.6 335.5L667.5 333.2L668.5 343.5L669.4 340.2L670.4 339.1L671.4 339.1L672.3 340.8L673.3 341.7L674.3 339.2L675.2 340.2L676.2 345.7L677.1 345.3L678.1 339.6L679.1 343.1L680.0 340.5L681.0 344.1L682.0 345.0L682.9 353.9L683.9 340.8L684.8 336.5L685.8 338.6L686.8 337.8L687.7 337.0L688.7 344.5L689.6 341.4L690.6 352.3L691.6 334.4L692.5 333.7L693.5 346.3L694.5 338.9L695.4 335.2L696.4 349.0L697.3 338.2L698.3 337.7L699.3 342.6L700.2 338.7L701.2 339.1L702.2 349.7L703.1 346.0L704.1 336.6L705.0 343.7L706.0 342.4L707.0 330.6L707.9 335.7L708.9 336.5L709.9 332.4L710.8 339.0L711.8 347.0L712.7 345.0L713.7 341.9L714.7 330.2L715.6 339.5L716.6 352.1L717.5 342.7L718.5 345.0L719.5 337.8L720.4 337.6L721.4 337.7L722.4 342.6L723.3 334.9L724.3 341.9L725.2 329.1L726.2 342.0L727.2 340.0L728.1 336.3L729.1 345.8L730.1 347.9L731.0 341.9L732.0 339.4L732.9 338.8L733.9 336.4L734.8 397.4L735.8 399.7L736.7 396.0L737.7 388.9L738.6 385.0L739.6 372.4L740.6 384.4L741.5 380.3L742.5 382.9L743.5 384.4L744.4 382.7L745.4 374.6L746.3 363.9L747.3 361.0L748.3 375.0L749.2 369.1L750.2 374.9L751.2 381.1L752.1 365.7L753.1 365.2L754.0 373.3L755.0 375.6L756.0 372.0L756.9 367.1L757.9 376.9L758.8 373.3L759.8 361.6L760.8 380.6L761.7 374.5L762.7 367.0L763.7 362.8L764.6 368.0L765.6 367.9L766.5 374.7L767.5 369.9L768.5 364.3L769.4 369.8L770.4 373.0L771.4 379.0L772.3 372.3L773.3 375.7L774.2 369.9L775.2 373.0L776.2 378.4L777.1 369.6L778.1 373.0L779.0 385.6L780.0 372.1L781.0 374.1L781.9 369.2L782.9 372.4L783.9 372.4L784.8 368.9L785.8 368.2L786.7 364.0L787.7 368.0L788.7 365.4L789.6 370.8L790.6 368.6L791.6 365.2L792.5 370.3L793.5 380.3L794.4 372.3L795.4 366.6L796.4 369.3L797.3 369.9L798.3 377.1L799.3 360.2L800.2 363.8L801.2 376.7L802.1 363.3L803.1 361.0L804.1 361.5L805.0 382.0L806.0 364.8L806.9 362.8L807.9 364.3L808.9 373.6L809.8 366.1L810.8 363.7L811.8 362.9L812.7 364.6L813.7 362.9L814.6 371.7L815.6 371.5L816.6 369.0L817.5 379.6L818.5 372.7L819.5 373.7L820.4 369.0L821.4 369.9L822.3 371.5L823.3 372.2L824.3 383.1L825.2 365.9L826.2 370.9L827.1 377.1L828.1 377.7L829.1 379.1"/>
<path d="M157.6 369.2L158.5 365.4L159.5 371.0L160.4 371.0L161.4 361.8L162.4 364.7L163.3 369.5L164.3 371.2L165.3 363.3L166.2 367.2L167.2 372.2L168.1 370.2L169.1 361.9L170.1 366.7L171.0 381.9L172.0 359.1L173.0 368.3L173.9 371.7L174.9 360.8L175.8 355.5L176.8 375.4L177.8 359.4L178.7 356.8L179.7 356.0L180.7 348.3L181.6 359.9L182.6 366.8L183.5 369.8L184.5 362.7L185.5 359.5L186.4 365.1L187.4 363.4L188.3 357.0L189.3 363.2L190.3 363.2L191.2 368.0L192.2 360.1L193.2 354.8L194.1 355.9L195.1 380.2L196.0 366.3L197.0 357.9L198.0 366.7L198.9 368.3L199.9 369.1L200.9 360.9L201.8 364.2L202.8 370.3L203.7 364.6L204.7 365.4L205.7 378.7L206.6 366.4L207.6 360.0L208.5 367.8L209.5 358.8L210.5 363.2L211.4 362.2L212.4 356.5L213.4 365.2L214.3 366.9L215.3 365.1L216.2 367.0L217.2 371.9L218.2 362.4L219.1 371.6L220.1 353.0L221.1 365.6L222.0 362.7L223.0 364.5L223.9 363.5L224.9 363.9L225.9 353.3L226.8 364.1L227.8 353.8L228.8 362.7L229.7 370.4L230.7 367.2L231.6 359.3L232.6 362.4L233.6 361.3L234.5 360.9L235.5 367.6L236.4 366.9L237.4 372.8L238.4 351.1L239.3 367.9L240.3 369.0L241.3 364.2L242.2 372.0L243.2 361.7L244.1 350.4L245.1 364.7L246.1 367.5L247.0 370.5L248.0 367.9L249.0 362.8L249.9 367.7L250.9 363.5L251.8 365.4L252.8 358.8L253.8 340.0L254.8 349.1L255.8 351.8L256.7 349.5L257.7 344.0L258.7 360.0L259.6 349.1L260.6 336.6L261.6 348.0L262.5 340.9L263.5 348.2L264.4 341.5L265.4 346.7L266.4 336.3L267.3 344.6L268.3 343.5L269.3 344.8L270.2 344.4L271.2 352.3L272.1 342.5L273.1 349.8L274.1 342.9L275.0 357.6L276.0 336.0L277.0 349.0L277.9 335.9L278.9 344.0L279.8 348.0L280.8 343.7L281.8 348.4L282.7 348.5L283.7 348.1L284.6 352.7L285.6 347.3L286.6 341.6L287.5 347.8L288.5 349.7L289.5 351.5L290.4 350.0L291.4 345.7L292.3 348.7L293.3 346.2L294.3 348.0L295.2 347.7L296.2 346.3L297.2 346.3L298.1 343.5L299.1 346.0L300.0 343.9L301.0 338.9L302.0 343.0L302.9 343.4L303.9 343.9L304.8 345.0L305.8 347.5L306.8 349.1L307.7 348.3L308.7 352.2L309.7 345.1L310.6 352.5L311.6 342.7L312.5 347.9L313.5 346.3L314.5 344.9L315.4 336.0L316.4 346.9L317.4 349.1L318.3 347.3L319.3 348.1L320.2 342.8L321.2 345.8L322.2 342.8L323.1 332.4L324.1 350.1L325.1 351.9L326.0 353.9L327.0 350.7L327.9 353.4L328.9 351.1L329.9 353.6L330.8 344.8L331.8 344.9L332.7 349.6L333.7 352.8L334.7 336.3L335.6 347.9L336.6 338.7L337.6 344.9L338.5 345.4L339.5 354.8L340.4 351.9L341.4 344.2L342.4 346.2L343.3 347.3L344.3 359.8L345.3 341.6L346.2 344.4L347.2 347.2L348.1 345.0L349.1 347.7L350.1 348.5L351.0 341.4L352.0 345.6L352.9 344.4L353.9 350.2L354.9 343.2L355.8 344.2L356.8 345.2L357.8 349.5L358.7 349.3L359.7 350.7L360.6 347.1L361.6 355.5L362.6 345.1L363.5 347.2L364.5 347.3L365.5 355.7L366.4 350.1L367.4 346.3L368.3 353.5L369.3 343.6L370.3 342.8L371.2 339.4L372.2 346.4L373.2 348.2L374.1 343.4L375.1 338.6L376.0 345.8L377.0 341.9L378.0 346.5L378.9 346.9L379.9 347.7L380.8 347.6L381.8 347.0L382.8 353.6L383.7 343.3L384.7 333.2L385.7 345.9L386.6 341.5L387.6 349.1L388.5 349.2L389.5 344.3L390.5 348.0L391.4 356.0L392.4 338.7L393.4 349.6L394.3 351.9L395.3 345.9L396.2 344.3L397.2 346.7L398.2 346.1L399.1 342.8L400.1 347.1L401.0 340.2L402.0 358.0L403.0 349.7L403.9 343.6L404.9 341.9L405.9 339.3L406.8 341.6L407.8 340.5L408.7 338.9L409.7 346.9L410.7 354.4L411.6 345.1L412.6 346.3L413.6 356.0L414.5 339.4L415.5 352.5L416.4 340.9L417.4 335.4L418.4 342.5L419.3 353.9L420.3 349.5L421.3 353.4L422.2 347.4L423.2 340.9L424.1 346.8L425.1 342.7L426.1 347.7L427.0 339.9L428.0 343.2L428.9 350.3L429.9 348.5L430.9 340.5L431.8 343.3L432.8 339.0L433.8 348.3L434.7 340.6L435.7 352.1L436.6 354.9L437.6 348.6L438.6 350.7L439.5 348.8L440.5 344.4L441.5 340.3L442.4 341.4L443.4 345.9L444.3 343.1L445.3 355.3L446.3 343.4L447.2 340.8L448.2 339.9L449.1 344.6L450.1 344.8L451.1 331.9L452.0 337.8L453.0 335.3L454.0 347.9L454.9 354.5L455.9 351.1L456.8 343.8L457.8 345.6L458.8 340.1L459.7 345.8L460.7 340.6L461.7 341.7L462.6 342.7L463.6 345.7L464.5 359.5L465.5 355.5L466.5 346.7L467.4 342.7L468.4 342.5L469.4 339.9L470.3 342.1L471.3 342.4L472.2 344.2L473.2 345.8L474.2 350.3L475.1 358.6L476.1 357.1L477.0 338.4L478.0 347.9L479.0 349.2L479.9 344.2L480.9 340.0L481.9 340.2L482.8 339.5L483.8 355.1L484.7 349.0L485.7 349.0L486.7 349.2L487.6 343.5L488.6 344.9L489.6 337.2L490.5 340.8L491.5 345.2L492.4 358.6L493.4 351.2L494.4 340.8L495.3 333.7L496.3 351.3L497.2 335.1L498.2 345.4L499.2 339.8L500.1 355.0L501.1 345.1L502.1 344.7L503.0 340.7L504.0 340.2L504.9 342.6L505.9 347.3L506.9 350.2L507.8 344.4L508.8 345.6L509.8 347.9L510.7 347.1L511.7 346.1L512.6 352.8L513.6 348.6L514.6 343.8L515.5 339.4L516.5 345.7L517.5 343.3L518.4 340.9L519.4 343.7L520.3 351.0L521.3 340.4L522.3 343.1L523.2 345.8L524.2 350.3L525.1 339.8L526.1 337.6L527.1 346.3L528.0 350.5L529.0 347.7L530.0 347.2L530.9 345.8L531.9 339.4L532.8 340.3L533.8 339.0L534.8 344.0L535.7 347.6L536.7 339.5L537.7 342.7L538.6 346.2L539.6 341.8L540.5 340.6L541.5 339.7L542.5 339.0L543.4 352.2L544.4 346.7L545.3 350.1L546.3 357.4L547.3 344.1L548.2 343.8L549.2 348.7L550.2 340.9L551.1 345.3L552.1 336.1L553.0 344.2L554.0 356.7L555.0 344.5L555.9 344.3L556.9 347.1L557.9 351.7L558.8 356.5L559.8 341.9L560.7 350.2L561.7 342.9L562.7 339.4L563.6 344.2L564.6 339.2L565.6 331.6L566.5 341.0L567.5 351.2L568.4 345.8L569.4 346.2L570.4 347.4L571.3 350.8L572.3 351.9L573.2 344.7L574.2 344.4L575.2 350.4L576.1 347.6L577.1 345.7L578.1 345.4L579.0 348.2L580.0 345.0L580.9 341.2L581.9 340.3L582.9 339.6L583.8 342.9L584.8 346.9L585.8 350.3L586.7 333.2L587.7 342.3L588.6 340.0L589.6 353.6L590.6 345.4L591.5 349.5L592.5 342.8L593.4 346.4L594.4 344.8L595.4 336.6L596.3 341.4L597.3 343.9L598.3 342.6L599.2 342.0L600.2 340.7L601.1 337.6L602.1 347.8L603.1 343.9L604.0 341.9L605.0 345.7L606.0 347.6L606.9 349.6L607.9 348.9L608.8 342.1L609.8 341.6L610.8 340.2L611.7 341.5L612.7 348.3L613.7 351.4L614.6 341.5L615.6 347.4L616.5 351.9L617.5 346.6L618.5 349.3L619.4 346.4L620.4 342.8L621.3 345.7L622.3 344.0L623.3 340.2L624.2 344.5L625.2 340.3L626.2 344.3L627.1 350.6L628.1 346.8L629.0 341.4L630.0 344.5L631.0 345.5L631.9 338.0L632.9 348.6L633.9 343.9L634.8 340.9L635.8 343.6L636.7 344.1L637.7 346.0L638.7 345.0L639.6 346.1L640.6 348.2L641.5 345.4L642.5 348.4L643.5 339.9L644.4 338.4L645.4 341.3L646.4 336.7L647.3 348.3L648.3 344.3L649.2 346.4L650.2 345.5L651.2 341.0L652.1 340.0L653.1 342.9L654.1 346.9L655.0 345.0L656.0 346.5L656.9 349.8L657.9 341.4L658.9 339.8L659.8 355.0L660.8 346.8L661.8 347.4L662.7 347.2L663.7 339.1L664.6 346.0L665.6 347.4L666.6 345.0L667.5 345.3L668.5 343.6L669.4 349.5L670.4 348.0L671.4 350.5L672.3 339.8L673.3 347.8L674.3 342.8L675.2 343.3L676.2 348.7L677.1 338.9L678.1 347.0L679.1 341.8L680.0 343.0L681.0 345.5L682.0 340.4L682.9 348.5L683.9 346.2L684.8 345.2L685.8 348.8L686.8 348.6L687.7 345.3L688.7 346.6L689.6 344.6L690.6 342.2L691.6 351.4L692.5 349.7L693.5 331.4L694.5 339.1L695.4 345.5L696.4 337.8L697.3 349.2L698.3 347.3L699.3 344.5L700.2 338.8L701.2 343.7L702.2 336.2L703.1 343.2L704.1 343.0L705.0 347.2L706.0 350.0L707.0 340.8L707.9 337.8L708.9 342.4L709.9 341.8L710.8 343.0L711.8 336.1L712.7 338.2L713.7 333.9L714.7 348.6L715.6 342.1L716.6 347.8L717.5 348.3L718.5 345.3L719.5 350.0L720.4 346.6L721.4 353.3L722.4 348.4L723.3 346.0L724.3 346.4L725.2 342.1L726.2 346.6L727.2 347.0L728.1 339.6L729.1 336.4L730.1 346.9L731.0 337.1L732.0 348.7L732.9 340.7L733.9 332.4L734.8 390.9L735.8 389.5L736.7 384.5L737.7 390.9L738.6 385.3L739.6 373.5L740.6 374.3L741.5 376.0L742.5 375.0L743.5 366.5L744.4 382.0L745.4 384.6L746.3 382.9L747.3 381.4L748.3 383.8L749.2 369.6L750.2 374.0L751.2 370.7L752.1 368.2L753.1 374.0L754.0 374.1L755.0 378.0L756.0 377.4L756.9 371.8L757.9 370.6L758.8 372.4L759.8 378.8L760.8 375.1L761.7 371.5L762.7 373.0L763.7 374.7L764.6 370.7L765.6 378.4L766.5 367.4L767.5 373.0L768.5 373.7L769.4 372.9L770.4 376.1L771.4 372.3L772.3 378.7L773.3 380.3L774.2 369.6L775.2 383.9L776.2 377.3L777.1 369.4L778.1 372.6L779.0 365.0L780.0 369.8L781.0 370.4L781.9 369.9L782.9 368.0L783.9 375.5L784.8 368.9L785.8 368.6L786.7 364.6L787.7 372.3L788.7 366.2L789.6 373.2L790.6 368.0L791.6 367.2L792.5 370.2L793.5 365.1L794.4 368.9L795.4 373.2L796.4 369.8L797.3 376.2L798.3 369.4L799.3 378.2L800.2 381.1L801.2 369.8L802.1 368.5L803.1 363.8L804.1 361.4L805.0 365.5L806.0 365.7L806.9 368.6L807.9 364.0L808.9 370.2L809.8 360.8L810.8 368.0L811.8 367.4L812.7 359.5L813.7 359.9L814.6 365.0L815.6 357.0L816.6 358.7L817.5 365.3L818.5 353.3L819.5 374.3L820.4 361.9L821.4 375.8L822.3 370.8L823.3 367.2L824.3 367.9L825.2 373.4L826.2 371.3L827.1 368.6L828.1 372.6L829.1 365.6"/>
<path d="M157.6 377.7L158.5 367.5L159.5 362.8L160.4 360.3L161.4 364.9L162.4 363.3L163.3 366.0L164.3 366.4L165.3 368.5L166.2 362.1L167.2 356.2L168.1 365.1L169.1 366.4L170.1 362.5L171.0 357.9L172.0 366.2L173.0 367.5L173.9 364.5L174.9 364.4L175.8 368.7L176.8 367.4L177.8 361.1L178.7 362.7L179.7 360.6L180.7 365.1L181.6 373.9L182.6 366.1L183.5 366.4L184.5 365.8L185.5 364.3L186.4 372.4L187.4 361.2L188.3 373.1L189.3 373.1L190.3 370.9L191.2 374.7L192.2 365.5L193.2 359.1L194.1 364.6L195.1 366.7L196.0 365.0L197.0 366.3L198.0 365.2L198.9 364.9L199.9 360.4L200.9 362.2L201.8 364.4L202.8 356.8L203.7 368.8L204.7 365.1L205.7 348.8L206.6 364.0L207.6 370.8L208.5 368.2L209.5 356.7L210.5 373.6L211.4 369.5L212.4 361.0L213.4 363.3L214.3 359.8L215.3 364.0L216.2 370.4L217.2 358.6L218.2 370.4L219.1 370.1L220.1 370.0L221.1 379.4L222.0 378.5L223.0 370.0L223.9 373.0L224.9 375.7L225.9 377.8L226.8 373.2L227.8 366.1L228.8 360.6L229.7 354.9L230.7 362.7L231.6 366.6L232.6 369.3L233.6 368.8L234.5 365.4L235.5 362.6L236.4 367.6L237.4 361.1L238.4 374.7L239.3 382.6L240.3 364.9L241.3 375.0L242.2 359.5L243.2 363.1L244.1 368.9L245.1 370.8L246.1 362.7L247.0 358.1L248.0 359.2L249.0 372.6L249.9 364.6L250.9 376.2L251.8 368.0L252.8 365.7L253.8 340.0L254.8 351.3L255.8 348.9L256.7 335.7L257.7 357.2L258.7 351.1L259.6 347.9L260.6 347.8L261.6 348.4L262.5 351.4L263.5 341.8L264.4 348.1L265.4 347.2L266.4 341.6L267.3 349.7L268.3 349.3L269.3 346.6L270.2 350.2L271.2 344.4L272.1 350.6L273.1 344.4L274.1 348.0L275.0 350.2L276.0 345.6L277.0 349.3L277.9 357.1L278.9 349.4L279.8 345.8L280.8 351.5L281.8 351.6L282.7 350.9L283.7 353.8L284.6 347.4L285.6 344.7L286.6 344.3L287.5 348.2L288.5 352.2L289.5 351.9L290.4 353.1L291.4 350.1L292.3 357.5L293.3 348.0L294.3 346.8L295.2 357.3L296.2 353.2L297.2 354.4L298.1 355.3L299.1 349.2L300.0 355.1L301.0 351.5L302.0 356.4L302.9 348.6L303.9 350.4L304.8 347.6L305.8 352.5L306.8 348.1L307.7 353.3L308.7 356.2L309.7 352.8L310.6 352.2L311.6 350.2L312.5 342.0L313.5 344.3L314.5 354.6L315.4 350.7L316.4 356.3L317.4 355.0L318.3 337.2L319.3 346.9L320.2 351.0L321.2 349.9L322.2 342.9L323.1 342.4L324.1 334.0L325.1 345.9L326.0 342.3L327.0 349.1L327.9 346.2L328.9 338.2L329.9 345.7L330.8 347.1L331.8 341.0L332.7 344.1L333.7 347.7L334.7 347.2L335.6 357.6L336.6 350.4L337.6 348.5L338.5 349.1L339.5 343.4L340.4 346.1L341.4 342.2L342.4 338.9L343.3 339.6L344.3 340.1L345.3 350.9L346.2 354.0L347.2 350.6L348.1 357.0L349.1 349.1L350.1 342.0L351.0 348.4L352.0 347.5L352.9 342.7L353.9 341.6L354.9 348.2L355.8 349.8L356.8 341.0L357.8 342.0L358.7 354.1L359.7 342.8L360.6 354.0L361.6 349.6L362.6 339.7L363.5 345.8L364.5 346.6L365.5 350.6L366.4 343.0L367.4 350.5L368.3 350.4L369.3 344.6L370.3 360.0L371.2 354.5L372.2 354.0L373.2 350.5L374.1 350.7L375.1 348.5L376.0 341.3L377.0 349.6L378.0 352.9L378.9 353.9L379.9 350.7L380.8 348.6L381.8 348.6L382.8 348.8L383.7 349.7L384.7 342.3L385.7 360.1L386.6 354.1L387.6 347.7L388.5 348.6L389.5 346.5L390.5 349.9L391.4 347.1L392.4 357.1L393.4 358.9L394.3 347.5L395.3 355.5L396.2 354.9L397.2 354.7L398.2 352.2L399.1 352.1L400.1 344.5L401.0 351.1L402.0 353.5L403.0 359.7L403.9 355.9L404.9 343.8L405.9 344.0L406.8 352.4L407.8 354.8L408.7 350.6L409.7 346.1L410.7 346.1L411.6 350.9L412.6 351.4L413.6 344.0L414.5 343.5L415.5 353.9L416.4 347.2L417.4 357.8L418.4 349.4L419.3 348.5L420.3 357.2L421.3 343.5L422.2 341.9L423.2 349.6L424.1 349.4L425.1 352.2L426.1 346.9L427.0 341.1L428.0 333.9L428.9 339.2L429.9 346.5L430.9 344.3L431.8 347.9L432.8 356.0L433.8 362.0L434.7 343.7L435.7 352.1L436.6 349.2L437.6 348.6L438.6 344.5L439.5 354.2L440.5 352.0L441.5 349.1L442.4 355.3L443.4 356.1L444.3 358.1L445.3 356.0L446.3 351.8L447.2 347.9L448.2 343.7L449.1 349.5L450.1 352.0L451.1 350.0L452.0 351.6L453.0 356.2L454.0 344.0L454.9 353.2L455.9 344.8L456.8 346.9L457.8 353.3L458.8 348.8L459.7 349.7L460.7 346.3L461.7 343.7L462.6 339.5L463.6 351.8L464.5 343.6L465.5 347.6L466.5 348.2L467.4 350.0L468.4 354.4L469.4 350.9L470.3 345.4L471.3 348.7L472.2 346.1L473.2 349.0L474.2 344.8L475.1 346.6L476.1 343.9L477.0 354.9L478.0 352.8L479.0 357.5L479.9 351.2L480.9 348.8L481.9 348.4L482.8 349.7L483.8 350.3L484.7 351.2L485.7 353.4L486.7 341.4L487.6 344.7L488.6 354.6L489.6 358.5L490.5 340.8L491.5 347.5L492.4 353.6L493.4 350.9L494.4 349.7L495.3 347.4L496.3 351.2L497.2 347.4L498.2 354.8L499.2 347.5L500.1 351.0L501.1 352.3L502.1 345.2L503.0 345.4L504.0 339.1L504.9 340.5L505.9 351.4L506.9 350.3L507.8 349.9L508.8 353.9L509.8 348.8L510.7 356.4L511.7 342.6L512.6 356.6L513.6 354.9L514.6 344.9L515.5 337.8L516.5 352.6L517.5 343.2L518.4 335.2L519.4 352.0L520.3 349.0L521.3 347.4L522.3 345.7L523.2 355.2L524.2 350.9L525.1 355.4L526.1 351.7L527.1 349.1L528.0 358.0L529.0 346.3L530.0 353.7L530.9 343.3L531.9 340.2L532.8 360.5L533.8 357.4L534.8 350.2L535.7 342.5L536.7 347.9L537.7 352.5L538.6 350.4L539.6 346.7L540.5 346.9L541.5 350.4L542.5 352.0L543.4 356.9L544.4 362.4L545.3 356.9L546.3 344.3L547.3 350.6L548.2 349.0L549.2 349.6L550.2 347.1L551.1 343.9L552.1 343.6L553.0 343.3L554.0 349.3L555.0 352.5L555.9 347.2L556.9 345.3L557.9 345.9L558.8 344.4L559.8 344.8L560.7 350.6L561.7 347.6L562.7 345.7L563.6 345.4L564.6 348.3L565.6 349.6L566.5 351.2L567.5 354.2L568.4 345.9L569.4 349.7L570.4 349.8L571.3 348.9L572.3 350.6L573.2 351.1L574.2 344.0L575.2 361.2L576.1 347.7L577.1 342.7L578.1 345.8L579.0 351.3L580.0 347.5L580.9 342.4L581.9 352.5L582.9 348.3L583.8 348.6L584.8 335.3L585.8 346.1L586.7 346.2L587.7 347.1L588.6 349.1L589.6 348.2L590.6 344.2L591.5 344.9L592.5 351.6L593.4 352.0L594.4 352.3L595.4 352.2L596.3 349.9L597.3 347.4L598.3 347.6L599.2 348.3L600.2 347.5L601.1 344.6L602.1 361.2L603.1 353.2L604.0 351.3L605.0 346.0L606.0 352.8L606.9 352.1L607.9 351.6L608.8 346.7L609.8 346.3L610.8 348.0L611.7 347.7L612.7 341.0L613.7 350.3L614.6 339.8L615.6 354.2L616.5 355.9L617.5 345.6L618.5 349.8L619.4 345.6L620.4 353.8L621.3 359.3L622.3 346.9L623.3 352.0L624.2 359.2L625.2 353.0L626.2 348.7L627.1 358.6L628.1 344.2L629.0 345.5L630.0 347.6L631.0 346.4L631.9 346.8L632.9 346.9L633.9 351.6L634.8 350.3L635.8 347.8L636.7 346.6L637.7 349.6L638.7 351.5L639.6 345.9L640.6 339.9L641.5 343.5L642.5 347.2L643.5 350.9L644.4 350.6L645.4 351.2L646.4 345.8L647.3 354.5L648.3 347.5L649.2 347.3L650.2 344.0L651.2 344.9L652.1 342.9L653.1 339.7L654.1 345.4L655.0 350.2L656.0 351.6L656.9 345.6L657.9 346.2L658.9 352.5L659.8 348.0L660.8 344.3L661.8 351.2L662.7 352.1L663.7 346.9L664.6 343.6L665.6 338.3L666.6 350.5L667.5 344.9L668.5 351.6L669.4 349.9L670.4 347.8L671.4 342.5L672.3 345.5L673.3 353.6L674.3 345.5L675.2 345.7L676.2 345.9L677.1 354.4L678.1 347.4L679.1 348.2L680.0 352.1L681.0 351.3L682.0 353.8L682.9 342.3L683.9 338.7L684.8 337.0L685.8 335.2L686.8 347.7L687.7 348.2L688.7 348.0L689.6 347.9L690.6 352.1L691.6 339.9L692.5 340.4L693.5 353.0L694.5 345.3L695.4 350.4L696.4 357.5L697.3 352.0L698.3 354.8L699.3 346.9L700.2 340.3L701.2 350.9L702.2 351.2L703.1 344.6L704.1 344.4L705.0 345.8L706.0 340.4L707.0 351.8L707.9 353.9L708.9 353.0L709.9 349.9L710.8 337.9L711.8 350.6L712.7 352.2L713.7 357.8L714.7 354.2L715.6 351.2L716.6 345.1L717.5 350.1L718.5 347.8L719.5 341.7L720.4 349.9L721.4 347.5L722.4 349.6L723.3 355.0L724.3 351.7L725.2 345.2L726.2 352.6L727.2 347.0L728.1 354.9L729.1 347.7L730.1 343.2L731.0 343.2L732.0 342.5L732.9 345.5L733.9 346.1L734.8 384.9L735.8 386.1L736.7 385.1L737.7 383.6L738.6 386.8L739.6 385.0L740.6 384.8L741.5 382.6L742.5 372.7L743.5 374.0L744.4 368.0L745.4 372.3L746.3 375.1L747.3 375.1L748.3 367.0L749.2 375.8L750.2 380.3L751.2 367.4L752.1 371.8L753.1 371.9L754.0 364.0L755.0 363.8L756.0 358.8L756.9 373.6L757.9 368.5L758.8 372.6L759.8 368.9L760.8 375.2L761.7 369.4L762.7 360.6L763.7 365.0L764.6 377.2L765.6 369.9L766.5 366.9L767.5 370.8L768.5 378.1L769.4 380.0L770.4 370.9L771.4 370.7L772.3 373.3L773.3 375.1L774.2 372.1L775.2 370.1L776.2 364.8L777.1 365.9L778.1 353.7L779.0 366.0L780.0 366.5L781.0 366.9L781.9 364.4L782.9 370.1L783.9 374.5L784.8 364.4L785.8 368.3L786.7 370.8L787.7 364.9L788.7 364.3L789.6 370.2L790.6 375.5L791.6 372.8L792.5 374.6L793.5 374.3L794.4 373.0L795.4 371.5L796.4 369.4L797.3 381.1L798.3 372.1L799.3 371.6L800.2 373.4L801.2 370.8L802.1 371.6L803.1 366.5L804.1 363.7L805.0 374.8L806.0 371.6L806.9 373.0L807.9 365.4L808.9 370.1L809.8 367.1L810.8 372.0L811.8 368.6L812.7 377.6L813.7 368.8L814.6 369.3L815.6 361.0L816.6 359.2L817.5 369.4L818.5 363.4L819.5 362.1L820.4 369.0L821.4 366.7L822.3 360.5L823.3 375.0L824.3 374.7L825.2 374.5L826.2 363.6L827.1 367.8L828.1 371.9L829.1 366.9"/>
<path d="M157.6 349.3L158.5 367.4L159.5 369.0L160.4 353.5L161.4 363.2L162.4 350.3L163.3 363.2L164.3 367.3L165.3 365.6L166.2 369.3L167.2 358.0L168.1 358.9L169.1 366.1L170.1 374.9L171.0 361.9L172.0 368.9L173.0 380.1L173.9 367.9L174.9 363.2L175.8 359.4L176.8 361.3L177.8 370.2L178.7 363.3L179.7 368.8L180.7 369.2L181.6 356.6L182.6 357.8L183.5 360.5L184.5 375.4L185.5 379.1L186.4 373.9L187.4 366.5L188.3 365.7L189.3 367.6L190.3 366.5L191.2 362.2L192.2 371.8L193.2 376.1L194.1 367.9L195.1 373.6L196.0 368.4L197.0 365.2L198.0 366.4L198.9 363.8L199.9 361.4L200.9 357.7L201.8 367.6L202.8 368.2L203.7 363.4L204.7 358.6L205.7 368.9L206.6 356.8L207.6 373.5L208.5 372.2L209.5 372.4L210.5 371.8L211.4 367.7L212.4 364.7L213.4 366.7L214.3 365.7L215.3 365.6L216.2 360.9L217.2 374.8L218.2 371.2L219.1 358.8L220.1 367.4L221.1 371.2L222.0 366.9L223.0 375.4L223.9 375.5L224.9 379.6L225.9 370.9L226.8 362.6L227.8 365.3L228.8 358.9L229.7 371.6L230.7 373.5L231.6 368.6L232.6 367.9L233.6 373.8L234.5 372.2L235.5 361.9L236.4 366.0L237.4 366.3L238.4 365.1L239.3 375.7L240.3 360.7L241.3 361.7L242.2 369.2L243.2 355.3L244.1 358.9L245.1 359.5L246.1 371.1L247.0 379.5L248.0 368.6L249.0 366.8L249.9 352.5L250.9 363.1L251.8 369.6L252.8 360.8L253.8 340.0L254.8 350.3L255.8 345.5L256.7 353.5L257.7 346.6L258.7 349.5L259.6 348.4L260.6 352.8L261.6 354.0L262.5 345.1L263.5 352.3L264.4 345.3L265.4 344.3L266.4 354.0L267.3 351.3L268.3 353.7L269.3 358.3L270.2 356.8L271.2 356.6L272.1 355.5L273.1 346.0L274.1 350.2L275.0 350.1L276.0 351.8L277.0 354.1L277.9 354.7L278.9 345.4L279.8 351.0L280.8 348.3L281.8 350.5L282.7 355.2L283.7 352.7L284.6 349.1L285.6 348.7L286.6 344.3L287.5 345.1L288.5 352.8L289.5 356.7L290.4 361.5L291.4 357.2L292.3 357.6L293.3 359.7L294.3 357.8L295.2 355.3L296.2 352.1L297.2 360.9L298.1 351.6L299.1 354.2L300.0 349.5L301.0 354.6L302.0 359.3L302.9 357.0L303.9 352.1L304.8 351.3L305.8 354.9L306.8 359.5L307.7 355.5L308.7 350.3L309.7 350.5L310.6 357.0L311.6 358.9L312.5 348.8L313.5 343.0L314.5 341.2L315.4 348.1L316.4 344.4L317.4 351.0L318.3 339.0L319.3 345.5L320.2 351.3L321.2 352.3L322.2 349.5L323.1 346.1L324.1 344.2L325.1 349.6L326.0 353.2L327.0 349.6L327.9 348.5L328.9 353.2L329.9 354.4L330.8 354.8L331.8 351.8L332.7 348.8L333.7 354.2L334.7 348.9L335.6 354.8L336.6 355.5L337.6 350.1L338.5 355.6L339.5 353.2L340.4 340.7L341.4 357.4L342.4 352.8L343.3 350.6L344.3 348.0L345.3 350.0L346.2 354.3L347.2 353.6L348.1 349.4L349.1 356.4L350.1 355.8L351.0 348.1L352.0 349.5L352.9 337.8L353.9 347.1L354.9 348.4L355.8 355.7L356.8 353.7L357.8 346.2L358.7 346.6L359.7 350.6L360.6 354.8L361.6 354.3L362.6 363.9L363.5 355.0L364.5 358.4L365.5 350.6L366.4 353.4L367.4 355.6L368.3 350.2L369.3 356.2L370.3 354.3L371.2 354.5L372.2 354.1L373.2 359.4L374.1 349.5L375.1 360.0L376.0 357.4L377.0 346.9L378.0 356.1L378.9 344.8L379.9 342.2L380.8 355.5L381.8 351.3L382.8 352.8L383.7 355.0L384.7 353.7L385.7 351.4L386.6 349.9L387.6 355.1L388.5 350.1L389.5 349.0L390.5 350.9L391.4 338.1L392.4 347.5L393.4 351.7L394.3 351.8L395.3 350.5L396.2 347.8L397.2 356.9L398.2 352.8L399.1 348.7L400.1 353.4L401.0 351.8L402.0 347.1L403.0 350.7L403.9 347.3L404.9 352.7L405.9 355.3L406.8 347.5L407.8 351.5L408.7 348.1L409.7 354.8L410.7 350.1L411.6 352.2L412.6 351.0L413.6 350.4L414.5 349.8L415.5 354.7L416.4 352.3L417.4 351.2L418.4 353.1L419.3 348.2L420.3 349.6L421.3 356.3L422.2 341.9L423.2 348.4L424.1 353.6L425.1 353.5L426.1 352.1L427.0 350.8L428.0 342.1L428.9 353.0L429.9 356.5L430.9 356.3L431.8 359.6L432.8 345.6L433.8 356.0L434.7 354.3L435.7 356.5L436.6 351.4L437.6 355.4L438.6 357.5L439.5 356.9L440.5 355.6L441.5 360.2L442.4 354.6L443.4 352.9L444.3 358.3L445.3 348.0L446.3 354.6L447.2 354.7L448.2 345.7L449.1 351.1L450.1 352.8L451.1 347.3L452.0 354.1L453.0 350.0L454.0 346.4L454.9 348.7L455.9 354.5L456.8 353.9L457.8 348.5L458.8 352.0L459.7 351.3L460.7 344.9L461.7 349.6L462.6 355.4L463.6 359.6L464.5 344.3L465.5 357.9L466.5 349.8L467.4 350.3L468.4 347.0L469.4 347.9L470.3 348.9L471.3 354.2L472.2 354.6L473.2 356.0L474.2 360.5L475.1 359.9L476.1 353.2L477.0 350.2L478.0 350.1L479.0 356.3L479.9 358.0L480.9 344.9L481.9 351.2L482.8 351.1L483.8 354.3L484.7 350.7L485.7 349.5L486.7 351.7L487.6 354.4L488.6 353.5L489.6 353.8L490.5 347.9L491.5 354.1L492.4 347.7L493.4 353.0L494.4 341.6L495.3 353.4L496.3 351.1L497.2 346.5L498.2 355.1L499.2 348.3L500.1 354.6L501.1 355.6L502.1 344.8L503.0 359.6L504.0 351.8L504.9 348.0L505.9 347.8L506.9 344.4L507.8 344.7L508.8 349.4L509.8 348.1L510.7 346.5L511.7 345.4L512.6 351.3L513.6 353.2L514.6 344.9L515.5 352.2L516.5 346.1L517.5 345.8L518.4 344.8L519.4 349.1L520.3 346.7L521.3 354.1L522.3 345.0L523.2 343.3L524.2 343.1L525.1 347.5L526.1 345.5L527.1 344.9L528.0 346.7L529.0 353.2L530.0 352.0L530.9 359.8L531.9 354.7L532.8 347.6L533.8 348.2L534.8 345.8L535.7 351.8L536.7 351.5L537.7 352.1L538.6 346.3L539.6 343.3L540.5 349.5L541.5 360.7L542.5 347.3L543.4 352.4L544.4 349.0L545.3 350.1L546.3 350.5L547.3 356.5L548.2 362.9L549.2 352.6L550.2 352.8L551.1 346.5L552.1 350.1L553.0 346.0L554.0 352.7L555.0 357.2L555.9 351.9L556.9 352.4L557.9 352.0L558.8 351.9L559.8 348.8L560.7 354.5L561.7 348.4L562.7 350.2L563.6 352.0L564.6 346.9L565.6 346.6L566.5 347.6L567.5 342.6L568.4 343.5L569.4 349.1L570.4 351.5L571.3 355.2L572.3 350.8L573.2 353.7L574.2 354.0L575.2 350.5L576.1 350.8L577.1 355.3L578.1 351.3L579.0 356.5L580.0 351.7L580.9 352.4L581.9 353.5L582.9 351.6L583.8 347.2L584.8 345.3L585.8 354.1L586.7 352.8L587.7 346.3L588.6 354.5L589.6 352.4L590.6 351.1L591.5 348.6L592.5 356.2L593.4 351.1L594.4 352.5L595.4 351.9L596.3 346.7L597.3 341.9L598.3 349.8L599.2 350.3L600.2 347.8L601.1 344.4L602.1 351.1L603.1 352.2L604.0 350.8L605.0 354.0L606.0 353.8L606.9 346.4L607.9 348.2L608.8 341.2L609.8 352.5L610.8 360.1L611.7 346.1L612.7 362.5L613.7 351.3L614.6 348.5L615.6 349.4L616.5 351.9L617.5 352.7L618.5 341.7L619.4 343.9L620.4 338.7L621.3 348.1L622.3 344.0L623.3 349.5L624.2 348.7L625.2 353.1L626.2 347.6L627.1 361.5L628.1 357.3L629.0 347.4L630.0 352.5L631.0 349.5L631.9 350.3L632.9 346.2L633.9 350.7L634.8 343.6L635.8 347.0L636.7 348.9L637.7 351.0L638.7 345.2L639.6 347.9L640.6 345.0L641.5 352.4L642.5 350.9L643.5 350.4L644.4 355.3L645.4 350.0L646.4 358.3L647.3 355.2L648.3 350.0L649.2 345.6L650.2 351.2L651.2 348.0L652.1 351.9L653.1 345.3L654.1 358.3L655.0 356.0L656.0 354.7L656.9 352.1L657.9 344.1L658.9 362.5L659.8 347.8L660.8 355.1L661.8 345.3L662.7 337.4L663.7 349.2L664.6 353.3L665.6 343.5L666.6 350.6L667.5 350.3L668.5 350.6L669.4 350.0L670.4 356.9L671.4 346.2L672.3 347.9L673.3 361.2L674.3 350.5L675.2 351.7L676.2 340.9L677.1 351.4L678.1 350.6L679.1 348.9L680.0 341.4L681.0 353.0L682.0 351.8L682.9 347.3L683.9 360.6L684.8 354.2L685.8 351.5L686.8 361.4L687.7 352.9L688.7 345.7L689.6 353.9L690.6 340.0L691.6 351.0L692.5 350.7L693.5 349.8L694.5 347.3L695.4 343.6L696.4 343.2L697.3 351.2L698.3 347.7L699.3 354.0L700.2 343.6L701.2 342.6L702.2 347.9L703.1 354.9L704.1 346.6L705.0 349.3L706.0 343.5L707.0 344.9L707.9 345.7L708.9 346.9L709.9 353.6L710.8 352.0L711.8 352.1L712.7 350.9L713.7 351.7L714.7 355.3L715.6 351.3L716.6 348.4L717.5 353.5L718.5 350.4L719.5 355.6L720.4 351.9L721.4 351.2L722.4 344.4L723.3 346.8L724.3 350.8L725.2 353.6L726.2 339.5L727.2 350.1L728.1 352.4L729.1 350.4L730.1 352.5L731.0 354.7L732.0 347.2L732.9 347.8L733.9 350.0L734.8 379.4L735.8 385.3L736.7 371.6L737.7 379.4L738.6 382.8L739.6 390.9L740.6 377.6L741.5 370.8L742.5 367.4L743.5 363.9L744.4 371.3L745.4 372.7L746.3 371.4L747.3 374.0L748.3 380.1L749.2 373.2L750.2 366.4L751.2 373.3L752.1 364.2L753.1 369.0L754.0 366.3L755.0 370.5L756.0 366.8L756.9 358.1L757.9 360.3L758.8 371.6L759.8 367.0L760.8 371.5L761.7 365.0L762.7 374.2L763.7 367.2L764.6 378.1L765.6 360.6L766.5 368.1L767.5 365.6L768.5 365.1L769.4 368.1L770.4 364.4L771.4 372.1L772.3 358.5L773.3 361.7L774.2 378.1L775.2 375.8L776.2 373.4L777.1 368.3L778.1 375.9L779.0 376.0L780.0 373.9L781.0 371.6L781.9 363.6L782.9 367.4L783.9 370.1L784.8 367.9L785.8 366.7L786.7 364.7L787.7 366.2L788.7 358.9L789.6 363.8L790.6 378.2L791.6 358.3L792.5 361.6L793.5 359.7L794.4 353.9L795.4 381.2L796.4 378.1L797.3 357.9L798.3 366.6L799.3 363.7L800.2 369.8L801.2 367.0L802.1 361.1L803.1 363.8L804.1 365.8L805.0 361.8L806.0 365.7L806.9 364.4L807.9 362.6L808.9 363.9L809.8 365.6L810.8 369.6L811.8 360.8L812.7 367.1L813.7 366.4L814.6 363.6L815.6 361.0L816.6 354.3L817.5 357.7L818.5 371.9L819.5 365.6L820.4 368.4L821.4 367.1L822.3 358.6L823.3 365.6L824.3 370.2L825.2 373.6L826.2 363.2L827.1 367.2L828.1 369.5L829.1 358.9"/>
<path d="M157.6 364.1L158.5 376.1L159.5 369.3L160.4 362.4L161.4 370.3L162.4 358.8L163.3 365.8L164.3 366.2L165.3 362.4L166.2 364.7L167.2 368.4L168.1 368.5L169.1 363.6L170.1 362.0L171.0 363.5L172.0 369.8L173.0 358.6L173.9 361.7L174.9 364.5L175.8 360.2L176.8 365.3L177.8 369.3L178.7 370.7L179.7 351.7L180.7 356.3L181.6 368.4L182.6 375.5L183.5 368.8L184.5 361.1L185.5 369.3L186.4 368.0L187.4 365.2L188.3 362.2L189.3 366.3L190.3 364.5L191.2 363.6L192.2 355.1L193.2 363.4L194.1 356.2L195.1 362.9L196.0 360.4L197.0 360.3L198.0 372.9L198.9 363.8L199.9 355.6L200.9 366.4L201.8 368.1L202.8 365.9L203.7 357.0L204.7 363.7L205.7 360.3L206.6 356.4L207.6 364.4L208.5 360.9L209.5 368.3L210.5 363.6L211.4 361.5L212.4 368.4L213.4 358.1L214.3 372.0L215.3 362.0L216.2 368.2L217.2 357.7L218.2 370.0L219.1 369.3L220.1 370.6L221.1 363.7L222.0 373.1L223.0 372.2L223.9 362.4L224.9 355.9L225.9 370.5L226.8 359.8L227.8 359.0L228.8 369.3L229.7 358.2L230.7 366.9L231.6 357.3L232.6 366.4L233.6 358.6L234.5 362.5L235.5 364.4L236.4 361.6L237.4 354.0L238.4 361.3L239.3 369.1L240.3 366.8L241.3 358.7L242.2 366.6L243.2 382.6L244.1 372.2L245.1 359.3L246.1 351.6L247.0 369.5L248.0 370.0L249.0 366.1L249.9 371.8L250.9 366.9L251.8 362.1L252.8 368.3L253.8 340.0L254.8 357.6L255.8 357.7L256.7 364.7L257.7 365.2L258.7 354.9L259.6 363.3L260.6 352.8L261.6 350.6L262.5 356.2L263.5 364.0L264.4 357.8L265.4 367.6L266.4 356.3L267.3 354.2L268.3 351.6L269.3 363.7L270.2 361.4L271.2 360.0L272.1 356.3L273.1 352.7L274.1 354.5L275.0 362.7L276.0 356.2L277.0 370.9L277.9 368.9L278.9 357.4L279.8 353.1L280.8 354.6L281.8 356.1L282.7 351.3L283.7 353.9L284.6 354.5L285.6 354.4L286.6 358.6L287.5 354.9L288.5 354.9L289.5 355.9L290.4 357.9L291.4 352.5L292.3 356.1L293.3 356.1L294.3 356.8L295.2 357.2L296.2 347.6L297.2 358.3L298.1 358.5L299.1 353.5L300.0 363.7L301.0 351.3L302.0 347.8L302.9 351.8L303.9 352.7L304.8 362.6L305.8 357.5L306.8 351.0L307.7 358.5L308.7 350.9L309.7 351.3L310.6 351.5L311.6 368.1L312.5 356.2L313.5 358.2L314.5 352.3L315.4 356.1L316.4 357.0L317.4 346.3L318.3 363.3L319.3 354.8L320.2 355.7L321.2 350.5L322.2 357.2L323.1 356.9L324.1 359.7L325.1 358.6L326.0 360.3L327.0 356.9L327.9 356.1L328.9 358.8L329.9 359.4L330.8 356.0L331.8 354.7L332.7 355.6L333.7 359.0L334.7 354.7L335.6 361.8L336.6 351.0L337.6 347.7L338.5 357.2L339.5 353.7L340.4 357.5L341.4 357.3L342.4 356.5L343.3 355.1L344.3 352.7L345.3 349.3L346.2 357.6L347.2 354.5L348.1 350.2L349.1 360.0L350.1 355.4L351.0 352.8L352.0 352.7L352.9 362.3L353.9 365.5L354.9 365.0L355.8 355.3L356.8 345.8L357.8 358.4L358.7 360.5L359.7 353.0L360.6 361.3L361.6 350.0L362.6 362.7L363.5 353.9L364.5 362.5L365.5 361.2L366.4 358.0L367.4 355.7L368.3 356.6L369.3 359.0L370.3 360.3L371.2 357.5L372.2 356.6L373.2 357.1L374.1 355.2L375.1 353.6L376.0 354.5L377.0 350.6L378.0 354.7L378.9 359.4L379.9 356.1L380.8 347.6L381.8 355.2L382.8 353.2L383.7 356.4L384.7 361.2L385.7 355.6L386.6 350.6L387.6 353.3L388.5 348.6L389.5 347.5L390.5 358.8L391.4 345.7L392.4 352.5L393.4 351.0L394.3 359.0L395.3 357.5L396.2 357.0L397.2 350.4L398.2 351.3L399.1 349.5L400.1 351.9L401.0 355.3L402.0 355.4L403.0 352.8L403.9 358.0L404.9 359.3L405.9 360.2L406.8 345.7L407.8 354.3L408.7 355.6L409.7 359.9L410.7 356.8L411.6 355.8L412.6 359.3L413.6 357.0L414.5 361.1L415.5 363.1L416.4 368.3L417.4 353.9L418.4 347.1L419.3 352.1L420.3 369.1L421.3 354.3L422.2 350.7L423.2 351.7L424.1 354.0L425.1 347.1L426.1 361.1L427.0 356.8L428.0 355.1L428.9 361.2L429.9 358.1L430.9 354.4L431.8 351.6L432.8 355.2L433.8 350.8L434.7 358.1L435.7 352.1L436.6 349.2L437.6 356.9L438.6 351.1L439.5 348.8L440.5 356.8L441.5 355.9L442.4 343.6L443.4 354.8L444.3 364.8L445.3 362.6L446.3 353.3L447.2 360.9L448.2 356.3L449.1 359.9L450.1 367.7L451.1 349.9L452.0 357.5L453.0 356.7L454.0 353.9L454.9 355.5L455.9 353.5L456.8 361.1L457.8 353.3L458.8 353.1L459.7 365.4L460.7 354.9L461.7 360.2L462.6 353.6L463.6 352.1L464.5 347.0L465.5 354.7L466.5 356.9L467.4 352.5L468.4 358.4L469.4 356.0L470.3 351.5L471.3 343.9L472.2 358.8L473.2 355.1L474.2 354.7L475.1 358.9L476.1 351.8L477.0 355.8L478.0 355.2L479.0 355.7L479.9 358.6L480.9 358.3L481.9 355.8L482.8 352.0L483.8 347.4L484.7 347.9L485.7 344.8L486.7 349.1L487.6 352.2L488.6 350.2L489.6 345.6L490.5 352.4L491.5 344.2L492.4 348.6L493.4 357.7L494.4 351.1L495.3 345.4L496.3 353.9L497.2 361.7L498.2 355.7L499.2 356.9L500.1 351.8L501.1 353.8L502.1 362.7L503.0 356.4L504.0 354.4L504.9 353.2L505.9 355.0L506.9 353.3L507.8 357.7L508.8 348.7L509.8 346.7L510.7 361.2L511.7 356.2L512.6 356.0L513.6 362.8L514.6 361.9L515.5 353.4L516.5 358.2L517.5 351.3L518.4 353.6L519.4 350.8L520.3 357.3L521.3 365.8L522.3 359.5L523.2 348.5L524.2 342.4L525.1 363.5L526.1 364.6L527.1 353.4L528.0 357.5L529.0 353.1L530.0 352.3L530.9 356.9L531.9 359.5L532.8 355.6L533.8 358.7L534.8 355.6L535.7 356.6L536.7 356.7L537.7 351.7L538.6 352.1L539.6 351.4L540.5 347.2L541.5 353.6L542.5 353.7L543.4 351.7L544.4 361.5L545.3 358.5L546.3 356.2L547.3 348.3L548.2 351.2L549.2 356.9L550.2 341.2L551.1 355.7L552.1 356.7L553.0 358.1L554.0 357.0L555.0 355.3L555.9 358.5L556.9 360.4L557.9 353.6L558.8 360.3L559.8 354.5L560.7 348.4L561.7 351.8L562.7 352.2L563.6 357.4L564.6 353.8L565.6 354.2L566.5 349.9L567.5 353.1L568.4 356.1L569.4 356.1L570.4 356.8L571.3 353.1L572.3 357.6L573.2 352.9L574.2 357.0L575.2 355.8L576.1 350.0L577.1 353.0L578.1 355.3L579.0 356.4L580.0 358.1L580.9 356.5L581.9 349.4L582.9 355.4L583.8 351.7L584.8 358.5L585.8 359.3L586.7 354.4L587.7 352.5L588.6 356.7L589.6 353.0L590.6 352.0L591.5 358.3L592.5 352.7L593.4 343.4L594.4 356.6L595.4 355.9L596.3 356.6L597.3 356.4L598.3 347.2L599.2 351.0L600.2 348.9L601.1 352.6L602.1 352.5L603.1 352.6L604.0 348.8L605.0 355.0L606.0 357.4L606.9 349.8L607.9 348.1L608.8 354.5L609.8 350.4L610.8 352.9L611.7 357.1L612.7 356.7L613.7 355.8L614.6 353.9L615.6 352.4L616.5 354.9L617.5 352.0L618.5 355.5L619.4 362.5L620.4 354.9L621.3 354.3L622.3 342.4L623.3 354.3L624.2 351.4L625.2 350.9L626.2 351.1L627.1 344.3L628.1 348.6L629.0 354.6L630.0 361.9L631.0 355.7L631.9 349.1L632.9 358.1L633.9 349.8L634.8 356.0L635.8 350.7L636.7 357.2L637.7 350.6L638.7 357.6L639.6 355.6L640.6 353.0L641.5 349.8L642.5 349.0L643.5 352.9L644.4 348.0L645.4 351.4L646.4 350.7L647.3 365.3L648.3 350.8L649.2 348.0L650.2 354.3L651.2 352.8L652.1 349.7L653.1 353.3L654.1 352.8L655.0 351.4L656.0 348.9L656.9 351.9L657.9 357.0L658.9 356.8L659.8 355.4L660.8 356.2L661.8 367.6L662.7 343.7L663.7 361.4L664.6 355.3L665.6 349.6L666.6 360.7L667.5 355.9L668.5 348.8L669.4 351.6L670.4 356.7L671.4 357.5L672.3 355.1L673.3 357.6L674.3 353.0L675.2 348.7L676.2 351.1L677.1 358.5L678.1 356.5L679.1 359.5L680.0 357.5L681.0 359.7L682.0 349.0L682.9 358.4L683.9 356.7L684.8 349.1L685.8 344.5L686.8 355.0L687.7 349.8L688.7 355.5L689.6 352.9L690.6 346.5L691.6 363.4L692.5 352.1L693.5 353.6L694.5 343.8L695.4 344.9L696.4 354.5L697.3 346.6L698.3 357.7L699.3 361.5L700.2 360.4L701.2 359.7L702.2 356.9L703.1 362.5L704.1 354.7L705.0 344.9L706.0 344.4L707.0 360.2L707.9 356.3L708.9 355.7L709.9 356.0L710.8 355.4L711.8 353.7L712.7 347.7L713.7 358.5L714.7 357.6L715.6 346.8L716.6 361.7L717.5 354.2L718.5 353.0L719.5 350.7L720.4 361.1L721.4 353.0L722.4 352.4L723.3 350.0L724.3 353.5L725.2 364.5L726.2 359.6L727.2 367.8L728.1 361.5L729.1 360.1L730.1 347.8L731.0 357.7L732.0 354.4L732.9 366.6L733.9 356.9L734.8 374.4L735.8 380.1L736.7 373.5L737.7 370.6L738.6 372.9L739.6 367.0L740.6 367.8L741.5 368.9L742.5 360.4L743.5 359.3L744.4 367.5L745.4 364.2L746.3 367.8L747.3 360.5L748.3 364.7L749.2 376.0L750.2 367.5L751.2 365.2L752.1 354.0L753.1 361.6L754.0 380.7L755.0 372.6L756.0 371.8L756.9 371.6L757.9 368.4L758.8 358.5L759.8 351.8L760.8 369.2L761.7 367.6L762.7 375.7L763.7 371.6L764.6 364.7L765.6 367.8L766.5 367.1L767.5 369.6L768.5 367.5L769.4 370.0L770.4 370.5L771.4 368.4L772.3 367.0L773.3 376.2L774.2 364.0L775.2 357.0L776.2 365.2L777.1 367.4L778.1 368.1L779.0 369.4L780.0 362.7L781.0 369.9L781.9 379.4L782.9 361.5L783.9 362.9L784.8 373.7L785.8 363.0L786.7 368.0L787.7 365.6L788.7 371.8L789.6 371.9L790.6 366.3L791.6 365.3L792.5 361.6L793.5 369.2L794.4 360.4L795.4 369.9L796.4 377.1L797.3 371.8L798.3 368.0L799.3 368.4L800.2 364.0L801.2 367.1L802.1 372.2L803.1 371.0L804.1 376.4L805.0 370.5L806.0 364.9L806.9 359.3L807.9 356.6L808.9 359.7L809.8 372.0L810.8 365.2L811.8 365.1L812.7 364.6L813.7 363.1L814.6 360.9L815.6 369.7L816.6 360.6L817.5 375.3L818.5 358.3L819.5 351.5L820.4 353.9L821.4 368.6L822.3 372.4L823.3 374.5L824.3 371.3L825.2 371.2L826.2 367.8L827.1 366.6L828.1 364.4L829.1 358.9"/>
<path d="M157.6 366.0L158.5 363.5L159.5 374.8L160.4 370.4L161.4 360.3L162.4 365.3L163.3 370.6L164.3 376.5L165.3 363.7L166.2 364.5L167.2 372.4L168.1 366.8L169.1 366.0L170.1 371.1L171.0 371.8L172.0 371.5L173.0 360.8L173.9 349.2L174.9 363.3L175.8 368.8L176.8 372.9L177.8 358.5L178.7 359.5L179.7 364.1L180.7 362.6L181.6 366.0L182.6 367.8L183.5 366.8L184.5 363.1L185.5 366.0L186.4 362.9L187.4 363.0L188.3 358.8L189.3 364.4L190.3 361.7L191.2 365.9L192.2 368.1L193.2 367.2L194.1 370.4L195.1 366.1L196.0 365.0L197.0 370.7L198.0 357.8L198.9 365.3L199.9 368.8L200.9 365.0L201.8 365.3L202.8 380.9L203.7 364.5L204.7 357.1L205.7 356.4L206.6 362.1L207.6 369.0L208.5 374.1L209.5 373.9L210.5 369.6L211.4 371.5L212.4 372.6L213.4 358.9L214.3 361.3L215.3 357.5L216.2 366.0L217.2 363.6L218.2 363.8L219.1 374.2L220.1 365.0L221.1 355.7L222.0 366.4L223.0 368.7L223.9 365.7L224.9 367.7L225.9 369.1L226.8 370.5L227.8 378.3L228.8 359.3L229.7 370.4L230.7 362.8L231.6 359.3L232.6 368.7L233.6 370.9L234.5 369.1L235.5 356.4L236.4 355.0L237.4 357.7L238.4 364.7L239.3 356.9L240.3 360.7L241.3 365.6L242.2 371.7L243.2 355.7L244.1 355.4L245.1 360.2L246.1 364.3L247.0 363.1L248.0 366.2L249.0 368.1L249.9 361.9L250.9 364.5L251.8 366.0L252.8 359.3L253.8 340.0L254.8 364.2L255.8 363.0L256.7 362.9L257.7 356.8L258.7 363.6L259.6 368.4L260.6 368.9L261.6 363.6L262.5 363.8L263.5 361.6L264.4 364.6L265.4 361.6L266.4 357.5L267.3 360.9L268.3 359.0L269.3 352.6L270.2 358.6L271.2 360.5L272.1 354.3L273.1 359.8L274.1 354.9L275.0 359.1L276.0 361.2L277.0 361.7L277.9 357.3L278.9 363.1L279.8 373.8L280.8 364.5L281.8 367.3L282.7 363.1L283.7 365.3L284.6 363.1L285.6 363.2L286.6 361.3L287.5 356.9L288.5 354.9L289.5 359.7L290.4 360.7L291.4 366.4L292.3 358.2L293.3 357.2L294.3 352.9L295.2 367.6L296.2 359.4L297.2 365.2L298.1 358.8L299.1 347.8L300.0 358.1L301.0 361.5L302.0 359.8L302.9 361.7L303.9 362.6L304.8 363.8L305.8 359.4L306.8 373.0L307.7 364.9L308.7 363.8L309.7 365.5L310.6 366.0L311.6 361.0L312.5 363.5L313.5 356.9L314.5 348.9L315.4 353.4L316.4 352.0L317.4 353.0L318.3 358.6L319.3 357.0L320.2 365.3L321.2 362.5L322.2 362.4L323.1 358.6L324.1 359.8L325.1 358.2L326.0 356.7L327.0 365.3L327.9 358.1L328.9 362.8L329.9 348.8L330.8 353.6L331.8 366.1L332.7 360.3L333.7 364.6L334.7 359.1L335.6 361.7L336.6 361.6L337.6 361.1L338.5 365.2L339.5 353.7L340.4 352.7L341.4 357.0L342.4 361.9L343.3 355.6L344.3 358.6L345.3 356.8L346.2 352.0L347.2 357.2L348.1 366.4L349.1 356.0L350.1 353.7L351.0 356.7L352.0 353.1L352.9 352.7L353.9 362.2L354.9 349.8L355.8 353.5L356.8 358.6L357.8 365.3L358.7 356.5L359.7 353.2L360.6 357.3L361.6 357.9L362.6 356.1L363.5 360.6L364.5 361.7L365.5 355.5L366.4 363.8L367.4 355.3L368.3 356.6L369.3 358.1L370.3 361.7L371.2 366.9L372.2 356.7L373.2 367.5L374.1 359.5L375.1 361.0L376.0 358.3L377.0 360.9L378.0 360.7L378.9 362.9L379.9 356.2L380.8 359.6L381.8 360.9L382.8 365.9L383.7 359.5L384.7 361.1L385.7 357.3L386.6 355.7L387.6 355.2L388.5 354.2L389.5 353.6L390.5 357.0L391.4 361.5L392.4 357.2L393.4 360.0L394.3 354.7L395.3 354.7L396.2 362.9L397.2 362.9L398.2 358.7L399.1 353.2L400.1 346.8L401.0 360.0L402.0 356.6L403.0 354.6L403.9 353.8L404.9 357.6L405.9 354.0L406.8 360.3L407.8 350.2L408.7 359.1L409.7 360.4L410.7 356.2L411.6 351.7L412.6 353.8L413.6 353.8L414.5 368.2L415.5 364.5L416.4 370.9L417.4 346.7L418.4 352.9L419.3 360.9L420.3 357.0L421.3 364.5L422.2 358.1L423.2 349.1L424.1 358.8L425.1 362.9L426.1 363.2L427.0 360.8L428.0 366.9L428.9 357.2L429.9 355.6L430.9 361.3L431.8 361.9L432.8 357.6L433.8 356.3L434.7 367.5L435.7 356.7L436.6 350.6L437.6 354.6L438.6 349.8L439.5 351.5L440.5 359.2L441.5 360.9L442.4 360.5L443.4 356.0L444.3 347.7L445.3 354.2L446.3 349.2L447.2 356.8L448.2 362.1L449.1 360.1L450.1 354.9L451.1 359.5L452.0 362.5L453.0 358.1L454.0 363.3L454.9 361.4L455.9 356.1L456.8 348.9L457.8 353.5L458.8 349.5L459.7 356.4L460.7 352.2L461.7 358.9L462.6 360.9L463.6 351.6L464.5 352.9L465.5 354.0L466.5 358.4L467.4 355.2L468.4 343.9L469.4 356.8L470.3 353.9L471.3 353.6L472.2 360.1L473.2 357.0L474.2 351.3L475.1 359.2L476.1 360.8L477.0 360.7L478.0 362.1L479.0 354.1L479.9 362.8L480.9 348.7L481.9 360.2L482.8 360.5L483.8 357.5L484.7 361.8L485.7 358.3L486.7 357.2L487.6 357.0L488.6 363.0L489.6 355.0L490.5 358.4L491.5 355.1L492.4 356.7L493.4 354.2L494.4 360.4L495.3 361.0L496.3 352.6L497.2 363.1L498.2 362.3L499.2 357.8L500.1 364.4L501.1 354.9L502.1 353.9L503.0 358.3L504.0 366.6L504.9 358.5L505.9 359.1L506.9 360.0L507.8 365.5L508.8 364.3L509.8 358.1L510.7 346.0L511.7 354.7L512.6 359.2L513.6 353.4L514.6 359.5L515.5 351.3L516.5 364.0L517.5 359.8L518.4 364.2L519.4 359.0L520.3 356.8L521.3 354.8L522.3 356.9L523.2 358.4L524.2 357.5L525.1 353.5L526.1 360.5L527.1 365.2L528.0 360.9L529.0 353.7L530.0 354.1L530.9 357.9L531.9 351.9L532.8 365.0L533.8 357.7L534.8 353.8L535.7 352.9L536.7 363.3L537.7 349.6L538.6 364.6L539.6 358.7L540.5 349.9L541.5 357.0L542.5 352.3L543.4 356.1L544.4 355.1L545.3 357.3L546.3 356.0L547.3 362.3L548.2 356.9L549.2 355.9L550.2 360.8L551.1 358.4L552.1 353.4L553.0 352.3L554.0 359.5L555.0 353.0L555.9 358.4L556.9 359.6L557.9 361.3L558.8 354.8L559.8 359.3L560.7 352.2L561.7 352.8L562.7 354.1L563.6 354.6L564.6 355.9L565.6 361.3L566.5 358.2L567.5 356.3L568.4 355.5L569.4 358.0L570.4 363.6L571.3 358.7L572.3 359.4L573.2 347.3L574.2 352.1L575.2 355.3L576.1 359.1L577.1 354.9L578.1 355.0L579.0 353.7L580.0 344.6L580.9 347.5L581.9 353.1L582.9 352.9L583.8 354.2L584.8 350.7L585.8 351.1L586.7 354.5L587.7 356.7L588.6 355.5L589.6 361.1L590.6 356.7L591.5 357.3L592.5 358.9L593.4 358.2L594.4 355.5L595.4 348.0L596.3 341.5L597.3 348.9L598.3 354.0L599.2 356.2L600.2 360.9L601.1 356.2L602.1 359.5L603.1 357.9L604.0 361.0L605.0 352.6L606.0 351.9L606.9 360.0L607.9 353.1L608.8 355.8L609.8 350.1L610.8 349.7L611.7 360.1L612.7 354.2L613.7 357.1L614.6 356.1L615.6 356.8L616.5 355.5L617.5 356.7L618.5 360.7L619.4 357.1L620.4 359.2L621.3 359.0L622.3 360.9L623.3 358.4L624.2 360.8L625.2 357.0L626.2 357.9L627.1 360.7L628.1 353.8L629.0 348.0L630.0 361.0L631.0 355.9L631.9 357.2L632.9 357.7L633.9 354.9L634.8 358.0L635.8 355.3L636.7 356.4L637.7 357.6L638.7 360.2L639.6 352.1L640.6 358.1L641.5 355.4L642.5 352.6L643.5 350.7L644.4 357.3L645.4 351.5L646.4 358.4L647.3 347.6L648.3 360.9L649.2 355.8L650.2 347.2L651.2 350.9L652.1 352.2L653.1 352.7L654.1 354.9L655.0 354.5L656.0 355.2L656.9 352.2L657.9 350.4L658.9 350.5L659.8 354.5L660.8 357.0L661.8 364.6L662.7 356.0L663.7 361.4L664.6 358.7L665.6 360.3L666.6 354.7L667.5 356.4L668.5 363.8L669.4 362.5L670.4 348.8L671.4 354.1L672.3 364.1L673.3 355.9L674.3 358.8L675.2 359.6L676.2 356.4L677.1 358.3L678.1 356.9L679.1 348.4L680.0 356.7L681.0 348.5L682.0 359.8L682.9 353.2L683.9 352.9L684.8 360.0L685.8 358.9L686.8 357.8L687.7 361.0L688.7 361.9L689.6 350.4L690.6 353.0L691.6 357.2L692.5 357.7L693.5 358.2L694.5 363.4L695.4 353.9L696.4 356.5L697.3 356.0L698.3 354.9L699.3 356.6L700.2 352.2L701.2 355.6L702.2 370.4L703.1 360.4L704.1 355.6L705.0 360.8L706.0 352.0L707.0 358.9L707.9 355.8L708.9 352.5L709.9 353.3L710.8 362.5L711.8 360.1L712.7 357.8L713.7 358.7L714.7 351.2L715.6 358.1L716.6 355.0L717.5 367.3L718.5 356.5L719.5 360.3L720.4 362.3L721.4 363.0L722.4 355.1L723.3 353.2L724.3 355.6L725.2 357.1L726.2 350.8L727.2 349.9L728.1 363.4L729.1 357.5L730.1 353.6L731.0 351.8L732.0 354.2L732.9 353.5L733.9 355.1L734.8 370.1L735.8 375.5L736.7 370.7L737.7 367.8L738.6 368.3L739.6 365.9L740.6 370.5L741.5 357.7L742.5 372.1L743.5 370.6L744.4 371.6L745.4 376.6L746.3 364.0L747.3 374.0L748.3 378.1L749.2 367.6L750.2 358.2L751.2 362.7L752.1 367.6L753.1 372.5L754.0 368.8L755.0 365.6L756.0 373.5L756.9 360.7L757.9 363.0L758.8 368.0L759.8 374.4L760.8 361.5L761.7 364.9L762.7 368.9L763.7 365.2L764.6 359.9L765.6 364.2L766.5 364.3L767.5 366.6L768.5 364.2L769.4 355.5L770.4 366.3L771.4 367.8L772.3 357.2L773.3 362.5L774.2 363.4L775.2 369.8L776.2 362.7L777.1 362.2L778.1 367.6L779.0 370.8L780.0 367.3L781.0 354.3L781.9 369.6L782.9 358.8L783.9 365.0L784.8 368.5L785.8 367.5L786.7 370.7L787.7 379.8L788.7 364.1L789.6 366.4L790.6 367.9L791.6 369.1L792.5 373.3L793.5 367.2L794.4 371.8L795.4 363.6L796.4 363.0L797.3 367.6L798.3 375.7L799.3 368.3L800.2 365.4L801.2 363.7L802.1 368.2L803.1 365.3L804.1 362.0L805.0 367.2L806.0 372.4L806.9 369.8L807.9 368.0L808.9 370.5L809.8 367.0L810.8 367.6L811.8 365.8L812.7 370.1L813.7 359.7L814.6 366.3L815.6 377.5L816.6 371.3L817.5 371.0L818.5 369.4L819.5 366.4L820.4 361.9L821.4 358.1L822.3 371.8L823.3 375.5L824.3 363.0L825.2 364.1L826.2 366.3L827.1 362.2L828.1 370.9L829.1 363.3"/>
<path d="M157.6 365.7L158.5 366.4L159.5 363.0L160.4 370.5L161.4 368.2L162.4 370.4L163.3 363.5L164.3 366.2L165.3 363.9L166.2 371.8L167.2 364.2L168.1 374.0L169.1 370.9L170.1 365.5L171.0 363.3L172.0 348.3L173.0 356.6L173.9 357.2L174.9 361.9L175.8 357.3L176.8 376.5L177.8 370.3L178.7 372.2L179.7 371.3L180.7 364.3L181.6 366.2L182.6 358.8L183.5 362.1L184.5 365.6L185.5 362.7L186.4 370.9L187.4 359.7L188.3 379.5L189.3 365.3L190.3 375.1L191.2 365.5L192.2 367.3L193.2 369.5L194.1 370.4L195.1 372.9L196.0 371.3L197.0 368.7L198.0 368.6L198.9 371.3L199.9 358.7L200.9 368.2L201.8 374.9L202.8 366.3L203.7 377.4L204.7 366.2L205.7 349.0L206.6 368.0L207.6 367.6L208.5 364.7L209.5 361.3L210.5 363.9L211.4 364.2L212.4 366.2L213.4 360.5L214.3 366.2L215.3 375.9L216.2 369.2L217.2 368.1L218.2 374.9L219.1 370.4L220.1 383.0L221.1 368.3L222.0 366.3L223.0 367.0L223.9 374.7L224.9 366.4L225.9 353.3L226.8 364.6L227.8 361.8L228.8 373.2L229.7 365.6L230.7 364.8L231.6 364.2L232.6 358.7L233.6 364.2L234.5 361.4L235.5 371.0L236.4 377.6L237.4 367.5L238.4 371.4L239.3 364.6L240.3 351.4L241.3 364.0L242.2 355.7L243.2 356.8L244.1 366.9L245.1 368.9L246.1 359.7L247.0 365.6L248.0 381.1L249.0 364.7L249.9 372.1L250.9 360.8L251.8 359.8L252.8 358.7L253.8 340.0L254.8 364.2L255.8 357.8L256.7 357.7L257.7 364.0L258.7 361.9L259.6 363.0L260.6 361.4L261.6 349.6L262.5 359.0L263.5 356.9L264.4 351.8L265.4 359.4L266.4 353.5L267.3 363.7L268.3 360.0L269.3 352.8L270.2 357.1L271.2 360.3L272.1 366.4L273.1 365.6L274.1 360.6L275.0 359.8L276.0 359.2L277.0 366.2L277.9 363.8L278.9 350.2L279.8 362.5L280.8 365.5L281.8 358.1L282.7 362.4L283.7 367.6L284.6 364.2L285.6 359.9L286.6 360.2L287.5 363.9L288.5 360.2L289.5 357.8L290.4 345.7L291.4 349.5L292.3 350.6L293.3 366.3L294.3 358.0L295.2 355.9L296.2 367.0L297.2 365.4L298.1 361.1L299.1 367.0L300.0 365.0L301.0 359.5L302.0 362.8L302.9 352.6L303.9 360.4L304.8 361.4L305.8 359.4L306.8 359.7L307.7 361.6L308.7 359.7L309.7 360.2L310.6 359.5L311.6 364.9L312.5 359.8L313.5 363.3L314.5 357.5L315.4 364.7L316.4 360.9L317.4 355.5L318.3 360.5L319.3 364.9L320.2 355.3L321.2 363.7L322.2 364.3L323.1 358.9L324.1 355.1L325.1 355.9L326.0 360.2L327.0 360.3L327.9 358.7L328.9 356.5L329.9 360.6L330.8 361.8L331.8 353.8L332.7 348.8L333.7 365.3L334.7 366.3L335.6 356.4L336.6 357.3L337.6 360.9L338.5 361.3L339.5 354.3L340.4 367.1L341.4 359.0L342.4 366.8L343.3 362.5L344.3 357.2L345.3 358.6L346.2 360.6L347.2 359.6L348.1 367.1L349.1 375.8L350.1 363.6L351.0 367.2L352.0 375.3L352.9 369.0L353.9 366.3L354.9 362.5L355.8 367.3L356.8 367.9L357.8 355.7L358.7 359.4L359.7 360.3L360.6 361.6L361.6 362.5L362.6 365.8L363.5 361.7L364.5 361.0L365.5 360.5L366.4 364.0L367.4 361.2L368.3 367.0L369.3 370.3L370.3 368.8L371.2 364.1L372.2 354.5L373.2 359.6L374.1 359.3L375.1 366.0L376.0 363.7L377.0 358.8L378.0 366.3L378.9 353.5L379.9 367.4L380.8 362.7L381.8 356.7L382.8 354.4L383.7 365.2L384.7 352.0L385.7 354.9L386.6 353.0L387.6 356.0L388.5 358.7L389.5 359.0L390.5 350.3L391.4 367.3L392.4 373.3L393.4 361.9L394.3 360.2L395.3 369.3L396.2 365.7L397.2 362.3L398.2 356.7L399.1 366.2L400.1 362.4L401.0 354.6L402.0 360.9L403.0 361.3L403.9 364.0L404.9 357.0L405.9 353.6L406.8 349.4L407.8 356.3L408.7 363.3L409.7 365.2L410.7 357.2L411.6 354.2L412.6 363.0L413.6 363.6L414.5 357.2L415.5 358.1L416.4 362.7L417.4 368.5L418.4 364.5L419.3 353.1L420.3 356.9L421.3 358.0L422.2 358.9L423.2 355.9L424.1 364.3L425.1 349.4L426.1 357.5L427.0 362.2L428.0 365.3L428.9 359.5L429.9 362.6L430.9 366.7L431.8 365.5L432.8 363.1L433.8 373.4L434.7 359.2L435.7 359.8L436.6 357.0L437.6 361.8L438.6 366.3L439.5 363.8L440.5 370.2L441.5 356.7L442.4 360.6L443.4 355.3L444.3 368.8L445.3 366.3L446.3 361.0L447.2 367.4L448.2 371.8L449.1 360.7L450.1 359.9L451.1 360.4L452.0 365.8L453.0 365.0L454.0 363.8L454.9 356.7L455.9 355.7L456.8 351.7L457.8 354.0L458.8 362.9L459.7 363.2L460.7 367.5L461.7 361.6L462.6 373.7L463.6 360.1L464.5 359.7L465.5 365.0L466.5 364.2L467.4 361.9L468.4 372.2L469.4 368.7L470.3 357.0L471.3 358.1L472.2 363.4L473.2 359.5L474.2 357.6L475.1 355.5L476.1 350.2L477.0 357.5L478.0 349.2L479.0 347.2L479.9 346.6L480.9 360.2L481.9 359.4L482.8 366.4L483.8 366.6L484.7 365.9L485.7 356.2L486.7 356.9L487.6 355.8L488.6 348.8L489.6 361.5L490.5 371.3L491.5 356.2L492.4 362.5L493.4 349.4L494.4 351.3L495.3 357.3L496.3 354.6L497.2 353.5L498.2 364.0L499.2 352.4L500.1 359.2L501.1 357.1L502.1 362.8L503.0 359.7L504.0 367.2L504.9 357.8L505.9 359.9L506.9 367.5L507.8 360.9L508.8 360.5L509.8 357.1L510.7 360.7L511.7 358.1L512.6 358.2L513.6 358.0L514.6 353.1L515.5 353.5L516.5 360.0L517.5 359.5L518.4 363.7L519.4 357.2L520.3 361.4L521.3 356.4L522.3 364.3L523.2 350.6L524.2 356.0L525.1 357.6L526.1 360.1L527.1 355.5L528.0 358.5L529.0 357.0L530.0 356.8L530.9 362.3L531.9 355.1L532.8 362.2L533.8 360.7L534.8 372.1L535.7 353.3L536.7 357.1L537.7 362.0L538.6 361.9L539.6 360.3L540.5 357.5L541.5 363.0L542.5 358.4L543.4 355.1L544.4 363.9L545.3 358.6L546.3 363.1L547.3 361.2L548.2 354.6L549.2 355.7L550.2 362.7L551.1 366.6L552.1 365.7L553.0 357.3L554.0 359.1L555.0 359.5L555.9 364.9L556.9 364.6L557.9 361.9L558.8 359.1L559.8 359.9L560.7 357.3L561.7 368.9L562.7 374.9L563.6 360.3L564.6 365.4L565.6 358.8L566.5 368.6L567.5 372.1L568.4 356.1L569.4 361.4L570.4 360.8L571.3 360.1L572.3 354.1L573.2 356.3L574.2 356.6L575.2 359.8L576.1 360.9L577.1 359.1L578.1 355.0L579.0 363.4L580.0 363.3L580.9 356.4L581.9 349.6L582.9 354.7L583.8 361.8L584.8 359.8L585.8 362.6L586.7 350.6L587.7 363.8L588.6 352.6L589.6 361.0L590.6 352.8L591.5 359.1L592.5 362.0L593.4 358.8L594.4 355.8L595.4 353.5L596.3 364.7L597.3 365.3L598.3 371.5L599.2 354.3L600.2 355.4L601.1 363.0L602.1 357.3L603.1 358.8L604.0 366.3L605.0 358.0L606.0 360.8L606.9 356.8L607.9 355.9L608.8 356.3L609.8 363.4L610.8 351.7L611.7 356.0L612.7 355.2L613.7 368.0L614.6 362.2L615.6 360.7L616.5 363.0L617.5 359.5L618.5 355.3L619.4 361.7L620.4 364.4L621.3 358.8L622.3 359.4L623.3 360.1L624.2 364.3L625.2 367.6L626.2 362.3L627.1 353.0L628.1 354.9L629.0 363.1L630.0 357.9L631.0 367.3L631.9 354.4L632.9 353.9L633.9 361.8L634.8 357.7L635.8 360.2L636.7 369.5L637.7 358.9L638.7 355.0L639.6 372.1L640.6 365.3L641.5 348.2L642.5 354.2L643.5 362.5L644.4 354.8L645.4 355.5L646.4 360.3L647.3 353.5L648.3 356.9L649.2 358.3L650.2 355.0L651.2 358.7L652.1 359.8L653.1 362.0L654.1 364.4L655.0 344.7L656.0 352.0L656.9 355.5L657.9 360.3L658.9 360.0L659.8 355.3L660.8 350.3L661.8 354.4L662.7 353.7L663.7 362.5L664.6 372.7L665.6 355.3L666.6 358.1L667.5 364.2L668.5 357.6L669.4 349.6L670.4 359.6L671.4 358.9L672.3 351.4L673.3 360.9L674.3 363.2L675.2 360.7L676.2 365.7L677.1 361.1L678.1 353.3L679.1 364.2L680.0 347.6L681.0 363.5L682.0 356.1L682.9 354.1L683.9 365.0L684.8 361.6L685.8 361.1L686.8 358.5L687.7 355.4L688.7 353.8L689.6 352.5L690.6 357.9L691.6 354.8L692.5 363.2L693.5 356.9L694.5 359.0L695.4 354.6L696.4 361.2L697.3 363.0L698.3 359.8L699.3 364.5L700.2 355.7L701.2 354.7L702.2 363.7L703.1 362.3L704.1 364.8L705.0 352.1L706.0 359.3L707.0 359.9L707.9 358.1L708.9 366.1L709.9 355.9L710.8 361.3L711.8 364.7L712.7 354.1L713.7 348.0L714.7 354.2L715.6 353.8L716.6 360.2L717.5 344.0L718.5 344.6L719.5 353.6L720.4 358.1L721.4 356.1L722.4 366.6L723.3 358.5L724.3 353.2L725.2 356.5L726.2 358.2L727.2 358.2L728.1 360.4L729.1 359.5L730.1 350.1L731.0 354.7L732.0 351.6L732.9 354.1L733.9 352.8L734.8 366.6L735.8 371.6L736.7 379.3L737.7 368.8L738.6 366.3L739.6 355.9L740.6 357.7L741.5 358.1L742.5 369.2L743.5 370.8L744.4 368.3L745.4 371.9L746.3 363.5L747.3 367.0L748.3 369.4L749.2 378.5L750.2 358.0L751.2 359.0L752.1 366.0L753.1 360.6L754.0 363.0L755.0 358.7L756.0 362.2L756.9 359.5L757.9 361.8L758.8 380.1L759.8 368.5L760.8 373.1L761.7 356.8L762.7 367.5L763.7 363.6L764.6 355.6L765.6 360.2L766.5 359.6L767.5 376.7L768.5 358.8L769.4 362.0L770.4 368.5L771.4 363.9L772.3 358.4L773.3 358.9L774.2 365.3L775.2 375.0L776.2 364.5L777.1 363.6L778.1 368.7L779.0 358.6L780.0 360.1L781.0 365.5L781.9 360.7L782.9 361.3L783.9 364.4L784.8 367.9L785.8 364.6L786.7 364.9L787.7 373.6L788.7 368.4L789.6 364.9L790.6 365.6L791.6 366.3L792.5 362.9L793.5 366.8L794.4 372.2L795.4 369.8L796.4 362.1L797.3 355.4L798.3 359.1L799.3 363.2L800.2 360.9L801.2 372.1L802.1 369.4L803.1 365.8L804.1 355.2L805.0 359.1L806.0 358.2L806.9 352.8L807.9 369.8L808.9 362.5L809.8 363.9L810.8 367.9L811.8 373.9L812.7 373.3L813.7 373.4L814.6 373.6L815.6 371.5L816.6 366.1L817.5 360.6L818.5 369.1L819.5 368.6L820.4 369.3L821.4 358.8L822.3 366.0L823.3 369.8L824.3 365.9L825.2 372.7L826.2 363.2L827.1 360.4L828.1 361.6L829.1 364.7"/>
<path d="M157.6 360.4L158.5 362.9L159.5 369.2L160.4 366.8L161.4 361.1L162.4 366.2L163.3 370.2L164.3 366.1L165.3 371.9L166.2 364.7L167.2 360.8L168.1 375.1L169.1 368.8L170.1 363.2L171.0 360.8L172.0 372.2L173.0 372.8L173.9 377.0L174.9 363.6L175.8 369.2L176.8 359.2L177.8 369.5L178.7 374.6L179.7 382.8L180.7 370.3L181.6 361.8L182.6 355.3L183.5 369.1L184.5 362.4L185.5 364.1L186.4 360.5L187.4 360.2L188.3 367.5L189.3 365.1L190.3 363.9L191.2 359.6L192.2 358.6L193.2 358.0L194.1 374.6L195.1 363.6L196.0 364.1L197.0 365.6L198.0 372.5L198.9 359.8L199.9 375.8L200.9 367.0L201.8 365.9L202.8 376.0L203.7 365.7L204.7 365.5L205.7 356.8L206.6 359.7L207.6 366.0L208.5 365.4L209.5 367.5L210.5 366.5L211.4 373.3L212.4 360.3L213.4 366.2L214.3 362.4L215.3 369.4L216.2 362.1L217.2 368.3L218.2 367.4L219.1 365.1L220.1 370.1L221.1 379.4L222.0 362.9L223.0 367.6L223.9 349.1L224.9 362.9L225.9 356.4L226.8 348.3L227.8 353.7L228.8 364.1L229.7 366.8L230.7 361.7L231.6 367.1L232.6 374.2L233.6 364.9L234.5 356.0L235.5 348.9L236.4 354.6L237.4 360.2L238.4 364.8L239.3 360.7L240.3 365.1L241.3 363.1L242.2 356.2L243.2 364.0L244.1 359.8L245.1 364.0L246.1 368.2L247.0 362.9L248.0 363.3L249.0 368.5L249.9 365.5L250.9 366.4L251.8 370.3L252.8 359.4L253.8 340.0L254.8 361.1L255.8 357.7L256.7 367.6L257.7 363.9L258.7 364.3L259.6 372.1L260.6 362.7L261.6 363.9L262.5 366.9L263.5 366.5L264.4 358.5L265.4 361.1L266.4 360.1L267.3 353.7L268.3 357.3L269.3 367.5L270.2 363.9L271.2 368.0L272.1 366.2L273.1 365.6L274.1 366.4L275.0 365.5L276.0 370.0L277.0 367.6L277.9 366.2L278.9 357.6L279.8 369.2L280.8 366.5L281.8 364.2L282.7 360.9L283.7 359.6L284.6 365.0L285.6 367.7L286.6 362.3L287.5 374.8L288.5 363.3L289.5 365.3L290.4 366.0L291.4 362.2L292.3 367.9L293.3 363.3L294.3 350.7L295.2 362.1L296.2 357.7L297.2 369.1L298.1 357.3L299.1 350.1L300.0 357.7L301.0 372.2L302.0 373.9L302.9 368.5L303.9 366.4L304.8 362.5L305.8 366.5L306.8 363.4L307.7 365.2L308.7 360.4L309.7 366.9L310.6 367.6L311.6 367.2L312.5 359.8L313.5 350.4L314.5 366.7L315.4 372.3L316.4 372.5L317.4 359.3L318.3 369.0L319.3 368.8L320.2 368.1L321.2 366.1L322.2 365.5L323.1 366.5L324.1 369.7L325.1 363.7L326.0 371.1L327.0 356.6L327.9 365.1L328.9 360.2L329.9 365.1L330.8 358.6L331.8 365.5L332.7 360.8L333.7 357.7L334.7 367.0L335.6 363.5L336.6 365.1L337.6 362.5L338.5 362.3L339.5 362.0L340.4 374.6L341.4 356.3L342.4 362.2L343.3 359.6L344.3 359.2L345.3 362.4L346.2 370.9L347.2 356.6L348.1 360.1L349.1 366.7L350.1 365.3L351.0 371.5L352.0 366.6L352.9 363.8L353.9 364.9L354.9 360.9L355.8 367.3L356.8 361.4L357.8 365.4L358.7 365.0L359.7 362.5L360.6 356.7L361.6 359.8L362.6 356.2L363.5 369.0L364.5 368.7L365.5 357.5L366.4 369.2L367.4 365.3L368.3 366.1L369.3 360.4L370.3 350.5L371.2 359.5L372.2 358.7L373.2 358.1L374.1 363.3L375.1 365.9L376.0 359.5L377.0 360.1L378.0 362.0L378.9 359.3L379.9 366.1L380.8 367.7L381.8 368.8L382.8 365.0L383.7 360.7L384.7 361.1L385.7 369.6L386.6 361.0L387.6 353.7L388.5 360.1L389.5 359.4L390.5 364.4L391.4 361.5L392.4 357.8L393.4 365.4L394.3 370.5L395.3 361.6L396.2 357.7L397.2 367.8L398.2 364.4L399.1 364.6L400.1 364.5L401.0 360.8L402.0 358.5L403.0 353.8L403.9 359.6L404.9 367.3L405.9 360.7L406.8 360.3L407.8 362.9L408.7 360.1L409.7 363.0L410.7 358.9L411.6 364.3L412.6 355.5L413.6 359.5L414.5 364.2L415.5 359.6L416.4 364.6L417.4 363.6L418.4 356.1L419.3 359.4L420.3 368.0L421.3 368.8L422.2 354.9L423.2 365.6L424.1 367.7L425.1 353.2L426.1 363.9L427.0 365.7L428.0 360.7L428.9 364.9L429.9 363.4L430.9 357.9L431.8 359.9L432.8 360.3L433.8 361.7L434.7 368.2L435.7 365.9L436.6 368.0L437.6 360.0L438.6 355.0L439.5 360.9L440.5 362.4L441.5 360.7L442.4 359.9L443.4 359.7L444.3 361.8L445.3 366.5L446.3 363.0L447.2 359.6L448.2 347.4L449.1 358.4L450.1 364.9L451.1 358.2L452.0 369.7L453.0 354.4L454.0 358.5L454.9 358.3L455.9 359.1L456.8 359.4L457.8 368.5L458.8 358.3L459.7 364.5L460.7 366.0L461.7 361.8L462.6 362.3L463.6 361.5L464.5 363.3L465.5 363.2L466.5 359.6L467.4 365.7L468.4 372.2L469.4 363.2L470.3 358.7L471.3 364.4L472.2 360.1L473.2 358.1L474.2 358.2L475.1 362.8L476.1 355.4L477.0 361.4L478.0 363.3L479.0 363.7L479.9 362.2L480.9 362.5L481.9 361.6L482.8 360.9L483.8 354.0L484.7 359.2L485.7 366.3L486.7 365.2L487.6 351.3L488.6 348.6L489.6 364.9L490.5 367.5L491.5 366.9L492.4 366.4L493.4 368.3L494.4 359.7L495.3 364.7L496.3 363.0L497.2 360.3L498.2 362.8L499.2 366.6L500.1 365.6L501.1 357.8L502.1 372.0L503.0 353.6L504.0 361.5L504.9 367.5L505.9 360.4L506.9 357.5L507.8 365.4L508.8 363.3L509.8 360.3L510.7 362.8L511.7 376.0L512.6 365.2L513.6 358.8L514.6 363.8L515.5 370.2L516.5 361.5L517.5 372.1L518.4 363.7L519.4 359.6L520.3 371.0L521.3 368.4L522.3 364.4L523.2 364.6L524.2 369.0L525.1 361.4L526.1 373.4L527.1 367.3L528.0 357.9L529.0 364.1L530.0 373.5L530.9 367.2L531.9 370.0L532.8 356.5L533.8 361.0L534.8 365.1L535.7 365.0L536.7 359.8L537.7 359.4L538.6 361.9L539.6 363.3L540.5 364.6L541.5 369.2L542.5 366.8L543.4 358.2L544.4 364.8L545.3 359.2L546.3 351.8L547.3 360.6L548.2 347.9L549.2 359.6L550.2 356.1L551.1 354.8L552.1 361.5L553.0 358.3L554.0 354.7L555.0 368.1L555.9 362.8L556.9 352.8L557.9 364.3L558.8 371.0L559.8 362.8L560.7 366.1L561.7 371.6L562.7 365.9L563.6 363.4L564.6 364.4L565.6 367.0L566.5 362.9L567.5 360.4L568.4 366.3L569.4 374.4L570.4 361.1L571.3 366.9L572.3 365.4L573.2 370.8L574.2 371.3L575.2 363.3L576.1 364.5L577.1 365.8L578.1 357.4L579.0 363.4L580.0 367.5L580.9 367.9L581.9 368.1L582.9 364.1L583.8 360.5L584.8 361.8L585.8 360.3L586.7 360.9L587.7 369.1L588.6 360.3L589.6 363.8L590.6 362.2L591.5 362.2L592.5 364.2L593.4 355.6L594.4 360.3L595.4 366.5L596.3 357.8L597.3 360.9L598.3 357.3L599.2 358.2L600.2 363.0L601.1 358.2L602.1 360.1L603.1 362.6L604.0 360.6L605.0 357.2L606.0 355.8L606.9 360.6L607.9 362.1L608.8 362.6L609.8 361.5L610.8 364.1L611.7 362.4L612.7 360.1L613.7 366.5L614.6 352.9L615.6 351.9L616.5 360.5L617.5 363.1L618.5 361.6L619.4 362.3L620.4 360.8L621.3 355.1L622.3 347.4L623.3 354.4L624.2 361.6L625.2 367.1L626.2 366.4L627.1 359.3L628.1 359.2L629.0 358.6L630.0 360.0L631.0 354.7L631.9 364.1L632.9 358.8L633.9 360.5L634.8 348.7L635.8 358.0L636.7 356.7L637.7 359.6L638.7 359.7L639.6 358.3L640.6 369.0L641.5 362.9L642.5 363.0L643.5 361.7L644.4 365.8L645.4 364.6L646.4 359.3L647.3 363.2L648.3 361.7L649.2 361.0L650.2 365.8L651.2 374.2L652.1 363.5L653.1 354.0L654.1 347.5L655.0 357.9L656.0 362.9L656.9 356.3L657.9 364.1L658.9 375.5L659.8 367.7L660.8 365.8L661.8 357.4L662.7 361.4L663.7 349.2L664.6 358.7L665.6 376.4L666.6 365.3L667.5 358.8L668.5 370.3L669.4 353.5L670.4 363.7L671.4 364.2L672.3 358.9L673.3 358.4L674.3 360.3L675.2 366.2L676.2 362.3L677.1 371.0L678.1 366.5L679.1 362.6L680.0 360.8L681.0 357.3L682.0 370.0L682.9 363.8L683.9 368.5L684.8 358.3L685.8 359.3L686.8 358.1L687.7 358.8L688.7 360.9L689.6 362.9L690.6 357.2L691.6 357.9L692.5 355.1L693.5 356.1L694.5 356.9L695.4 358.9L696.4 364.2L697.3 357.0L698.3 365.0L699.3 360.4L700.2 360.2L701.2 362.1L702.2 363.0L703.1 363.7L704.1 369.0L705.0 360.5L706.0 360.3L707.0 368.1L707.9 362.3L708.9 358.6L709.9 357.6L710.8 360.8L711.8 360.4L712.7 348.1L713.7 362.6L714.7 356.5L715.6 364.2L716.6 366.0L717.5 359.0L718.5 353.3L719.5 368.1L720.4 353.5L721.4 354.4L722.4 358.7L723.3 352.9L724.3 362.6L725.2 360.9L726.2 364.2L727.2 359.0L728.1 364.9L729.1 356.7L730.1 362.8L731.0 351.5L732.0 358.5L732.9 357.1L733.9 363.8L734.8 364.3L735.8 364.7L736.7 363.7L737.7 362.5L738.6 365.5L739.6 372.2L740.6 365.3L741.5 359.6L742.5 366.6L743.5 366.4L744.4 372.5L745.4 367.1L746.3 368.2L747.3 377.9L748.3 360.4L749.2 370.4L750.2 377.5L751.2 369.7L752.1 372.7L753.1 368.0L754.0 365.5L755.0 358.1L756.0 361.1L756.9 361.7L757.9 367.7L758.8 360.2L759.8 365.6L760.8 365.9L761.7 368.3L762.7 363.8L763.7 364.2L764.6 362.1L765.6 367.1L766.5 372.7L767.5 366.2L768.5 360.8L769.4 364.7L770.4 362.0L771.4 364.4L772.3 367.2L773.3 359.2L774.2 358.8L775.2 365.4L776.2 361.2L777.1 364.2L778.1 364.4L779.0 363.0L780.0 363.1L781.0 366.0L781.9 369.0L782.9 360.9L783.9 355.2L784.8 361.3L785.8 367.9L786.7 366.1L787.7 367.2L788.7 361.9L789.6 358.0L790.6 354.5L791.6 364.9L792.5 369.5L793.5 364.5L794.4 360.6L795.4 368.7L796.4 365.0L797.3 361.9L798.3 369.5L799.3 369.3L800.2 361.9L801.2 367.2L802.1 367.8L803.1 369.8L804.1 360.6L805.0 362.5L806.0 365.2L806.9 373.4L807.9 365.1L808.9 374.1L809.8 364.3L810.8 368.0L811.8 367.5L812.7 363.1L813.7 370.3L814.6 362.1L815.6 360.9L816.6 369.6L817.5 371.5L818.5 365.4L819.5 371.5L820.4 365.1L821.4 370.5L822.3 350.3L823.3 363.1L824.3 364.8L825.2 373.4L826.2 366.1L827.1 366.6L828.1 363.0L829.1 363.4"/>
<path d="M157.6 375.4L158.5 364.0L159.5 365.2L160.4 364.9L161.4 362.0L162.4 364.1L163.3 373.4L164.3 369.5L165.3 369.9L166.2 364.2L167.2 364.6L168.1 365.1L169.1 364.4L170.1 356.6L171.0 364.1L172.0 359.4L173.0 380.9L173.9 366.5L174.9 358.6L175.8 355.9L176.8 371.7L177.8 371.6L178.7 373.6L179.7 374.6L180.7 358.5L181.6 371.6L182.6 363.3L183.5 361.5L184.5 363.5L185.5 374.1L186.4 363.9L187.4 363.7L188.3 366.0L189.3 360.4L190.3 360.3L191.2 380.0L192.2 365.8L193.2 359.6L194.1 369.5L195.1 353.4L196.0 365.6L197.0 368.3L198.0 362.7L198.9 371.7L199.9 369.5L200.9 360.7L201.8 361.9L202.8 362.6L203.7 355.9L204.7 369.3L205.7 369.1L206.6 369.8L207.6 368.5L208.5 370.5L209.5 375.6L210.5 363.0L211.4 366.0L212.4 365.3L213.4 373.9L214.3 369.1L215.3 366.9L216.2 369.5L217.2 370.6L218.2 366.1L219.1 366.6L220.1 378.5L221.1 370.3L222.0 377.1L223.0 371.6L223.9 370.3L224.9 367.9L225.9 369.1L226.8 363.0L227.8 369.6L228.8 364.4L229.7 365.6L230.7 374.5L231.6 376.2L232.6 362.9L233.6 352.2L234.5 360.0L235.5 367.1L236.4 369.7L237.4 376.2L238.4 374.6L239.3 367.7L240.3 366.5L241.3 368.7L242.2 360.1L243.2 361.3L244.1 366.7L245.1 368.9L246.1 373.9L247.0 366.1L248.0 367.0L249.0 358.9L249.9 367.3L250.9 368.3L251.8 373.1L252.8 370.0L253.8 340.0L254.8 364.8L255.8 361.6L256.7 363.7L257.7 361.0L258.7 366.2L259.6 364.4L260.6 364.0L261.6 361.5L262.5 362.4L263.5 365.9L264.4 366.2L265.4 366.8L266.4 361.2L267.3 364.9L268.3 359.2L269.3 358.8L270.2 363.4L271.2 362.9L272.1 368.6L273.1 367.8L274.1 366.3L275.0 365.9L276.0 362.6L277.0 365.7L277.9 360.8L278.9 358.1L279.8 355.4L280.8 369.2L281.8 359.6L282.7 367.0L283.7 360.8L284.6 359.9L285.6 362.1L286.6 363.4L287.5 377.2L288.5 363.2L289.5 363.2L290.4 366.2L291.4 361.5L292.3 361.9L293.3 364.6L294.3 364.3L295.2 364.2L296.2 364.1L297.2 363.9L298.1 361.7L299.1 354.9L300.0 361.7L301.0 369.3L302.0 364.8L302.9 369.3L303.9 362.9L304.8 365.4L305.8 363.2L306.8 372.8L307.7 368.7L308.7 356.5L309.7 356.4L310.6 363.7L311.6 363.8L312.5 370.3L313.5 374.1L314.5 359.2L315.4 360.3L316.4 352.2L317.4 352.6L318.3 360.8L319.3 360.4L320.2 365.5L321.2 359.0L322.2 362.9L323.1 364.8L324.1 368.7L325.1 363.5L326.0 362.2L327.0 367.7L327.9 363.1L328.9 366.2L329.9 362.7L330.8 363.4L331.8 357.2L332.7 364.9L333.7 361.8L334.7 356.2L335.6 360.0L336.6 352.6L337.6 370.4L338.5 359.1L339.5 355.4L340.4 360.5L341.4 370.1L342.4 360.0L343.3 359.6L344.3 361.1L345.3 364.0L346.2 358.5L347.2 363.0L348.1 368.2L349.1 367.4L350.1 361.2L351.0 355.2L352.0 364.1L352.9 349.3L353.9 365.7L354.9 368.9L355.8 366.0L356.8 364.6L357.8 360.4L358.7 364.9L359.7 353.1L360.6 362.8L361.6 361.2L362.6 358.8L363.5 361.1L364.5 367.3L365.5 363.7L366.4 364.3L367.4 367.3L368.3 370.2L369.3 361.5L370.3 362.1L371.2 372.4L372.2 364.6L373.2 363.7L374.1 361.1L375.1 357.5L376.0 361.0L377.0 356.0L378.0 359.7L378.9 363.1L379.9 362.7L380.8 372.2L381.8 365.9L382.8 365.1L383.7 361.2L384.7 362.2L385.7 353.1L386.6 355.4L387.6 366.5L388.5 370.8L389.5 363.5L390.5 364.8L391.4 363.3L392.4 367.2L393.4 367.0L394.3 369.7L395.3 358.4L396.2 366.5L397.2 367.5L398.2 364.3L399.1 364.8L400.1 367.4L401.0 357.8L402.0 356.7L403.0 366.8L403.9 367.2L404.9 368.6L405.9 366.4L406.8 367.2L407.8 372.5L408.7 360.7L409.7 361.3L410.7 360.5L411.6 354.3L412.6 362.2L413.6 357.2L414.5 367.8L415.5 365.4L416.4 374.0L417.4 368.2L418.4 365.9L419.3 363.2L420.3 365.2L421.3 364.0L422.2 369.9L423.2 365.7L424.1 357.5L425.1 355.1L426.1 356.4L427.0 361.4L428.0 354.4L428.9 355.9L429.9 363.2L430.9 354.5L431.8 365.8L432.8 371.8L433.8 371.4L434.7 364.2L435.7 367.5L436.6 363.4L437.6 360.3L438.6 350.3L439.5 368.0L440.5 366.3L441.5 367.0L442.4 364.7L443.4 353.0L444.3 361.4L445.3 361.2L446.3 363.1L447.2 361.2L448.2 356.4L449.1 357.7L450.1 359.7L451.1 359.9L452.0 362.7L453.0 363.0L454.0 366.3L454.9 362.3L455.9 370.0L456.8 358.2L457.8 359.8L458.8 363.6L459.7 367.0L460.7 366.8L461.7 365.3L462.6 365.1L463.6 363.8L464.5 370.7L465.5 360.3L466.5 373.6L467.4 373.3L468.4 363.6L469.4 362.7L470.3 362.1L471.3 367.2L472.2 369.5L473.2 365.2L474.2 363.9L475.1 357.3L476.1 361.5L477.0 358.8L478.0 363.1L479.0 363.7L479.9 367.7L480.9 365.2L481.9 366.7L482.8 370.2L483.8 364.9L484.7 357.8L485.7 361.2L486.7 361.9L487.6 368.7L488.6 366.6L489.6 363.7L490.5 361.3L491.5 361.9L492.4 362.3L493.4 362.8L494.4 357.6L495.3 365.3L496.3 367.2L497.2 362.0L498.2 364.6L499.2 363.9L500.1 360.3L501.1 360.5L502.1 357.6L503.0 359.8L504.0 362.4L504.9 363.1L505.9 361.7L506.9 356.3L507.8 366.3L508.8 362.2L509.8 366.5L510.7 356.8L511.7 355.3L512.6 359.3L513.6 357.4L514.6 364.5L515.5 356.6L516.5 357.0L517.5 361.6L518.4 371.4L519.4 368.9L520.3 361.8L521.3 353.4L522.3 354.1L523.2 360.4L524.2 362.3L525.1 369.0L526.1 362.9L527.1 366.6L528.0 368.1L529.0 365.0L530.0 373.5L530.9 365.3L531.9 358.1L532.8 357.9L533.8 358.8L534.8 363.7L535.7 366.6L536.7 361.0L537.7 360.4L538.6 365.9L539.6 366.2L540.5 363.0L541.5 367.6L542.5 362.1L543.4 357.5L544.4 361.0L545.3 364.3L546.3 358.9L547.3 357.6L548.2 356.3L549.2 363.2L550.2 366.9L551.1 359.8L552.1 365.4L553.0 362.9L554.0 363.1L555.0 360.7L555.9 371.0L556.9 365.1L557.9 354.2L558.8 352.0L559.8 360.8L560.7 364.4L561.7 358.2L562.7 354.7L563.6 358.4L564.6 366.4L565.6 366.1L566.5 362.4L567.5 364.7L568.4 373.3L569.4 364.4L570.4 360.3L571.3 367.3L572.3 357.2L573.2 363.2L574.2 358.7L575.2 358.0L576.1 366.5L577.1 360.5L578.1 359.4L579.0 363.3L580.0 357.7L580.9 361.5L581.9 358.7L582.9 351.5L583.8 353.3L584.8 350.5L585.8 365.3L586.7 355.0L587.7 356.3L588.6 347.2L589.6 355.4L590.6 364.7L591.5 360.4L592.5 355.4L593.4 361.7L594.4 365.9L595.4 370.9L596.3 353.1L597.3 360.0L598.3 360.7L599.2 362.0L600.2 360.8L601.1 368.9L602.1 361.8L603.1 362.2L604.0 360.4L605.0 357.8L606.0 362.7L606.9 369.9L607.9 372.7L608.8 366.6L609.8 358.2L610.8 363.6L611.7 368.2L612.7 363.3L613.7 361.2L614.6 363.1L615.6 365.0L616.5 362.7L617.5 364.8L618.5 356.0L619.4 359.5L620.4 357.3L621.3 364.1L622.3 364.7L623.3 361.0L624.2 366.8L625.2 360.6L626.2 359.8L627.1 355.3L628.1 358.1L629.0 361.4L630.0 361.9L631.0 361.7L631.9 364.9L632.9 363.0L633.9 357.0L634.8 356.9L635.8 362.8L636.7 361.2L637.7 361.8L638.7 357.5L639.6 361.4L640.6 352.7L641.5 357.5L642.5 364.5L643.5 360.7L644.4 360.0L645.4 360.6L646.4 358.9L647.3 359.9L648.3 363.8L649.2 364.6L650.2 360.1L651.2 359.9L652.1 357.6L653.1 365.9L654.1 364.2L655.0 365.6L656.0 370.7L656.9 374.1L657.9 362.4L658.9 364.0L659.8 354.6L660.8 367.5L661.8 363.3L662.7 357.1L663.7 363.7L664.6 366.1L665.6 356.6L666.6 365.9L667.5 361.4L668.5 368.8L669.4 376.1L670.4 363.8L671.4 368.7L672.3 363.6L673.3 367.9L674.3 363.9L675.2 366.8L676.2 349.6L677.1 358.2L678.1 364.7L679.1 362.2L680.0 364.7L681.0 363.6L682.0 360.7L682.9 366.6L683.9 367.8L684.8 362.4L685.8 356.4L686.8 362.7L687.7 360.0L688.7 358.8L689.6 353.8L690.6 357.5L691.6 360.3L692.5 367.0L693.5 359.5L694.5 354.0L695.4 359.0L696.4 367.6L697.3 360.3L698.3 353.2L699.3 360.3L700.2 360.6L701.2 356.4L702.2 361.2L703.1 356.5L704.1 369.2L705.0 371.3L706.0 364.5L707.0 365.0L707.9 360.2L708.9 365.5L709.9 368.1L710.8 367.6L711.8 358.8L712.7 362.5L713.7 362.2L714.7 358.1L715.6 355.1L716.6 362.4L717.5 365.2L718.5 360.8L719.5 366.0L720.4 364.2L721.4 362.2L722.4 363.6L723.3 355.2L724.3 359.8L725.2 362.2L726.2 355.5L727.2 360.9L728.1 367.4L729.1 362.1L730.1 361.3L731.0 365.0L732.0 366.3L732.9 360.8L733.9 370.0L734.8 363.5L735.8 370.4L736.7 363.0L737.7 358.9L738.6 368.7L739.6 350.1L740.6 363.9L741.5 365.1L742.5 364.0L743.5 369.9L744.4 370.4L745.4 364.8L746.3 359.9L747.3 367.5L748.3 364.2L749.2 367.4L750.2 362.2L751.2 366.2L752.1 367.0L753.1 370.9L754.0 368.5L755.0 368.4L756.0 368.2L756.9 363.7L757.9 367.4L758.8 371.3L759.8 364.4L760.8 368.1L761.7 359.2L762.7 366.1L763.7 363.7L764.6 369.4L765.6 375.9L766.5 360.6L767.5 357.6L768.5 364.0L769.4 360.9L770.4 362.5L771.4 356.5L772.3 355.9L773.3 359.6L774.2 365.9L775.2 367.9L776.2 364.8L777.1 366.0L778.1 365.5L779.0 358.5L780.0 368.2L781.0 357.8L781.9 376.4L782.9 364.8L783.9 366.8L784.8 361.0L785.8 362.9L786.7 378.5L787.7 368.7L788.7 367.3L789.6 366.2L790.6 365.9L791.6 363.7L792.5 365.1L793.5 365.1L794.4 362.1L795.4 367.5L796.4 362.9L797.3 354.2L798.3 357.9L799.3 349.9L800.2 361.7L801.2 366.7L802.1 360.0L803.1 359.2L804.1 362.0L805.0 360.1L806.0 362.0L806.9 361.1L807.9 363.9L808.9 367.4L809.8 361.3L810.8 359.9L811.8 356.6L812.7 350.2L813.7 358.5L814.6 360.9L815.6 363.1L816.6 360.5L817.5 351.2L818.5 351.9L819.5 354.8L820.4 357.5L821.4 359.4L822.3 355.2L823.3 366.3L824.3 366.1L825.2 359.7L826.2 360.3L827.1 371.4L828.1 360.3L829.1 346.7"/>
<path d="M157.6 357.0L158.5 364.2L159.5 362.6L160.4 360.5L161.4 357.6L162.4 364.4L163.3 359.4L164.3 360.6L165.3 366.6L166.2 373.0L167.2 366.5L168.1 362.2L169.1 370.0L170.1 362.4L171.0 369.4L172.0 360.8L173.0 358.6L173.9 366.1L174.9 376.6L175.8 364.2L176.8 369.5L177.8 361.7L178.7 363.0L179.7 362.6L180.7 373.6L181.6 379.8L182.6 366.3L183.5 364.4L184.5 371.3L185.5 372.2L186.4 363.9L187.4 367.6L188.3 371.9L189.3 366.7L190.3 353.6L191.2 363.4L192.2 369.3L193.2 377.3L194.1 370.1L195.1 367.7L196.0 365.1L197.0 374.6L198.0 360.4L198.9 370.7L199.9 368.2L200.9 356.8L201.8 362.7L202.8 358.5L203.7 356.5L204.7 364.0L205.7 375.0L206.6 368.2L207.6 367.5L208.5 374.0L209.5 363.7L210.5 363.7L211.4 361.7L212.4 366.0L213.4 370.1L214.3 366.8L215.3 363.4L216.2 355.1L217.2 362.8L218.2 373.9L219.1 365.7L220.1 365.0L221.1 363.2L222.0 372.4L223.0 368.7L223.9 371.8L224.9 363.6L225.9 367.3L226.8 364.2L227.8 370.1L228.8 365.3L229.7 369.5L230.7 362.3L231.6 361.3L232.6 374.2L233.6 365.0L234.5 365.6L235.5 375.3L236.4 361.2L237.4 367.0L238.4 367.3L239.3 374.5L240.3 368.9L241.3 369.5L242.2 368.6L243.2 368.2L244.1 362.6L245.1 371.7L246.1 367.8L247.0 358.4L248.0 359.5L249.0 362.2L249.9 370.6L250.9 363.3L251.8 362.1L252.8 360.9L253.8 340.0L254.8 367.1L255.8 373.3L256.7 368.4L257.7 362.6L258.7 360.2L259.6 358.9L260.6 359.6L261.6 365.6L262.5 364.7L263.5 362.9L264.4 371.2L265.4 363.4L266.4 361.9L267.3 365.0L268.3 374.3L269.3 367.7L270.2 361.5L271.2 368.6L272.1 364.5L273.1 356.2L274.1 353.7L275.0 361.6L276.0 357.3L277.0 359.2L277.9 359.7L278.9 363.7L279.8 360.4L280.8 361.7L281.8 357.0L282.7 371.0L283.7 364.0L284.6 353.0L285.6 359.2L286.6 357.7L287.5 361.0L288.5 366.9L289.5 367.6L290.4 367.5L291.4 361.9L292.3 364.2L293.3 360.9L294.3 364.3L295.2 369.0L296.2 371.8L297.2 371.9L298.1 360.6L299.1 365.7L300.0 363.8L301.0 372.3L302.0 369.4L302.9 371.1L303.9 364.2L304.8 365.5L305.8 366.6L306.8 362.3L307.7 370.0L308.7 370.1L309.7 361.5L310.6 361.6L311.6 363.6L312.5 362.6L313.5 367.3L314.5 364.2L315.4 360.9L316.4 365.0L317.4 364.2L318.3 360.7L319.3 368.3L320.2 366.4L321.2 364.7L322.2 362.4L323.1 371.3L324.1 360.6L325.1 365.3L326.0 367.8L327.0 370.0L327.9 365.2L328.9 365.4L329.9 367.7L330.8 361.0L331.8 360.1L332.7 355.9L333.7 365.8L334.7 364.9L335.6 361.9L336.6 367.5L337.6 361.8L338.5 359.6L339.5 363.2L340.4 364.9L341.4 364.0L342.4 374.4L343.3 369.0L344.3 365.0L345.3 353.9L346.2 358.6L347.2 368.5L348.1 376.3L349.1 367.7L350.1 367.7L351.0 367.6L352.0 362.8L352.9 366.0L353.9 362.3L354.9 362.0L355.8 365.1L356.8 359.2L357.8 372.8L358.7 366.8L359.7 368.3L360.6 365.3L361.6 364.7L362.6 366.7L363.5 364.3L364.5 363.9L365.5 371.3L366.4 357.4L367.4 359.5L368.3 352.1L369.3 360.8L370.3 371.8L371.2 369.2L372.2 373.2L373.2 363.3L374.1 357.8L375.1 360.4L376.0 363.1L377.0 368.0L378.0 365.6L378.9 364.0L379.9 364.3L380.8 361.4L381.8 369.1L382.8 367.5L383.7 367.0L384.7 361.7L385.7 357.6L386.6 358.3L387.6 365.3L388.5 367.5L389.5 359.1L390.5 360.6L391.4 368.6L392.4 359.8L393.4 353.3L394.3 355.4L395.3 367.6L396.2 366.0L397.2 369.5L398.2 364.2L399.1 368.2L400.1 364.8L401.0 364.0L402.0 359.1L403.0 362.0L403.9 378.0L404.9 369.7L405.9 370.2L406.8 366.7L407.8 365.8L408.7 357.5L409.7 360.9L410.7 363.1L411.6 365.1L412.6 372.5L413.6 364.2L414.5 367.3L415.5 366.9L416.4 360.0L417.4 360.7L418.4 362.6L419.3 370.9L420.3 365.6L421.3 376.2L422.2 361.6L423.2 359.1L424.1 360.4L425.1 362.7L426.1 360.6L427.0 362.8L428.0 359.3L428.9 360.1L429.9 363.2L430.9 366.8L431.8 361.6L432.8 363.2L433.8 356.0L434.7 363.7L435.7 369.4L436.6 362.6L437.6 363.0L438.6 368.9L439.5 369.2L440.5 372.4L441.5 366.3L442.4 359.4L443.4 364.7L444.3 363.2L445.3 363.6L446.3 362.7L447.2 367.9L448.2 357.8L449.1 365.7L450.1 368.7L451.1 368.1L452.0 359.7L453.0 362.3L454.0 370.3L454.9 368.5L455.9 362.2L456.8 363.6L457.8 370.7L458.8 355.4L459.7 359.5L460.7 367.8L461.7 362.5L462.6 362.3L463.6 361.1L464.5 363.4L465.5 363.4L466.5 372.6L467.4 371.3L468.4 360.3L469.4 360.6L470.3 372.8L471.3 369.4L472.2 360.6L473.2 366.4L474.2 354.7L475.1 366.7L476.1 368.9L477.0 364.8L478.0 366.8L479.0 361.7L479.9 366.1L480.9 357.0L481.9 360.0L482.8 364.1L483.8 364.5L484.7 353.2L485.7 364.7L486.7 368.2L487.6 365.0L488.6 370.8L489.6 370.5L490.5 366.3L491.5 364.0L492.4 363.2L493.4 359.7L494.4 365.7L495.3 363.0L496.3 368.4L497.2 368.7L498.2 370.1L499.2 369.0L500.1 363.9L501.1 361.5L502.1 371.1L503.0 362.9L504.0 361.1L504.9 364.5L505.9 370.0L506.9 373.3L507.8 357.9L508.8 357.7L509.8 362.8L510.7 357.6L511.7 354.1L512.6 370.1L513.6 367.2L514.6 363.9L515.5 360.5L516.5 354.9L517.5 351.8L518.4 363.5L519.4 361.6L520.3 363.8L521.3 362.5L522.3 360.8L523.2 362.1L524.2 351.0L525.1 365.8L526.1 368.6L527.1 364.3L528.0 371.2L529.0 366.5L530.0 356.8L530.9 365.1L531.9 355.2L532.8 369.3L533.8 361.7L534.8 366.0L535.7 362.8L536.7 363.4L537.7 356.0L538.6 364.9L539.6 359.3L540.5 360.6L541.5 360.0L542.5 355.9L543.4 357.6L544.4 365.4L545.3 362.4L546.3 365.5L547.3 363.7L548.2 360.2L549.2 361.4L550.2 359.6L551.1 355.5L552.1 371.3L553.0 364.2L554.0 366.6L555.0 359.5L555.9 366.0L556.9 365.3L557.9 364.5L558.8 357.8L559.8 358.5L560.7 364.3L561.7 357.1L562.7 358.5L563.6 361.1L564.6 362.8L565.6 358.9L566.5 366.4L567.5 365.4L568.4 362.7L569.4 375.8L570.4 364.1L571.3 362.9L572.3 361.0L573.2 362.6L574.2 359.8L575.2 364.5L576.1 360.4L577.1 359.3L578.1 361.4L579.0 368.2L580.0 360.8L580.9 366.7L581.9 363.0L582.9 364.6L583.8 362.4L584.8 363.9L585.8 367.6L586.7 360.0L587.7 363.5L588.6 369.9L589.6 364.4L590.6 360.9L591.5 374.0L592.5 360.5L593.4 366.0L594.4 359.6L595.4 362.5L596.3 362.2L597.3 370.9L598.3 368.7L599.2 355.5L600.2 366.5L601.1 362.8L602.1 366.0L603.1 362.7L604.0 369.1L605.0 369.5L606.0 364.5L606.9 366.3L607.9 363.4L608.8 362.6L609.8 355.0L610.8 365.8L611.7 362.7L612.7 358.0L613.7 363.9L614.6 364.0L615.6 361.9L616.5 363.4L617.5 362.2L618.5 359.8L619.4 357.6L620.4 362.6L621.3 362.7L622.3 365.0L623.3 363.6L624.2 362.4L625.2 363.9L626.2 361.5L627.1 361.9L628.1 361.0L629.0 360.7L630.0 362.2L631.0 359.1L631.9 359.5L632.9 354.8L633.9 364.1L634.8 361.1L635.8 363.1L636.7 364.3L637.7 363.3L638.7 357.1L639.6 354.7L640.6 359.0L641.5 371.3L642.5 369.2L643.5 364.0L644.4 367.7L645.4 364.3L646.4 359.4L647.3 362.3L648.3 359.6L649.2 364.7L650.2 366.4L651.2 362.5L652.1 353.5L653.1 366.0L654.1 363.7L655.0 363.1L656.0 361.7L656.9 357.9L657.9 360.2L658.9 354.7L659.8 355.6L660.8 357.9L661.8 354.9L662.7 371.5L663.7 362.9L664.6 365.1L665.6 365.0L666.6 368.3L667.5 363.2L668.5 364.5L669.4 366.4L670.4 363.3L671.4 366.1L672.3 366.0L673.3 365.0L674.3 355.0L675.2 362.9L676.2 365.8L677.1 362.9L678.1 357.6L679.1 358.5L680.0 367.3L681.0 372.4L682.0 368.6L682.9 359.1L683.9 359.7L684.8 363.6L685.8 363.3L686.8 362.8L687.7 361.3L688.7 360.8L689.6 359.3L690.6 363.1L691.6 371.5L692.5 364.7L693.5 363.2L694.5 368.2L695.4 370.6L696.4 367.1L697.3 366.4L698.3 364.8L699.3 360.7L700.2 366.2L701.2 364.5L702.2 361.6L703.1 363.2L704.1 362.6L705.0 365.4L706.0 360.9L707.0 365.4L707.9 372.8L708.9 354.8L709.9 366.7L710.8 377.6L711.8 369.6L712.7 359.2L713.7 364.5L714.7 360.7L715.6 363.0L716.6 359.9L717.5 362.0L718.5 365.0L719.5 361.4L720.4 365.9L721.4 365.4L722.4 351.7L723.3 354.8L724.3 369.8L725.2 371.9L726.2 361.6L727.2 365.3L728.1 360.5L729.1 362.7L730.1 358.4L731.0 361.3L732.0 367.5L732.9 364.9L733.9 357.0L734.8 362.7L735.8 373.3L736.7 366.8L737.7 360.3L738.6 357.6L739.6 360.3L740.6 359.5L741.5 363.3L742.5 366.0L743.5 360.4L744.4 371.9L745.4 378.0L746.3 368.8L747.3 361.8L748.3 365.0L749.2 367.1L750.2 362.8L751.2 352.9L752.1 357.4L753.1 364.3L754.0 364.3L755.0 370.9L756.0 369.4L756.9 370.8L757.9 365.9L758.8 373.1L759.8 368.0L760.8 363.8L761.7 358.3L762.7 362.2L763.7 361.4L764.6 352.0L765.6 361.4L766.5 356.3L767.5 360.5L768.5 360.3L769.4 363.5L770.4 360.7L771.4 363.1L772.3 362.9L773.3 346.6L774.2 351.0L775.2 359.7L776.2 364.4L777.1 364.3L778.1 356.6L779.0 367.1L780.0 370.6L781.0 364.6L781.9 369.1L782.9 362.3L783.9 362.9L784.8 361.1L785.8 361.9L786.7 365.1L787.7 367.7L788.7 365.8L789.6 363.2L790.6 360.5L791.6 366.7L792.5 360.4L793.5 365.9L794.4 377.5L795.4 360.8L796.4 364.3L797.3 365.2L798.3 373.4L799.3 360.4L800.2 365.1L801.2 353.1L802.1 359.0L803.1 367.7L804.1 363.4L805.0 361.8L806.0 364.3L806.9 360.0L807.9 356.8L808.9 361.3L809.8 360.0L810.8 360.8L811.8 355.8L812.7 355.9L813.7 362.1L814.6 364.9L815.6 360.1L816.6 361.8L817.5 360.2L818.5 358.0L819.5 356.9L820.4 361.5L821.4 364.7L822.3 359.7L823.3 354.7L824.3 360.4L825.2 358.5L826.2 361.8L827.1 358.2L828.1 361.2L829.1 357.8"/>
<path d="M157.6 357.7L158.5 359.1L159.5 359.0L160.4 357.9L161.4 361.7L162.4 366.3L163.3 359.6L164.3 364.9L165.3 357.2L166.2 363.7L167.2 378.2L168.1 361.6L169.1 356.3L170.1 366.9L171.0 364.4L172.0 361.6L173.0 361.4L173.9 364.1L174.9 364.5L175.8 361.2L176.8 363.3L177.8 357.6L178.7 357.3L179.7 369.7L180.7 372.2L181.6 370.8L182.6 370.7L183.5 370.0L184.5 370.8L185.5 373.0L186.4 372.3L187.4 372.1L188.3 366.0L189.3 370.4L190.3 367.4L191.2 368.0L192.2 358.0L193.2 367.6L194.1 373.5L195.1 377.6L196.0 369.7L197.0 361.6L198.0 369.8L198.9 367.0L199.9 366.0L200.9 366.9L201.8 368.1L202.8 374.3L203.7 367.4L204.7 374.2L205.7 372.3L206.6 372.6L207.6 370.6L208.5 368.4L209.5 363.6L210.5 358.4L211.4 361.8L212.4 365.2L213.4 365.8L214.3 360.2L215.3 364.2L216.2 371.9L217.2 356.3L218.2 358.2L219.1 367.4L220.1 369.7L221.1 361.9L222.0 372.8L223.0 366.0L223.9 367.7L224.9 370.0L225.9 361.4L226.8 366.5L227.8 363.1L228.8 353.0L229.7 368.4L230.7 362.3L231.6 366.2L232.6 366.1L233.6 370.4L234.5 370.1L235.5 362.5L236.4 363.5L237.4 363.6L238.4 361.9L239.3 362.5L240.3 359.3L241.3 370.8L242.2 365.9L243.2 370.2L244.1 363.4L245.1 360.1L246.1 363.6L247.0 365.0L248.0 365.1L249.0 366.1L249.9 371.7L250.9 366.4L251.8 373.8L252.8 367.0L253.8 340.0L254.8 363.5L255.8 375.0L256.7 368.0L257.7 362.0L258.7 358.8L259.6 365.5L260.6 371.2L261.6 369.2L262.5 370.6L263.5 370.3L264.4 359.6L265.4 364.0L266.4 362.7L267.3 363.3L268.3 366.9L269.3 363.9L270.2 369.7L271.2 367.8L272.1 370.6L273.1 368.2L274.1 369.6L275.0 359.7L276.0 366.7L277.0 361.9L277.9 368.4L278.9 365.4L279.8 361.0L280.8 371.3L281.8 371.7L282.7 376.2L283.7 370.5L284.6 357.8L285.6 355.1L286.6 362.7L287.5 363.7L288.5 368.6L289.5 371.3L290.4 370.4L291.4 370.2L292.3 371.2L293.3 365.6L294.3 364.7L295.2 363.0L296.2 369.8L297.2 365.9L298.1 363.1L299.1 364.3L300.0 372.1L301.0 369.4L302.0 365.3L302.9 363.5L303.9 358.5L304.8 366.2L305.8 359.3L306.8 360.2L307.7 363.9L308.7 358.3L309.7 368.0L310.6 368.5L311.6 358.6L312.5 363.9L313.5 362.6L314.5 366.4L315.4 367.6L316.4 366.0L317.4 363.9L318.3 371.5L319.3 359.4L320.2 364.0L321.2 375.7L322.2 365.8L323.1 360.9L324.1 375.0L325.1 369.6L326.0 366.4L327.0 368.0L327.9 368.9L328.9 359.0L329.9 367.0L330.8 364.3L331.8 366.0L332.7 366.8L333.7 361.2L334.7 366.7L335.6 356.3L336.6 352.8L337.6 361.4L338.5 369.8L339.5 370.5L340.4 373.2L341.4 374.8L342.4 370.1L343.3 380.2L344.3 367.5L345.3 368.0L346.2 376.0L347.2 365.6L348.1 373.9L349.1 354.5L350.1 365.7L351.0 367.5L352.0 365.9L352.9 375.0L353.9 370.2L354.9 364.8L355.8 360.8L356.8 363.4L357.8 359.5L358.7 360.4L359.7 357.4L360.6 359.2L361.6 361.3L362.6 364.0L363.5 363.7L364.5 366.7L365.5 357.8L366.4 352.6L367.4 365.7L368.3 365.5L369.3 364.7L370.3 372.8L371.2 365.2L372.2 364.8L373.2 365.9L374.1 367.5L375.1 371.0L376.0 375.7L377.0 366.9L378.0 368.4L378.9 358.8L379.9 366.1L380.8 369.1L381.8 369.4L382.8 369.3L383.7 366.5L384.7 364.6L385.7 362.9L386.6 361.3L387.6 358.0L388.5 368.0L389.5 368.5L390.5 368.9L391.4 364.2L392.4 364.6L393.4 367.4L394.3 361.8L395.3 371.7L396.2 369.1L397.2 366.7L398.2 367.4L399.1 371.4L400.1 368.2L401.0 360.7L402.0 369.9L403.0 364.3L403.9 365.2L404.9 368.1L405.9 367.2L406.8 361.2L407.8 369.2L408.7 365.3L409.7 368.8L410.7 364.4L411.6 359.0L412.6 369.7L413.6 361.9L414.5 366.4L415.5 362.5L416.4 364.1L417.4 373.2L418.4 357.4L419.3 369.4L420.3 363.9L421.3 363.5L422.2 361.1L423.2 355.9L424.1 366.3L425.1 369.6L426.1 367.4L427.0 378.0L428.0 365.9L428.9 362.8L429.9 364.1L430.9 365.8L431.8 355.6L432.8 364.4L433.8 375.4L434.7 367.0L435.7 360.5L436.6 360.6L437.6 366.0L438.6 358.5L439.5 359.1L440.5 363.9L441.5 369.1L442.4 361.2L443.4 365.2L444.3 365.0L445.3 374.9L446.3 375.2L447.2 365.4L448.2 367.8L449.1 362.8L450.1 366.7L451.1 360.6L452.0 360.4L453.0 363.8L454.0 363.5L454.9 365.7L455.9 368.7L456.8 367.5L457.8 375.4L458.8 363.7L459.7 371.2L460.7 363.8L461.7 370.3L462.6 359.7L463.6 361.5L464.5 362.9L465.5 359.7L466.5 360.4L467.4 362.0L468.4 366.2L469.4 365.4L470.3 366.5L471.3 364.3L472.2 360.5L473.2 370.3L474.2 362.6L475.1 363.5L476.1 370.5L477.0 363.2L478.0 355.1L479.0 364.8L479.9 363.9L480.9 366.3L481.9 371.0L482.8 373.7L483.8 366.1L484.7 359.9L485.7 369.0L486.7 376.0L487.6 369.2L488.6 362.4L489.6 361.0L490.5 367.6L491.5 366.0L492.4 367.0L493.4 360.5L494.4 360.4L495.3 361.7L496.3 364.7L497.2 370.0L498.2 371.4L499.2 361.5L500.1 366.3L501.1 364.3L502.1 372.4L503.0 365.0L504.0 361.3L504.9 371.1L505.9 371.3L506.9 368.9L507.8 355.3L508.8 361.3L509.8 366.5L510.7 369.5L511.7 362.9L512.6 362.6L513.6 373.3L514.6 361.3L515.5 351.1L516.5 361.1L517.5 378.2L518.4 363.6L519.4 363.4L520.3 365.3L521.3 360.3L522.3 361.5L523.2 373.1L524.2 363.2L525.1 364.7L526.1 369.0L527.1 367.6L528.0 367.0L529.0 367.9L530.0 360.3L530.9 368.3L531.9 370.5L532.8 363.9L533.8 377.9L534.8 364.1L535.7 368.5L536.7 371.3L537.7 367.1L538.6 358.5L539.6 366.9L540.5 367.0L541.5 357.4L542.5 364.4L543.4 377.4L544.4 364.8L545.3 366.8L546.3 364.2L547.3 363.1L548.2 368.6L549.2 362.9L550.2 369.7L551.1 365.3L552.1 367.7L553.0 362.1L554.0 358.2L555.0 359.4L555.9 363.5L556.9 366.9L557.9 364.4L558.8 360.4L559.8 358.6L560.7 363.9L561.7 362.2L562.7 361.1L563.6 365.9L564.6 358.6L565.6 361.3L566.5 362.1L567.5 364.8L568.4 366.9L569.4 365.4L570.4 360.4L571.3 372.4L572.3 363.0L573.2 368.1L574.2 365.6L575.2 365.0L576.1 365.2L577.1 363.6L578.1 366.6L579.0 365.0L580.0 359.8L580.9 359.7L581.9 360.1L582.9 364.4L583.8 362.9L584.8 361.1L585.8 364.4L586.7 363.6L587.7 361.4L588.6 363.3L589.6 368.8L590.6 359.2L591.5 367.5L592.5 358.8L593.4 361.4L594.4 370.5L595.4 361.4L596.3 359.1L597.3 363.5L598.3 367.1L599.2 365.5L600.2 363.2L601.1 359.7L602.1 366.3L603.1 365.2L604.0 365.1L605.0 368.7L606.0 363.2L606.9 366.0L607.9 362.0L608.8 364.2L609.8 367.5L610.8 363.6L611.7 366.9L612.7 370.6L613.7 366.8L614.6 365.5L615.6 361.9L616.5 371.5L617.5 360.9L618.5 364.7L619.4 368.9L620.4 370.6L621.3 362.3L622.3 363.4L623.3 360.7L624.2 365.4L625.2 370.1L626.2 368.1L627.1 362.3L628.1 356.0L629.0 359.8L630.0 373.0L631.0 371.6L631.9 358.3L632.9 370.9L633.9 370.2L634.8 369.6L635.8 366.8L636.7 360.0L637.7 368.2L638.7 362.3L639.6 360.9L640.6 363.1L641.5 358.5L642.5 360.7L643.5 359.1L644.4 358.2L645.4 358.8L646.4 355.1L647.3 359.6L648.3 361.6L649.2 363.5L650.2 358.8L651.2 362.0L652.1 356.2L653.1 357.1L654.1 364.8L655.0 354.5L656.0 360.6L656.9 368.4L657.9 363.6L658.9 361.0L659.8 362.8L660.8 365.6L661.8 364.1L662.7 366.9L663.7 358.9L664.6 357.2L665.6 356.4L666.6 364.2L667.5 365.9L668.5 363.9L669.4 368.0L670.4 365.5L671.4 366.9L672.3 364.3L673.3 359.0L674.3 355.7L675.2 361.8L676.2 364.5L677.1 373.8L678.1 365.9L679.1 363.6L680.0 363.4L681.0 362.8L682.0 360.3L682.9 369.6L683.9 366.0L684.8 360.1L685.8 365.6L686.8 362.6L687.7 364.4L688.7 361.6L689.6 362.9L690.6 364.0L691.6 367.2L692.5 363.0L693.5 359.8L694.5 368.0L695.4 362.6L696.4 359.6L697.3 349.5L698.3 364.8L699.3 359.0L700.2 364.0L701.2 364.8L702.2 364.5L703.1 366.7L704.1 361.3L705.0 366.2L706.0 363.8L707.0 360.1L707.9 357.9L708.9 366.5L709.9 370.2L710.8 359.5L711.8 367.3L712.7 362.8L713.7 364.9L714.7 370.1L715.6 377.4L716.6 361.9L717.5 365.9L718.5 374.0L719.5 362.4L720.4 372.2L721.4 365.0L722.4 362.4L723.3 360.7L724.3 367.4L725.2 365.2L726.2 370.9L727.2 357.0L728.1 361.5L729.1 359.8L730.1 366.7L731.0 366.5L732.0 361.8L732.9 370.7L733.9 356.1L734.8 361.9L735.8 367.1L736.7 364.4L737.7 364.9L738.6 365.9L739.6 366.1L740.6 349.2L741.5 363.7L742.5 363.2L743.5 359.3L744.4 355.1L745.4 362.2L746.3 367.1L747.3 357.5L748.3 346.6L749.2 355.3L750.2 360.5L751.2 357.3L752.1 367.3L753.1 368.4L754.0 366.3L755.0 368.0L756.0 361.4L756.9 357.9L757.9 353.6L758.8 365.2L759.8 362.8L760.8 362.2L761.7 367.4L762.7 363.2L763.7 354.3L764.6 359.1L765.6 354.5L766.5 358.5L767.5 359.2L768.5 357.9L769.4 369.4L770.4 356.5L771.4 361.8L772.3 349.3L773.3 354.6L774.2 360.2L775.2 360.4L776.2 363.9L777.1 362.5L778.1 361.9L779.0 361.3L780.0 362.9L781.0 359.3L781.9 358.1L782.9 358.1L783.9 361.7L784.8 363.9L785.8 362.4L786.7 370.0L787.7 367.5L788.7 370.8L789.6 363.6L790.6 356.9L791.6 358.5L792.5 362.6L793.5 355.8L794.4 359.7L795.4 366.4L796.4 368.3L797.3 371.8L798.3 348.4L799.3 350.7L800.2 354.5L801.2 365.4L802.1 350.3L803.1 366.5L804.1 358.9L805.0 364.2L806.0 358.4L806.9 363.4L807.9 360.5L808.9 352.5L809.8 359.3L810.8 358.6L811.8 360.8L812.7 357.9L813.7 350.4L814.6 359.6L815.6 349.3L816.6 376.7L817.5 369.1L818.5 361.6L819.5 357.1L820.4 370.9L821.4 370.8L822.3 362.3L823.3 358.3L824.3 359.8L825.2 371.1L826.2 361.7L827.1 361.3L828.1 354.4L829.1 357.6"/>
<path d="M157.6 376.0L158.5 366.7L159.5 373.2L160.4 370.3L161.4 361.9L162.4 382.8L163.3 376.7L164.3 359.3L165.3 365.7L166.2 358.4L167.2 362.7L168.1 357.2L169.1 357.3L170.1 363.0L171.0 364.6L172.0 373.8L173.0 360.5L173.9 363.0L174.9 354.1L175.8 365.0L176.8 365.4L177.8 365.6L178.7 360.2L179.7 367.8L180.7 365.2L181.6 366.7L182.6 361.5L183.5 352.8L184.5 354.5L185.5 355.5L186.4 362.5L187.4 371.1L188.3 377.9L189.3 354.6L190.3 356.0L191.2 356.0L192.2 362.5L193.2 359.1L194.1 366.6L195.1 374.9L196.0 361.6L197.0 367.0L198.0 362.7L198.9 352.1L199.9 372.6L200.9 367.3L201.8 363.4L202.8 362.5L203.7 359.4L204.7 367.4L205.7 364.8L206.6 347.7L207.6 360.2L208.5 368.0L209.5 366.0L210.5 365.9L211.4 366.3L212.4 369.3L213.4 362.0L214.3 365.4L215.3 358.5L216.2 367.0L217.2 365.9L218.2 359.6L219.1 362.8L220.1 365.5L221.1 367.0L222.0 352.4L223.0 364.7L223.9 358.9L224.9 368.0L225.9 353.1L226.8 365.2L227.8 358.4L228.8 351.6L229.7 358.8L230.7 367.6L231.6 367.2L232.6 364.3L233.6 361.4L234.5 365.3L235.5 364.2L236.4 358.4L237.4 368.5L238.4 362.4L239.3 375.3L240.3 371.8L241.3 365.8L242.2 364.2L243.2 373.9L244.1 362.5L245.1 369.0L246.1 368.1L247.0 370.2L248.0 369.6L249.0 375.4L249.9 377.0L250.9 366.0L251.8 371.9L252.8 370.8L253.8 340.0L254.8 370.0L255.8 364.1L256.7 369.7L257.7 371.6L258.7 369.8L259.6 377.3L260.6 366.5L261.6 364.8L262.5 372.8L263.5 366.4L264.4 353.4L265.4 360.9L266.4 379.2L267.3 368.1L268.3 368.3L269.3 364.1L270.2 355.6L271.2 361.1L272.1 361.9L273.1 366.8L274.1 366.4L275.0 362.7L276.0 366.4L277.0 366.5L277.9 370.0L278.9 366.0L279.8 369.9L280.8 368.7L281.8 371.0L282.7 366.6L283.7 376.3L284.6 370.6L285.6 371.2L286.6 354.9L287.5 369.9L288.5 371.2L289.5 366.1L290.4 360.7L291.4 367.0L292.3 365.8L293.3 366.0L294.3 359.9L295.2 364.1L296.2 365.2L297.2 367.7L298.1 367.7L299.1 370.6L300.0 372.5L301.0 369.5L302.0 365.4L302.9 365.8L303.9 359.9L304.8 353.9L305.8 368.2L306.8 372.7L307.7 372.8L308.7 371.4L309.7 366.4L310.6 368.2L311.6 368.2L312.5 365.6L313.5 367.5L314.5 364.9L315.4 372.5L316.4 365.9L317.4 361.5L318.3 365.6L319.3 365.2L320.2 364.9L321.2 367.6L322.2 369.3L323.1 368.2L324.1 361.8L325.1 356.1L326.0 361.1L327.0 365.9L327.9 365.5L328.9 364.6L329.9 359.2L330.8 374.4L331.8 366.8L332.7 361.6L333.7 367.0L334.7 359.8L335.6 368.0L336.6 370.4L337.6 359.9L338.5 368.0L339.5 366.3L340.4 367.5L341.4 369.8L342.4 363.5L343.3 366.0L344.3 367.3L345.3 365.9L346.2 367.3L347.2 365.8L348.1 365.9L349.1 366.2L350.1 361.1L351.0 369.8L352.0 375.1L352.9 367.5L353.9 363.6L354.9 357.8L355.8 367.8L356.8 364.3L357.8 372.4L358.7 364.3L359.7 361.3L360.6 362.3L361.6 365.4L362.6 364.9L363.5 368.0L364.5 362.1L365.5 358.9L366.4 365.0L367.4 371.0L368.3 369.7L369.3 372.8L370.3 362.8L371.2 368.0L372.2 366.5L373.2 360.1L374.1 372.2L375.1 370.2L376.0 366.5L377.0 368.3L378.0 363.1L378.9 361.9L379.9 368.5L380.8 363.1L381.8 365.5L382.8 365.8L383.7 368.6L384.7 360.7L385.7 367.4L386.6 366.0L387.6 364.0L388.5 365.7L389.5 363.2L390.5 358.0L391.4 369.6L392.4 367.2L393.4 362.1L394.3 362.5L395.3 363.1L396.2 365.2L397.2 366.6L398.2 363.6L399.1 360.0L400.1 375.3L401.0 376.2L402.0 358.1L403.0 358.9L403.9 368.5L404.9 360.0L405.9 363.2L406.8 363.7L407.8 366.6L408.7 359.7L409.7 367.2L410.7 365.4L411.6 365.7L412.6 366.1L413.6 365.4L414.5 360.3L415.5 369.0L416.4 359.7L417.4 366.5L418.4 359.7L419.3 355.1L420.3 364.0L421.3 361.5L422.2 361.4L423.2 367.0L424.1 364.8L425.1 356.8L426.1 363.0L427.0 362.2L428.0 371.1L428.9 361.7L429.9 359.7L430.9 369.5L431.8 359.8L432.8 356.8L433.8 362.6L434.7 364.3L435.7 366.8L436.6 362.2L437.6 358.8L438.6 365.8L439.5 365.8L440.5 366.3L441.5 371.8L442.4 359.3L443.4 363.4L444.3 365.7L445.3 360.6L446.3 358.1L447.2 366.0L448.2 372.8L449.1 369.4L450.1 367.6L451.1 368.6L452.0 365.4L453.0 378.3L454.0 377.5L454.9 363.4L455.9 372.3L456.8 367.3L457.8 357.7L458.8 364.0L459.7 358.4L460.7 364.5L461.7 366.5L462.6 368.6L463.6 378.3L464.5 375.6L465.5 362.6L466.5 361.0L467.4 370.9L468.4 365.9L469.4 365.8L470.3 364.8L471.3 371.5L472.2 370.1L473.2 365.4L474.2 365.2L475.1 364.0L476.1 360.5L477.0 371.1L478.0 364.3L479.0 369.5L479.9 368.3L480.9 366.3L481.9 368.0L482.8 368.3L483.8 367.3L484.7 370.8L485.7 365.0L486.7 368.4L487.6 362.8L488.6 362.3L489.6 362.5L490.5 363.3L491.5 365.9L492.4 359.7L493.4 360.3L494.4 370.1L495.3 368.2L496.3 372.8L497.2 366.6L498.2 371.9L499.2 366.3L500.1 376.2L501.1 374.3L502.1 369.7L503.0 361.0L504.0 361.6L504.9 357.1L505.9 362.0L506.9 355.5L507.8 358.2L508.8 366.6L509.8 361.0L510.7 362.3L511.7 360.9L512.6 356.8L513.6 367.9L514.6 357.4L515.5 358.8L516.5 368.2L517.5 368.4L518.4 367.1L519.4 357.8L520.3 360.0L521.3 367.9L522.3 367.0L523.2 368.9L524.2 361.0L525.1 366.3L526.1 364.8L527.1 365.3L528.0 371.5L529.0 366.0L530.0 360.2L530.9 356.4L531.9 364.3L532.8 358.2L533.8 357.3L534.8 360.7L535.7 359.1L536.7 364.0L537.7 362.9L538.6 362.1L539.6 358.9L540.5 356.2L541.5 362.3L542.5 364.2L543.4 363.5L544.4 364.4L545.3 369.3L546.3 367.3L547.3 361.0L548.2 366.7L549.2 370.0L550.2 368.2L551.1 356.9L552.1 360.4L553.0 370.7L554.0 361.7L555.0 360.0L555.9 365.9L556.9 356.6L557.9 366.2L558.8 364.2L559.8 362.5L560.7 368.7L561.7 374.6L562.7 364.6L563.6 373.4L564.6 370.2L565.6 363.2L566.5 355.2L567.5 363.4L568.4 368.7L569.4 368.7L570.4 372.9L571.3 354.7L572.3 364.0L573.2 360.8L574.2 368.8L575.2 363.2L576.1 362.5L577.1 369.1L578.1 361.5L579.0 356.3L580.0 352.2L580.9 364.2L581.9 366.9L582.9 364.8L583.8 354.4L584.8 361.0L585.8 361.3L586.7 357.1L587.7 369.9L588.6 359.0L589.6 354.1L590.6 363.8L591.5 371.0L592.5 368.3L593.4 359.5L594.4 352.3L595.4 364.2L596.3 362.6L597.3 366.6L598.3 364.2L599.2 359.4L600.2 362.1L601.1 364.3L602.1 361.3L603.1 366.6L604.0 356.7L605.0 364.8L606.0 368.5L606.9 363.7L607.9 356.0L608.8 359.2L609.8 365.4L610.8 360.2L611.7 362.1L612.7 366.2L613.7 361.8L614.6 364.0L615.6 362.0L616.5 364.3L617.5 353.7L618.5 371.6L619.4 365.0L620.4 368.2L621.3 372.2L622.3 369.6L623.3 367.0L624.2 364.3L625.2 362.5L626.2 360.2L627.1 361.5L628.1 362.0L629.0 365.1L630.0 359.7L631.0 370.3L631.9 364.0L632.9 365.8L633.9 373.2L634.8 365.2L635.8 362.3L636.7 364.2L637.7 370.1L638.7 360.4L639.6 352.5L640.6 356.8L641.5 363.0L642.5 366.0L643.5 356.7L644.4 368.8L645.4 368.2L646.4 364.2L647.3 360.8L648.3 356.4L649.2 361.0L650.2 359.9L651.2 362.3L652.1 365.4L653.1 364.1L654.1 369.5L655.0 367.6L656.0 370.3L656.9 373.0L657.9 366.3L658.9 366.8L659.8 368.4L660.8 364.7L661.8 369.4L662.7 370.5L663.7 359.2L664.6 369.7L665.6 367.5L666.6 364.4L667.5 365.2L668.5 359.4L669.4 364.1L670.4 370.9L671.4 364.4L672.3 370.6L673.3 364.4L674.3 377.9L675.2 361.0L676.2 363.8L677.1 363.6L678.1 363.6L679.1 367.4L680.0 363.2L681.0 369.4L682.0 370.9L682.9 364.5L683.9 359.7L684.8 365.9L685.8 355.5L686.8 361.8L687.7 373.8L688.7 372.9L689.6 367.9L690.6 366.9L691.6 359.4L692.5 368.1L693.5 359.9L694.5 362.6L695.4 367.5L696.4 370.9L697.3 365.5L698.3 363.5L699.3 357.0L700.2 368.4L701.2 362.8L702.2 362.6L703.1 361.6L704.1 368.7L705.0 363.0L706.0 360.2L707.0 359.7L707.9 370.2L708.9 363.7L709.9 367.6L710.8 359.9L711.8 357.1L712.7 360.2L713.7 358.7L714.7 376.2L715.6 366.1L716.6 366.4L717.5 364.9L718.5 361.6L719.5 362.0L720.4 359.6L721.4 363.4L722.4 362.6L723.3 357.8L724.3 361.4L725.2 369.0L726.2 366.5L727.2 363.8L728.1 361.8L729.1 366.6L730.1 369.5L731.0 363.8L732.0 358.5L732.9 370.6L733.9 360.5L734.8 361.1L735.8 360.8L736.7 355.9L737.7 363.0L738.6 362.4L739.6 366.7L740.6 361.6L741.5 358.6L742.5 360.5L743.5 362.9L744.4 355.0L745.4 359.0L746.3 360.5L747.3 375.1L748.3 354.3L749.2 357.6L750.2 356.9L751.2 357.0L752.1 363.3L753.1 363.7L754.0 367.8L755.0 371.8L756.0 366.9L756.9 358.6L757.9 353.2L758.8 353.9L759.8 371.8L760.8 366.9L761.7 359.5L762.7 368.7L763.7 370.4L764.6 364.2L765.6 363.2L766.5 351.7L767.5 356.6L768.5 364.5L769.4 370.0L770.4 366.6L771.4 369.0L772.3 362.2L773.3 366.6L774.2 364.3L775.2 362.0L776.2 361.2L777.1 358.8L778.1 366.7L779.0 357.3L780.0 361.5L781.0 367.6L781.9 360.7L782.9 361.7L783.9 362.0L784.8 349.3L785.8 350.9L786.7 363.9L787.7 367.8L788.7 367.2L789.6 369.2L790.6 360.8L791.6 363.2L792.5 363.9L793.5 370.2L794.4 367.7L795.4 359.4L796.4 366.8L797.3 363.3L798.3 362.7L799.3 364.7L800.2 365.6L801.2 369.1L802.1 364.7L803.1 371.9L804.1 369.3L805.0 363.9L806.0 369.8L806.9 364.3L807.9 365.8L808.9 362.0L809.8 366.1L810.8 372.9L811.8 366.8L812.7 362.0L813.7 361.6L814.6 363.5L815.6 370.9L816.6 367.9L817.5 367.7L818.5 372.8L819.5 358.7L820.4 358.3L821.4 357.3L822.3 350.3L823.3 357.3L824.3 360.3L825.2 349.5L826.2 353.1L827.1 352.6L828.1 358.7L829.1 354.6"/>
<path d="M157.6 360.7L158.5 362.2L159.5 369.6L160.4 359.8L161.4 359.5L162.4 369.7L163.3 357.3L164.3 361.8L165.3 362.4L166.2 353.4L167.2 351.7L168.1 363.7L169.1 373.8L170.1 362.5L171.0 359.6L172.0 353.5L173.0 364.9L173.9 359.7L174.9 366.5L175.8 368.8L176.8 370.4L177.8 366.5L178.7 357.1L179.7 365.2L180.7 371.5L181.6 361.7L182.6 355.8L183.5 368.0L184.5 371.0L185.5 361.3L186.4 353.2L187.4 357.6L188.3 365.8L189.3 363.9L190.3 355.1L191.2 363.3L192.2 359.5L193.2 367.3L194.1 366.9L195.1 361.2L196.0 375.3L197.0 369.0L198.0 364.4L198.9 360.4L199.9 360.5L200.9 367.9L201.8 350.5L202.8 367.2L203.7 365.9L204.7 368.8L205.7 364.9L206.6 356.4L207.6 373.0L208.5 364.0L209.5 352.7L210.5 371.1L211.4 373.4L212.4 363.0L213.4 374.0L214.3 366.7L215.3 367.5L216.2 363.7L217.2 354.7L218.2 362.7L219.1 365.6L220.1 361.4L221.1 373.6L222.0 359.4L223.0 363.0L223.9 355.8L224.9 361.2L225.9 360.4L226.8 372.0L227.8 374.1L228.8 363.0L229.7 356.9L230.7 367.4L231.6 368.0L232.6 364.0L233.6 364.3L234.5 361.0L235.5 366.5L236.4 365.1L237.4 351.3L238.4 368.9L239.3 359.9L240.3 358.4L241.3 352.7L242.2 366.9L243.2 366.2L244.1 368.4L245.1 366.4L246.1 361.7L247.0 363.7L248.0 363.9L249.0 361.2L249.9 364.7L250.9 362.3L251.8 362.5L252.8 371.7L253.8 340.0L254.8 369.4L255.8 370.7L256.7 367.5L257.7 368.3L258.7 367.1L259.6 374.3L260.6 370.3L261.6 371.2L262.5 366.6L263.5 364.4L264.4 368.5L265.4 365.9L266.4 369.2L267.3 361.5L268.3 365.2L269.3 372.5L270.2 368.3L271.2 364.3L272.1 356.6L273.1 365.9L274.1 365.9L275.0 364.1L276.0 369.6L277.0 366.9L277.9 368.1L278.9 370.7L279.8 377.4L280.8 370.7L281.8 367.2L282.7 366.8L283.7 361.0L284.6 357.1L285.6 367.5L286.6 376.9L287.5 363.3L288.5 370.1L289.5 363.4L290.4 365.4L291.4 362.4L292.3 362.8L293.3 371.0L294.3 365.1L295.2 373.4L296.2 368.9L297.2 364.1L298.1 361.7L299.1 366.9L300.0 367.5L301.0 364.4L302.0 367.1L302.9 367.6L303.9 366.8L304.8 373.6L305.8 365.2L306.8 361.7L307.7 373.5L308.7 371.6L309.7 360.5L310.6 362.5L311.6 365.8L312.5 361.7L313.5 365.7L314.5 366.6L315.4 367.9L316.4 364.7L317.4 360.7L318.3 364.1L319.3 356.4L320.2 372.0L321.2 373.1L322.2 364.6L323.1 369.7L324.1 367.2L325.1 365.5L326.0 362.7L327.0 370.9L327.9 362.5L328.9 373.9L329.9 360.8L330.8 363.6L331.8 361.7L332.7 366.4L333.7 357.5L334.7 367.8L335.6 367.2L336.6 367.0L337.6 366.3L338.5 364.7L339.5 358.2L340.4 363.4L341.4 371.3L342.4 366.8L343.3 355.0L344.3 364.9L345.3 371.5L346.2 377.8L347.2 370.5L348.1 362.9L349.1 364.6L350.1 363.1L351.0 362.6L352.0 366.5L352.9 367.8L353.9 369.7L354.9 370.2L355.8 371.2L356.8 368.4L357.8 367.0L358.7 367.6L359.7 367.7L360.6 372.7L361.6 368.4L362.6 366.5L363.5 362.8L364.5 352.5L365.5 362.8L366.4 368.8L367.4 362.5L368.3 368.3L369.3 366.4L370.3 366.6L371.2 364.3L372.2 362.9L373.2 365.1L374.1 364.2L375.1 365.7L376.0 359.0L377.0 367.1L378.0 358.2L378.9 355.5L379.9 356.2L380.8 361.2L381.8 359.9L382.8 357.2L383.7 364.5L384.7 365.3L385.7 361.1L386.6 360.0L387.6 359.5L388.5 368.7L389.5 363.0L390.5 368.6L391.4 363.6L392.4 368.8L393.4 364.6L394.3 364.9L395.3 357.1L396.2 365.5L397.2 365.3L398.2 361.5L399.1 368.4L400.1 365.8L401.0 366.6L402.0 360.8L403.0 367.7L403.9 365.0L404.9 369.8L405.9 364.5L406.8 368.7L407.8 368.3L408.7 367.5L409.7 365.7L410.7 366.8L411.6 370.3L412.6 361.6L413.6 367.9L414.5 361.8L415.5 362.2L416.4 363.3L417.4 363.3L418.4 370.4L419.3 361.1L420.3 362.8L421.3 367.1L422.2 357.9L423.2 362.5L424.1 363.9L425.1 362.8L426.1 368.0L427.0 365.6L428.0 367.3L428.9 365.8L429.9 368.5L430.9 369.9L431.8 363.2L432.8 361.7L433.8 367.0L434.7 367.9L435.7 362.7L436.6 362.9L437.6 367.0L438.6 361.9L439.5 365.6L440.5 364.8L441.5 366.8L442.4 362.5L443.4 367.1L444.3 369.8L445.3 363.5L446.3 352.6L447.2 370.0L448.2 365.9L449.1 365.3L450.1 364.1L451.1 374.0L452.0 367.9L453.0 358.4L454.0 371.9L454.9 372.4L455.9 372.6L456.8 368.4L457.8 370.7L458.8 372.1L459.7 367.2L460.7 367.3L461.7 366.5L462.6 368.7L463.6 371.2L464.5 365.8L465.5 362.8L466.5 367.3L467.4 371.6L468.4 366.3L469.4 365.2L470.3 364.9L471.3 369.5L472.2 367.8L473.2 362.0L474.2 357.7L475.1 364.6L476.1 365.9L477.0 365.0L478.0 361.3L479.0 360.4L479.9 366.3L480.9 367.0L481.9 361.2L482.8 371.9L483.8 373.5L484.7 368.8L485.7 365.2L486.7 365.4L487.6 362.5L488.6 363.7L489.6 362.6L490.5 362.2L491.5 365.6L492.4 368.6L493.4 375.1L494.4 358.9L495.3 365.0L496.3 368.1L497.2 369.7L498.2 367.3L499.2 364.8L500.1 369.4L501.1 369.1L502.1 360.8L503.0 358.4L504.0 363.3L504.9 365.0L505.9 361.9L506.9 367.0L507.8 368.2L508.8 363.7L509.8 373.8L510.7 365.8L511.7 361.6L512.6 354.6L513.6 367.9L514.6 367.4L515.5 367.1L516.5 361.9L517.5 364.7L518.4 359.7L519.4 355.6L520.3 361.0L521.3 363.5L522.3 371.0L523.2 368.6L524.2 362.3L525.1 366.1L526.1 366.9L527.1 362.5L528.0 363.8L529.0 366.1L530.0 361.7L530.9 364.7L531.9 365.0L532.8 369.7L533.8 355.0L534.8 359.2L535.7 363.7L536.7 364.7L537.7 368.9L538.6 365.6L539.6 371.0L540.5 369.5L541.5 363.0L542.5 366.7L543.4 366.0L544.4 360.5L545.3 363.4L546.3 373.5L547.3 375.0L548.2 368.8L549.2 362.5L550.2 361.6L551.1 361.0L552.1 358.9L553.0 370.9L554.0 363.5L555.0 369.1L555.9 361.3L556.9 363.4L557.9 362.0L558.8 369.0L559.8 369.5L560.7 372.4L561.7 369.9L562.7 371.1L563.6 362.4L564.6 365.1L565.6 368.6L566.5 372.9L567.5 362.7L568.4 373.3L569.4 367.9L570.4 363.5L571.3 366.7L572.3 363.0L573.2 364.4L574.2 363.3L575.2 367.4L576.1 371.1L577.1 365.5L578.1 357.7L579.0 364.3L580.0 367.8L580.9 375.6L581.9 363.9L582.9 376.0L583.8 368.6L584.8 362.6L585.8 363.0L586.7 372.2L587.7 372.9L588.6 363.9L589.6 364.1L590.6 377.0L591.5 366.5L592.5 365.8L593.4 365.7L594.4 366.3L595.4 375.2L596.3 372.6L597.3 361.7L598.3 353.7L599.2 366.4L600.2 369.9L601.1 361.1L602.1 368.0L603.1 371.6L604.0 369.9L605.0 364.8L606.0 373.7L606.9 359.3L607.9 370.7L608.8 371.2L609.8 364.8L610.8 367.4L611.7 366.5L612.7 367.9L613.7 359.2L614.6 360.7L615.6 355.6L616.5 365.6L617.5 361.3L618.5 361.9L619.4 366.2L620.4 360.8L621.3 352.7L622.3 365.1L623.3 364.8L624.2 367.3L625.2 365.2L626.2 359.8L627.1 363.7L628.1 377.7L629.0 364.7L630.0 373.3L631.0 365.2L631.9 367.3L632.9 361.1L633.9 366.1L634.8 363.6L635.8 356.0L636.7 358.6L637.7 360.3L638.7 365.7L639.6 369.0L640.6 366.2L641.5 363.2L642.5 360.2L643.5 368.1L644.4 360.8L645.4 366.2L646.4 365.5L647.3 368.7L648.3 365.3L649.2 361.3L650.2 362.1L651.2 374.7L652.1 368.4L653.1 367.9L654.1 371.4L655.0 367.6L656.0 367.0L656.9 371.3L657.9 368.7L658.9 368.1L659.8 360.2L660.8 366.1L661.8 375.9L662.7 367.6L663.7 361.8L664.6 358.8L665.6 363.5L666.6 365.4L667.5 357.2L668.5 365.3L669.4 363.5L670.4 368.1L671.4 366.0L672.3 370.5L673.3 363.6L674.3 367.4L675.2 365.4L676.2 355.4L677.1 363.8L678.1 360.9L679.1 373.1L680.0 361.1L681.0 370.8L682.0 366.2L682.9 359.6L683.9 363.1L684.8 360.4L685.8 354.7L686.8 356.7L687.7 359.7L688.7 367.2L689.6 363.1L690.6 365.6L691.6 369.4L692.5 366.8L693.5 361.4L694.5 359.5L695.4 365.1L696.4 368.8L697.3 365.9L698.3 367.6L699.3 369.5L700.2 356.0L701.2 363.1L702.2 366.7L703.1 368.5L704.1 372.8L705.0 366.8L706.0 374.1L707.0 367.0L707.9 363.3L708.9 365.6L709.9 370.2L710.8 358.5L711.8 363.1L712.7 364.7L713.7 366.5L714.7 360.3L715.6 362.6L716.6 372.2L717.5 363.9L718.5 361.7L719.5 369.1L720.4 362.0L721.4 371.2L722.4 366.9L723.3 356.6L724.3 359.7L725.2 365.1L726.2 370.9L727.2 360.3L728.1 363.7L729.1 358.5L730.1 371.8L731.0 365.8L732.0 367.9L732.9 362.5L733.9 367.4L734.8 360.3L735.8 350.0L736.7 359.9L737.7 362.9L738.6 363.9L739.6 357.6L740.6 350.9L741.5 360.3L742.5 360.6L743.5 350.9L744.4 350.3L745.4 361.1L746.3 364.0L747.3 358.4L748.3 365.5L749.2 365.9L750.2 355.4L751.2 364.0L752.1 367.5L753.1 363.3L754.0 362.8L755.0 370.0L756.0 365.2L756.9 354.8L757.9 372.1L758.8 366.2L759.8 366.5L760.8 361.7L761.7 361.7L762.7 368.2L763.7 361.3L764.6 366.1L765.6 371.2L766.5 359.6L767.5 371.7L768.5 375.2L769.4 372.0L770.4 363.1L771.4 356.1L772.3 359.0L773.3 359.7L774.2 361.5L775.2 359.6L776.2 362.4L777.1 367.2L778.1 356.7L779.0 361.5L780.0 367.6L781.0 353.7L781.9 365.9L782.9 361.0L783.9 366.9L784.8 353.9L785.8 363.0L786.7 357.1L787.7 367.6L788.7 354.8L789.6 366.1L790.6 356.0L791.6 367.2L792.5 361.8L793.5 356.2L794.4 359.3L795.4 359.3L796.4 360.7L797.3 356.8L798.3 356.0L799.3 363.9L800.2 366.7L801.2 361.3L802.1 367.2L803.1 358.6L804.1 356.9L805.0 354.5L806.0 354.2L806.9 355.3L807.9 366.6L808.9 365.4L809.8 356.6L810.8 360.7L811.8 347.2L812.7 362.5L813.7 353.6L814.6 363.1L815.6 351.6L816.6 354.1L817.5 360.8L818.5 358.5L819.5 370.3L820.4 363.4L821.4 358.7L822.3 366.3L823.3 361.8L824.3 360.0L825.2 357.3L826.2 369.7L827.1 359.8L828.1 359.6L829.1 364.6"/>
<path d="M157.6 367.1L158.5 367.9L159.5 377.2L160.4 366.6L161.4 368.6L162.4 363.2L163.3 367.9L164.3 359.8L165.3 361.9L166.2 366.2L167.2 364.3L168.1 367.5L169.1 368.1L170.1 358.4L171.0 356.3L172.0 361.5L173.0 365.2L173.9 370.3L174.9 365.7L175.8 368.6L176.8 370.5L177.8 354.4L178.7 362.4L179.7 361.3L180.7 366.9L181.6 365.2L182.6 366.0L183.5 357.6L184.5 361.2L185.5 360.1L186.4 374.0L187.4 350.1L188.3 371.0L189.3 367.0L190.3 366.9L191.2 367.1L192.2 371.9L193.2 360.2L194.1 369.1L195.1 366.9L196.0 358.3L197.0 369.0L198.0 364.5L198.9 368.4L199.9 358.9L200.9 364.8L201.8 355.0L202.8 371.7L203.7 362.3L204.7 358.0L205.7 359.7L206.6 373.5L207.6 364.0L208.5 357.4L209.5 365.8L210.5 363.6L211.4 368.6L212.4 364.0L213.4 366.5L214.3 367.9L215.3 371.3L216.2 367.4L217.2 367.1L218.2 367.5L219.1 369.7L220.1 370.7L221.1 372.9L222.0 367.3L223.0 359.7L223.9 356.8L224.9 366.4L225.9 362.6L226.8 367.7L227.8 364.7L228.8 363.5L229.7 371.4L230.7 356.6L231.6 368.7L232.6 372.5L233.6 369.0L234.5 366.8L235.5 365.8L236.4 371.5L237.4 357.3L238.4 365.4L239.3 370.5L240.3 369.1L241.3 361.8L242.2 378.7L243.2 367.7L244.1 368.2L245.1 365.6L246.1 369.5L247.0 377.5L248.0 367.1L249.0 362.8L249.9 370.1L250.9 367.8L251.8 367.9L252.8 367.4L253.8 340.0L254.8 365.1L255.8 360.9L256.7 361.7L257.7 361.4L258.7 366.1L259.6 372.5L260.6 378.5L261.6 360.3L262.5 360.3L263.5 369.5L264.4 364.8L265.4 363.8L266.4 368.5L267.3 366.9L268.3 366.1L269.3 368.6L270.2 365.6L271.2 353.9L272.1 366.3L273.1 367.3L274.1 365.1L275.0 364.1L276.0 365.9L277.0 366.0L277.9 371.3L278.9 371.1L279.8 365.7L280.8 372.8L281.8 361.5L282.7 361.5L283.7 361.4L284.6 368.2L285.6 371.7L286.6 368.6L287.5 372.6L288.5 369.9L289.5 365.8L290.4 372.8L291.4 370.6L292.3 372.0L293.3 360.0L294.3 365.5L295.2 370.2L296.2 370.2L297.2 367.0L298.1 367.0L299.1 367.9L300.0 362.0L301.0 363.3L302.0 367.6L302.9 367.1L303.9 369.0L304.8 371.0L305.8 374.8L306.8 370.0L307.7 373.8L308.7 365.9L309.7 368.9L310.6 373.6L311.6 370.1L312.5 356.7L313.5 355.9L314.5 366.2L315.4 375.2L316.4 355.3L317.4 364.4L318.3 365.7L319.3 367.2L320.2 368.9L321.2 367.3L322.2 366.8L323.1 374.6L324.1 368.1L325.1 360.3L326.0 357.7L327.0 366.8L327.9 372.3L328.9 355.4L329.9 364.6L330.8 367.4L331.8 360.7L332.7 372.3L333.7 366.8L334.7 370.5L335.6 366.0L336.6 378.0L337.6 376.8L338.5 366.7L339.5 368.6L340.4 373.5L341.4 365.0L342.4 370.5L343.3 367.1L344.3 370.3L345.3 371.1L346.2 363.6L347.2 362.9L348.1 367.5L349.1 355.6L350.1 359.3L351.0 364.8L352.0 358.3L352.9 367.1L353.9 364.5L354.9 355.5L355.8 362.7L356.8 368.1L357.8 360.6L358.7 370.0L359.7 362.0L360.6 363.3L361.6 362.8L362.6 357.6L363.5 365.2L364.5 366.9L365.5 363.2L366.4 357.5L367.4 364.4L368.3 372.1L369.3 359.3L370.3 353.4L371.2 365.2L372.2 363.5L373.2 367.2L374.1 369.7L375.1 360.7L376.0 360.6L377.0 361.6L378.0 365.7L378.9 368.1L379.9 366.2L380.8 374.5L381.8 358.2L382.8 369.6L383.7 368.0L384.7 368.3L385.7 356.5L386.6 372.0L387.6 363.9L388.5 364.3L389.5 360.4L390.5 365.5L391.4 368.3L392.4 365.1L393.4 368.6L394.3 369.1L395.3 366.1L396.2 366.7L397.2 357.7L398.2 362.3L399.1 361.1L400.1 369.9L401.0 371.8L402.0 370.2L403.0 367.9L403.9 365.4L404.9 366.1L405.9 361.8L406.8 364.2L407.8 370.6L408.7 377.4L409.7 378.3L410.7 372.2L411.6 372.8L412.6 362.4L413.6 367.2L414.5 363.8L415.5 371.9L416.4 368.4L417.4 371.8L418.4 368.2L419.3 360.6L420.3 368.6L421.3 370.9L422.2 367.6L423.2 364.4L424.1 364.0L425.1 367.3L426.1 376.6L427.0 369.4L428.0 362.9L428.9 365.9L429.9 361.4L430.9 363.6L431.8 358.3L432.8 362.9L433.8 366.7L434.7 373.5L435.7 365.3L436.6 362.2L437.6 362.9L438.6 364.3L439.5 362.8L440.5 360.5L441.5 359.4L442.4 359.9L443.4 359.7L444.3 369.5L445.3 366.8L446.3 368.0L447.2 369.8L448.2 367.2L449.1 364.1L450.1 360.3L451.1 359.5L452.0 362.3L453.0 362.9L454.0 363.6L454.9 362.8L455.9 367.0L456.8 360.5L457.8 368.2L458.8 367.7L459.7 361.7L460.7 360.8L461.7 369.7L462.6 360.8L463.6 371.3L464.5 366.7L465.5 366.2L466.5 369.0L467.4 366.6L468.4 364.4L469.4 358.5L470.3 360.1L471.3 365.0L472.2 354.1L473.2 361.2L474.2 362.2L475.1 359.7L476.1 370.0L477.0 365.8L478.0 370.3L479.0 360.3L479.9 364.2L480.9 377.7L481.9 374.4L482.8 368.3L483.8 367.9L484.7 363.1L485.7 366.6L486.7 370.1L487.6 370.1L488.6 366.4L489.6 367.7L490.5 369.9L491.5 373.0L492.4 365.5L493.4 362.5L494.4 366.1L495.3 372.5L496.3 374.7L497.2 361.5L498.2 367.5L499.2 373.5L500.1 356.8L501.1 356.8L502.1 371.9L503.0 365.1L504.0 367.0L504.9 368.1L505.9 368.9L506.9 373.1L507.8 355.3L508.8 362.6L509.8 351.3L510.7 360.9L511.7 363.6L512.6 366.3L513.6 361.6L514.6 365.6L515.5 378.0L516.5 371.4L517.5 361.5L518.4 359.0L519.4 358.9L520.3 370.1L521.3 366.2L522.3 370.1L523.2 365.4L524.2 362.5L525.1 367.8L526.1 367.8L527.1 365.9L528.0 371.1L529.0 366.7L530.0 365.4L530.9 372.5L531.9 372.0L532.8 370.8L533.8 357.2L534.8 368.9L535.7 363.8L536.7 367.7L537.7 369.6L538.6 370.0L539.6 363.3L540.5 365.8L541.5 367.9L542.5 358.0L543.4 357.8L544.4 365.2L545.3 367.8L546.3 375.4L547.3 375.0L548.2 365.6L549.2 362.2L550.2 352.2L551.1 365.2L552.1 358.3L553.0 365.3L554.0 363.1L555.0 369.5L555.9 363.4L556.9 379.4L557.9 375.9L558.8 380.9L559.8 370.2L560.7 356.1L561.7 370.4L562.7 371.1L563.6 367.9L564.6 362.1L565.6 361.3L566.5 366.2L567.5 367.6L568.4 369.6L569.4 369.5L570.4 363.4L571.3 372.7L572.3 367.1L573.2 367.9L574.2 362.8L575.2 368.2L576.1 369.7L577.1 369.9L578.1 367.0L579.0 363.0L580.0 361.1L580.9 365.7L581.9 369.7L582.9 362.1L583.8 368.5L584.8 374.5L585.8 365.5L586.7 373.8L587.7 358.9L588.6 366.4L589.6 380.3L590.6 365.9L591.5 366.6L592.5 371.9L593.4 369.9L594.4 367.9L595.4 365.8L596.3 363.6L597.3 365.1L598.3 368.4L599.2 369.4L600.2 362.0L601.1 361.9L602.1 366.6L603.1 370.5L604.0 372.0L605.0 371.3L606.0 361.7L606.9 368.4L607.9 378.3L608.8 367.2L609.8 361.8L610.8 362.9L611.7 362.3L612.7 362.2L613.7 365.3L614.6 361.5L615.6 357.7L616.5 350.9L617.5 367.4L618.5 367.0L619.4 369.8L620.4 362.4L621.3 369.3L622.3 364.6L623.3 364.3L624.2 360.7L625.2 367.9L626.2 372.1L627.1 365.3L628.1 362.4L629.0 359.0L630.0 377.6L631.0 368.7L631.9 359.5L632.9 362.5L633.9 362.2L634.8 358.4L635.8 360.1L636.7 357.7L637.7 372.8L638.7 368.1L639.6 369.2L640.6 363.7L641.5 367.4L642.5 368.5L643.5 368.3L644.4 368.8L645.4 364.0L646.4 361.3L647.3 363.4L648.3 364.2L649.2 361.2L650.2 359.6L651.2 367.1L652.1 362.5L653.1 359.5L654.1 377.8L655.0 365.3L656.0 369.2L656.9 359.2L657.9 361.9L658.9 366.7L659.8 366.2L660.8 352.5L661.8 363.5L662.7 363.1L663.7 371.1L664.6 365.5L665.6 372.4L666.6 364.7L667.5 361.0L668.5 355.4L669.4 369.3L670.4 369.1L671.4 368.3L672.3 368.2L673.3 366.8L674.3 368.0L675.2 364.7L676.2 363.0L677.1 366.1L678.1 369.1L679.1 368.4L680.0 371.2L681.0 362.4L682.0 363.3L682.9 363.7L683.9 364.6L684.8 369.4L685.8 372.0L686.8 366.5L687.7 357.2L688.7 355.1L689.6 366.3L690.6 360.2L691.6 359.9L692.5 362.2L693.5 366.9L694.5 365.6L695.4 363.3L696.4 357.9L697.3 358.6L698.3 361.3L699.3 366.8L700.2 358.4L701.2 360.1L702.2 359.5L703.1 362.7L704.1 358.5L705.0 367.7L706.0 367.5L707.0 368.6L707.9 369.1L708.9 371.1L709.9 366.2L710.8 362.3L711.8 368.7L712.7 365.2L713.7 365.9L714.7 352.7L715.6 357.4L716.6 360.5L717.5 361.9L718.5 363.0L719.5 358.7L720.4 367.9L721.4 367.2L722.4 362.8L723.3 365.3L724.3 365.4L725.2 360.9L726.2 364.1L727.2 362.2L728.1 374.7L729.1 363.1L730.1 363.3L731.0 352.1L732.0 358.0L732.9 361.2L733.9 365.9L734.8 359.5L735.8 348.7L736.7 355.7L737.7 358.5L738.6 348.9L739.6 346.5L740.6 352.6L741.5 364.9L742.5 352.6L743.5 358.9L744.4 354.1L745.4 363.2L746.3 367.9L747.3 367.2L748.3 356.9L749.2 367.1L750.2 365.8L751.2 366.3L752.1 366.8L753.1 359.6L754.0 350.8L755.0 359.3L756.0 362.1L756.9 360.9L757.9 369.5L758.8 364.5L759.8 375.4L760.8 362.3L761.7 357.4L762.7 364.7L763.7 363.8L764.6 360.5L765.6 376.0L766.5 358.9L767.5 354.8L768.5 363.8L769.4 363.0L770.4 371.7L771.4 364.0L772.3 356.1L773.3 371.0L774.2 361.6L775.2 359.0L776.2 363.6L777.1 354.5L778.1 362.2L779.0 368.6L780.0 367.9L781.0 366.2L781.9 374.5L782.9 360.6L783.9 350.5L784.8 357.5L785.8 363.0L786.7 365.3L787.7 356.0L788.7 363.1L789.6 359.4L790.6 353.6L791.6 362.0L792.5 355.7L793.5 353.4L794.4 359.4L795.4 348.7L796.4 361.5L797.3 372.5L798.3 356.3L799.3 354.5L800.2 352.5L801.2 355.6L802.1 348.4L803.1 362.3L804.1 362.1L805.0 356.4L806.0 354.2L806.9 353.3L807.9 354.1L808.9 367.6L809.8 362.4L810.8 360.0L811.8 359.5L812.7 353.7L813.7 359.6L814.6 355.9L815.6 362.6L816.6 359.0L817.5 362.7L818.5 375.8L819.5 359.7L820.4 365.6L821.4 369.0L822.3 367.4L823.3 366.9L824.3 360.4L825.2 368.6L826.2 367.9L827.1 365.6L828.1 362.8L829.1 370.0"/>
</g>
<g stroke="#262626" stroke-width="1.4" fill="none" stroke-linecap="round">
<path d="M130.5 47V526.5H856.5"/>
<path d="M130.5 50.5h7M130.5 155.5h7M130.5 260.5h7M130.5 366.5h7M130.5 471.5h7"/>
<path d="M252.5 526.5v-7M493.5 526.5v-7M733.5 526.5v-7"/>
</g>
<g class="tick" text-anchor="end">
<text x="116" y="62.7">0.3</text>
<text x="116" y="167.8">0.2</text>
<text x="116" y="272.9">0.1</text>
<text x="117.2" y="379">0</text>
<text x="117" y="485">-0.1</text>
</g>
<g class="tick" text-anchor="middle">
<text x="252" y="572.5">0.1</text>
<text x="493" y="572.5">0.35</text>
<text x="733" y="572.5">0.6</text>
</g>
<text class="lab" x="492.5" y="616.5" text-anchor="middle">t [s]</text>
<text class="lab" transform="translate(33.5,288.5) rotate(-90)" text-anchor="middle">I [nA]</text>
<text y="47" font-size="22px" font-weight="bold" fill="#000"><tspan x="166.4">CHOWT</tspan> <tspan x="275.1">Rat</tspan> <tspan x="333.5">CHO</tspan> <tspan x="402.2">15</tspan> <tspan x="444.6">°C</tspan></text>
<text x="838.5" y="46" font-size="22.2px" fill="#000" text-anchor="end">Activation</text>
<text transform="translate(857,287.3) rotate(-90)" font-size="22.2px" fill="#000" text-anchor="middle">BBP Channelpedia ID 4326 rep 1</text>
</svg>
</body></html>
